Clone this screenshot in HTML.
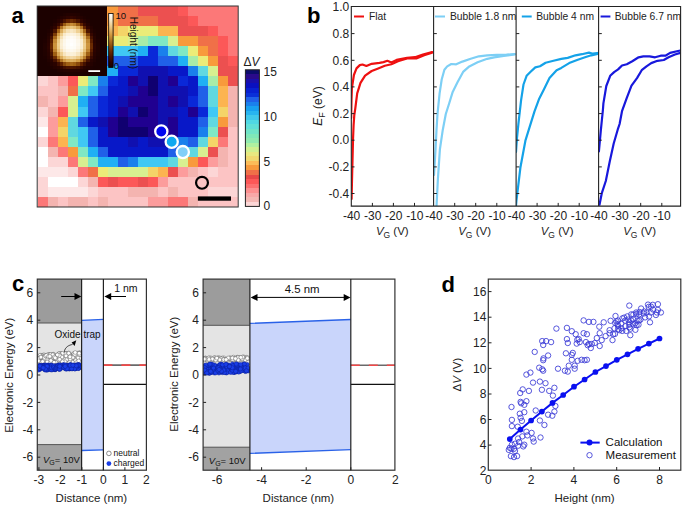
<!DOCTYPE html>
<html><head><meta charset="utf-8"><style>
html,body{margin:0;padding:0;background:#fff;overflow:hidden;}
svg{display:block;}
text{font-family:"Liberation Sans",sans-serif;}
</style></head><body>
<svg width="685" height="507" viewBox="0 0 685 507">
<defs><linearGradient id="dv" x1="0" y1="0" x2="0" y2="1"><stop offset="0.0" stop-color="#0c0c6c"/><stop offset="0.0333" stop-color="#0c0c6c"/><stop offset="0.0333" stop-color="#2a0a8a"/><stop offset="0.0667" stop-color="#2a0a8a"/><stop offset="0.0667" stop-color="#1a0eaa"/><stop offset="0.1" stop-color="#1a0eaa"/><stop offset="0.1" stop-color="#0a10c0"/><stop offset="0.1333" stop-color="#0a10c0"/><stop offset="0.1333" stop-color="#0820d0"/><stop offset="0.1667" stop-color="#0820d0"/><stop offset="0.1667" stop-color="#0a30d8"/><stop offset="0.2" stop-color="#0a30d8"/><stop offset="0.2" stop-color="#2060e8"/><stop offset="0.2333" stop-color="#2060e8"/><stop offset="0.2333" stop-color="#1a80ec"/><stop offset="0.2667" stop-color="#1a80ec"/><stop offset="0.2667" stop-color="#18a0f0"/><stop offset="0.3" stop-color="#18a0f0"/><stop offset="0.3" stop-color="#28b4f0"/><stop offset="0.3333" stop-color="#28b4f0"/><stop offset="0.3333" stop-color="#40c8ec"/><stop offset="0.3667" stop-color="#40c8ec"/><stop offset="0.3667" stop-color="#50d8e4"/><stop offset="0.4" stop-color="#50d8e4"/><stop offset="0.4" stop-color="#60e0d8"/><stop offset="0.4333" stop-color="#60e0d8"/><stop offset="0.4333" stop-color="#70e4c8"/><stop offset="0.4667" stop-color="#70e4c8"/><stop offset="0.4667" stop-color="#80e8b8"/><stop offset="0.5" stop-color="#80e8b8"/><stop offset="0.5" stop-color="#90eab0"/><stop offset="0.5333" stop-color="#90eab0"/><stop offset="0.5333" stop-color="#b0f0a0"/><stop offset="0.5667" stop-color="#b0f0a0"/><stop offset="0.5667" stop-color="#d0f090"/><stop offset="0.6" stop-color="#d0f090"/><stop offset="0.6" stop-color="#e8e880"/><stop offset="0.6333" stop-color="#e8e880"/><stop offset="0.6333" stop-color="#f0d870"/><stop offset="0.6667" stop-color="#f0d870"/><stop offset="0.6667" stop-color="#fcbc58"/><stop offset="0.7" stop-color="#fcbc58"/><stop offset="0.7" stop-color="#f89a3c"/><stop offset="0.7333" stop-color="#f89a3c"/><stop offset="0.7333" stop-color="#f07048"/><stop offset="0.7667" stop-color="#f07048"/><stop offset="0.7667" stop-color="#e84848"/><stop offset="0.8" stop-color="#e84848"/><stop offset="0.8" stop-color="#fc5858"/><stop offset="0.8333" stop-color="#fc5858"/><stop offset="0.8333" stop-color="#fc7070"/><stop offset="0.8667" stop-color="#fc7070"/><stop offset="0.8667" stop-color="#fc9090"/><stop offset="0.9" stop-color="#fc9090"/><stop offset="0.9" stop-color="#f8a8a8"/><stop offset="0.9333" stop-color="#f8a8a8"/><stop offset="0.9333" stop-color="#f4b8b4"/><stop offset="0.9667" stop-color="#f4b8b4"/><stop offset="0.9667" stop-color="#fcd6d6"/><stop offset="1.0" stop-color="#fcd6d6"/></linearGradient><linearGradient id="afm" x1="0" y1="0" x2="0" y2="1"><stop offset="0.00" stop-color="#ffffff"/>
<stop offset="0.10" stop-color="#fbefd6"/>
<stop offset="0.20" stop-color="#f1d69f"/>
<stop offset="0.30" stop-color="#e3b86c"/>
<stop offset="0.40" stop-color="#d09840"/>
<stop offset="0.50" stop-color="#b07323"/>
<stop offset="0.60" stop-color="#8e4e0e"/>
<stop offset="0.70" stop-color="#6b2b02"/>
<stop offset="0.80" stop-color="#4a1400"/>
<stop offset="0.90" stop-color="#2c0300"/>
<stop offset="1.00" stop-color="#160000"/></linearGradient></defs>
<rect width="685" height="507" fill="#fff"/>
<g id="pa">
<g shape-rendering="crispEdges">
<rect x="97.79" y="6.30" width="10.42" height="10.42" fill="#f89a3c"/>
<rect x="107.81" y="6.30" width="10.42" height="10.42" fill="#f89a3c"/>
<rect x="117.82" y="6.30" width="10.42" height="10.42" fill="#f07048"/>
<rect x="127.84" y="6.30" width="10.42" height="10.42" fill="#f07048"/>
<rect x="137.85" y="6.30" width="10.42" height="10.42" fill="#ec5050"/>
<rect x="147.87" y="6.30" width="10.42" height="10.42" fill="#ec5050"/>
<rect x="157.88" y="6.30" width="10.42" height="10.42" fill="#ec5050"/>
<rect x="167.89" y="6.30" width="10.42" height="10.42" fill="#ec5050"/>
<rect x="177.91" y="6.30" width="10.42" height="10.42" fill="#fc5858"/>
<rect x="187.93" y="6.30" width="10.42" height="10.42" fill="#fc7878"/>
<rect x="197.94" y="6.30" width="10.42" height="10.42" fill="#fc7878"/>
<rect x="207.95" y="6.30" width="10.42" height="10.42" fill="#fc7878"/>
<rect x="217.97" y="6.30" width="10.42" height="10.42" fill="#fc7878"/>
<rect x="227.99" y="6.30" width="10.42" height="10.42" fill="#fc7878"/>
<rect x="97.79" y="16.32" width="10.42" height="10.42" fill="#f89a3c"/>
<rect x="107.81" y="16.32" width="10.42" height="10.42" fill="#f89a3c"/>
<rect x="117.82" y="16.32" width="10.42" height="10.42" fill="#f07048"/>
<rect x="127.84" y="16.32" width="10.42" height="10.42" fill="#f07048"/>
<rect x="137.85" y="16.32" width="10.42" height="10.42" fill="#f07048"/>
<rect x="147.87" y="16.32" width="10.42" height="10.42" fill="#f07048"/>
<rect x="157.88" y="16.32" width="10.42" height="10.42" fill="#ec5050"/>
<rect x="167.89" y="16.32" width="10.42" height="10.42" fill="#ec5050"/>
<rect x="177.91" y="16.32" width="10.42" height="10.42" fill="#ec5050"/>
<rect x="187.93" y="16.32" width="10.42" height="10.42" fill="#fc5858"/>
<rect x="197.94" y="16.32" width="10.42" height="10.42" fill="#fc7878"/>
<rect x="207.95" y="16.32" width="10.42" height="10.42" fill="#fc7878"/>
<rect x="217.97" y="16.32" width="10.42" height="10.42" fill="#fc7878"/>
<rect x="227.99" y="16.32" width="10.42" height="10.42" fill="#fc7878"/>
<rect x="97.79" y="26.34" width="10.42" height="10.42" fill="#fcb450"/>
<rect x="107.81" y="26.34" width="10.42" height="10.42" fill="#fcb450"/>
<rect x="117.82" y="26.34" width="10.42" height="10.42" fill="#f4d468"/>
<rect x="127.84" y="26.34" width="10.42" height="10.42" fill="#ecec78"/>
<rect x="137.85" y="26.34" width="10.42" height="10.42" fill="#ecec78"/>
<rect x="147.87" y="26.34" width="10.42" height="10.42" fill="#ecec78"/>
<rect x="157.88" y="26.34" width="10.42" height="10.42" fill="#fcb450"/>
<rect x="167.89" y="26.34" width="10.42" height="10.42" fill="#fcb450"/>
<rect x="177.91" y="26.34" width="10.42" height="10.42" fill="#ec5050"/>
<rect x="187.93" y="26.34" width="10.42" height="10.42" fill="#ec5050"/>
<rect x="197.94" y="26.34" width="10.42" height="10.42" fill="#ec5050"/>
<rect x="207.95" y="26.34" width="10.42" height="10.42" fill="#fc5858"/>
<rect x="217.97" y="26.34" width="10.42" height="10.42" fill="#fc7878"/>
<rect x="227.99" y="26.34" width="10.42" height="10.42" fill="#fc7878"/>
<rect x="97.79" y="36.36" width="10.42" height="10.42" fill="#ecec78"/>
<rect x="107.81" y="36.36" width="10.42" height="10.42" fill="#ecec78"/>
<rect x="117.82" y="36.36" width="10.42" height="10.42" fill="#ecec78"/>
<rect x="127.84" y="36.36" width="10.42" height="10.42" fill="#d8f090"/>
<rect x="137.85" y="36.36" width="10.42" height="10.42" fill="#a8eca8"/>
<rect x="147.87" y="36.36" width="10.42" height="10.42" fill="#80e8c4"/>
<rect x="157.88" y="36.36" width="10.42" height="10.42" fill="#80e8c4"/>
<rect x="167.89" y="36.36" width="10.42" height="10.42" fill="#d8f090"/>
<rect x="177.91" y="36.36" width="10.42" height="10.42" fill="#f89a3c"/>
<rect x="187.93" y="36.36" width="10.42" height="10.42" fill="#f89a3c"/>
<rect x="197.94" y="36.36" width="10.42" height="10.42" fill="#f07048"/>
<rect x="207.95" y="36.36" width="10.42" height="10.42" fill="#f07048"/>
<rect x="217.97" y="36.36" width="10.42" height="10.42" fill="#fc5858"/>
<rect x="227.99" y="36.36" width="10.42" height="10.42" fill="#fc7878"/>
<rect x="97.79" y="46.38" width="10.42" height="10.42" fill="#40c8f4"/>
<rect x="107.81" y="46.38" width="10.42" height="10.42" fill="#40c8f4"/>
<rect x="117.82" y="46.38" width="10.42" height="10.42" fill="#40c8f4"/>
<rect x="127.84" y="46.38" width="10.42" height="10.42" fill="#40c8f4"/>
<rect x="137.85" y="46.38" width="10.42" height="10.42" fill="#20b0f4"/>
<rect x="147.87" y="46.38" width="10.42" height="10.42" fill="#0a28d8"/>
<rect x="157.88" y="46.38" width="10.42" height="10.42" fill="#1a80ec"/>
<rect x="167.89" y="46.38" width="10.42" height="10.42" fill="#60d8e0"/>
<rect x="177.91" y="46.38" width="10.42" height="10.42" fill="#80e8c4"/>
<rect x="187.93" y="46.38" width="10.42" height="10.42" fill="#ecec78"/>
<rect x="197.94" y="46.38" width="10.42" height="10.42" fill="#f89a3c"/>
<rect x="207.95" y="46.38" width="10.42" height="10.42" fill="#f07048"/>
<rect x="217.97" y="46.38" width="10.42" height="10.42" fill="#fc5858"/>
<rect x="227.99" y="46.38" width="10.42" height="10.42" fill="#fc7878"/>
<rect x="97.79" y="56.40" width="10.42" height="10.42" fill="#2060e8"/>
<rect x="107.81" y="56.40" width="10.42" height="10.42" fill="#2060e8"/>
<rect x="117.82" y="56.40" width="10.42" height="10.42" fill="#2060e8"/>
<rect x="127.84" y="56.40" width="10.42" height="10.42" fill="#2060e8"/>
<rect x="137.85" y="56.40" width="10.42" height="10.42" fill="#0a28d8"/>
<rect x="147.87" y="56.40" width="10.42" height="10.42" fill="#0a28d8"/>
<rect x="157.88" y="56.40" width="10.42" height="10.42" fill="#2060e8"/>
<rect x="167.89" y="56.40" width="10.42" height="10.42" fill="#2060e8"/>
<rect x="177.91" y="56.40" width="10.42" height="10.42" fill="#20b0f4"/>
<rect x="187.93" y="56.40" width="10.42" height="10.42" fill="#a8eca8"/>
<rect x="197.94" y="56.40" width="10.42" height="10.42" fill="#ecec78"/>
<rect x="207.95" y="56.40" width="10.42" height="10.42" fill="#f89a3c"/>
<rect x="217.97" y="56.40" width="10.42" height="10.42" fill="#ec5050"/>
<rect x="227.99" y="56.40" width="10.42" height="10.42" fill="#fc5858"/>
<rect x="37.70" y="66.42" width="10.42" height="10.42" fill="#fcd6d6"/>
<rect x="47.72" y="66.42" width="10.42" height="10.42" fill="#fcc4c4"/>
<rect x="57.73" y="66.42" width="10.42" height="10.42" fill="#fc9c9c"/>
<rect x="67.75" y="66.42" width="10.42" height="10.42" fill="#fc5858"/>
<rect x="77.76" y="66.42" width="10.42" height="10.42" fill="#ecec78"/>
<rect x="87.78" y="66.42" width="10.42" height="10.42" fill="#80e8c4"/>
<rect x="97.79" y="66.42" width="10.42" height="10.42" fill="#20b0f4"/>
<rect x="107.81" y="66.42" width="10.42" height="10.42" fill="#20b0f4"/>
<rect x="117.82" y="66.42" width="10.42" height="10.42" fill="#0a28d8"/>
<rect x="127.84" y="66.42" width="10.42" height="10.42" fill="#0a28d8"/>
<rect x="137.85" y="66.42" width="10.42" height="10.42" fill="#1010b0"/>
<rect x="147.87" y="66.42" width="10.42" height="10.42" fill="#1010b0"/>
<rect x="157.88" y="66.42" width="10.42" height="10.42" fill="#1010b0"/>
<rect x="167.89" y="66.42" width="10.42" height="10.42" fill="#0818c8"/>
<rect x="177.91" y="66.42" width="10.42" height="10.42" fill="#0818c8"/>
<rect x="187.93" y="66.42" width="10.42" height="10.42" fill="#1a80ec"/>
<rect x="197.94" y="66.42" width="10.42" height="10.42" fill="#60d8e0"/>
<rect x="207.95" y="66.42" width="10.42" height="10.42" fill="#d8f090"/>
<rect x="217.97" y="66.42" width="10.42" height="10.42" fill="#ec5050"/>
<rect x="227.99" y="66.42" width="10.42" height="10.42" fill="#ec5050"/>
<rect x="37.70" y="76.44" width="10.42" height="10.42" fill="#fcd6d6"/>
<rect x="47.72" y="76.44" width="10.42" height="10.42" fill="#fcc4c4"/>
<rect x="57.73" y="76.44" width="10.42" height="10.42" fill="#fc9c9c"/>
<rect x="67.75" y="76.44" width="10.42" height="10.42" fill="#fc5858"/>
<rect x="77.76" y="76.44" width="10.42" height="10.42" fill="#ecec78"/>
<rect x="87.78" y="76.44" width="10.42" height="10.42" fill="#80e8c4"/>
<rect x="97.79" y="76.44" width="10.42" height="10.42" fill="#1a80ec"/>
<rect x="107.81" y="76.44" width="10.42" height="10.42" fill="#0a28d8"/>
<rect x="117.82" y="76.44" width="10.42" height="10.42" fill="#0818c8"/>
<rect x="127.84" y="76.44" width="10.42" height="10.42" fill="#200090"/>
<rect x="137.85" y="76.44" width="10.42" height="10.42" fill="#1010b0"/>
<rect x="147.87" y="76.44" width="10.42" height="10.42" fill="#100070"/>
<rect x="157.88" y="76.44" width="10.42" height="10.42" fill="#1010b0"/>
<rect x="167.89" y="76.44" width="10.42" height="10.42" fill="#200090"/>
<rect x="177.91" y="76.44" width="10.42" height="10.42" fill="#0a28d8"/>
<rect x="187.93" y="76.44" width="10.42" height="10.42" fill="#0818c8"/>
<rect x="197.94" y="76.44" width="10.42" height="10.42" fill="#20b0f4"/>
<rect x="207.95" y="76.44" width="10.42" height="10.42" fill="#a8eca8"/>
<rect x="217.97" y="76.44" width="10.42" height="10.42" fill="#f89a3c"/>
<rect x="227.99" y="76.44" width="10.42" height="10.42" fill="#ec5050"/>
<rect x="37.70" y="86.46" width="10.42" height="10.42" fill="#fcc4c4"/>
<rect x="47.72" y="86.46" width="10.42" height="10.42" fill="#fcc4c4"/>
<rect x="57.73" y="86.46" width="10.42" height="10.42" fill="#f4b4b0"/>
<rect x="67.75" y="86.46" width="10.42" height="10.42" fill="#f07048"/>
<rect x="77.76" y="86.46" width="10.42" height="10.42" fill="#80e8c4"/>
<rect x="87.78" y="86.46" width="10.42" height="10.42" fill="#40c8f4"/>
<rect x="97.79" y="86.46" width="10.42" height="10.42" fill="#2060e8"/>
<rect x="107.81" y="86.46" width="10.42" height="10.42" fill="#0818c8"/>
<rect x="117.82" y="86.46" width="10.42" height="10.42" fill="#0818c8"/>
<rect x="127.84" y="86.46" width="10.42" height="10.42" fill="#1010b0"/>
<rect x="137.85" y="86.46" width="10.42" height="10.42" fill="#200090"/>
<rect x="147.87" y="86.46" width="10.42" height="10.42" fill="#100070"/>
<rect x="157.88" y="86.46" width="10.42" height="10.42" fill="#1010b0"/>
<rect x="167.89" y="86.46" width="10.42" height="10.42" fill="#1010b0"/>
<rect x="177.91" y="86.46" width="10.42" height="10.42" fill="#1010b0"/>
<rect x="187.93" y="86.46" width="10.42" height="10.42" fill="#0818c8"/>
<rect x="197.94" y="86.46" width="10.42" height="10.42" fill="#2060e8"/>
<rect x="207.95" y="86.46" width="10.42" height="10.42" fill="#60d8e0"/>
<rect x="217.97" y="86.46" width="10.42" height="10.42" fill="#fcb450"/>
<rect x="227.99" y="86.46" width="10.42" height="10.42" fill="#f4b4b0"/>
<rect x="37.70" y="96.48" width="10.42" height="10.42" fill="#f4b4b0"/>
<rect x="47.72" y="96.48" width="10.42" height="10.42" fill="#fcc4c4"/>
<rect x="57.73" y="96.48" width="10.42" height="10.42" fill="#fc9c9c"/>
<rect x="67.75" y="96.48" width="10.42" height="10.42" fill="#d8f090"/>
<rect x="77.76" y="96.48" width="10.42" height="10.42" fill="#20b0f4"/>
<rect x="87.78" y="96.48" width="10.42" height="10.42" fill="#2060e8"/>
<rect x="97.79" y="96.48" width="10.42" height="10.42" fill="#0a28d8"/>
<rect x="107.81" y="96.48" width="10.42" height="10.42" fill="#0818c8"/>
<rect x="117.82" y="96.48" width="10.42" height="10.42" fill="#1010b0"/>
<rect x="127.84" y="96.48" width="10.42" height="10.42" fill="#200090"/>
<rect x="137.85" y="96.48" width="10.42" height="10.42" fill="#200090"/>
<rect x="147.87" y="96.48" width="10.42" height="10.42" fill="#200090"/>
<rect x="157.88" y="96.48" width="10.42" height="10.42" fill="#1010b0"/>
<rect x="167.89" y="96.48" width="10.42" height="10.42" fill="#200090"/>
<rect x="177.91" y="96.48" width="10.42" height="10.42" fill="#1010b0"/>
<rect x="187.93" y="96.48" width="10.42" height="10.42" fill="#0a28d8"/>
<rect x="197.94" y="96.48" width="10.42" height="10.42" fill="#2060e8"/>
<rect x="207.95" y="96.48" width="10.42" height="10.42" fill="#60d8e0"/>
<rect x="217.97" y="96.48" width="10.42" height="10.42" fill="#fcb450"/>
<rect x="227.99" y="96.48" width="10.42" height="10.42" fill="#f4b4b0"/>
<rect x="37.70" y="106.50" width="10.42" height="10.42" fill="#fcd6d6"/>
<rect x="47.72" y="106.50" width="10.42" height="10.42" fill="#f4b4b0"/>
<rect x="57.73" y="106.50" width="10.42" height="10.42" fill="#fc5858"/>
<rect x="67.75" y="106.50" width="10.42" height="10.42" fill="#d8f090"/>
<rect x="77.76" y="106.50" width="10.42" height="10.42" fill="#40c8f4"/>
<rect x="87.78" y="106.50" width="10.42" height="10.42" fill="#2060e8"/>
<rect x="97.79" y="106.50" width="10.42" height="10.42" fill="#0a28d8"/>
<rect x="107.81" y="106.50" width="10.42" height="10.42" fill="#0818c8"/>
<rect x="117.82" y="106.50" width="10.42" height="10.42" fill="#200090"/>
<rect x="127.84" y="106.50" width="10.42" height="10.42" fill="#1010b0"/>
<rect x="137.85" y="106.50" width="10.42" height="10.42" fill="#100070"/>
<rect x="147.87" y="106.50" width="10.42" height="10.42" fill="#200090"/>
<rect x="157.88" y="106.50" width="10.42" height="10.42" fill="#1010b0"/>
<rect x="167.89" y="106.50" width="10.42" height="10.42" fill="#1010b0"/>
<rect x="177.91" y="106.50" width="10.42" height="10.42" fill="#0818c8"/>
<rect x="187.93" y="106.50" width="10.42" height="10.42" fill="#200090"/>
<rect x="197.94" y="106.50" width="10.42" height="10.42" fill="#0a28d8"/>
<rect x="207.95" y="106.50" width="10.42" height="10.42" fill="#40c8f4"/>
<rect x="217.97" y="106.50" width="10.42" height="10.42" fill="#f4d468"/>
<rect x="227.99" y="106.50" width="10.42" height="10.42" fill="#f4b4b0"/>
<rect x="37.70" y="116.52" width="10.42" height="10.42" fill="#fde8e8"/>
<rect x="47.72" y="116.52" width="10.42" height="10.42" fill="#fc9c9c"/>
<rect x="57.73" y="116.52" width="10.42" height="10.42" fill="#fcb450"/>
<rect x="67.75" y="116.52" width="10.42" height="10.42" fill="#60d8e0"/>
<rect x="77.76" y="116.52" width="10.42" height="10.42" fill="#2060e8"/>
<rect x="87.78" y="116.52" width="10.42" height="10.42" fill="#0818c8"/>
<rect x="97.79" y="116.52" width="10.42" height="10.42" fill="#1010b0"/>
<rect x="107.81" y="116.52" width="10.42" height="10.42" fill="#200090"/>
<rect x="117.82" y="116.52" width="10.42" height="10.42" fill="#100070"/>
<rect x="127.84" y="116.52" width="10.42" height="10.42" fill="#200090"/>
<rect x="137.85" y="116.52" width="10.42" height="10.42" fill="#200090"/>
<rect x="147.87" y="116.52" width="10.42" height="10.42" fill="#200090"/>
<rect x="157.88" y="116.52" width="10.42" height="10.42" fill="#1010b0"/>
<rect x="167.89" y="116.52" width="10.42" height="10.42" fill="#200090"/>
<rect x="177.91" y="116.52" width="10.42" height="10.42" fill="#0818c8"/>
<rect x="187.93" y="116.52" width="10.42" height="10.42" fill="#0818c8"/>
<rect x="197.94" y="116.52" width="10.42" height="10.42" fill="#2060e8"/>
<rect x="207.95" y="116.52" width="10.42" height="10.42" fill="#60d8e0"/>
<rect x="217.97" y="116.52" width="10.42" height="10.42" fill="#f89a3c"/>
<rect x="227.99" y="116.52" width="10.42" height="10.42" fill="#f4b4b0"/>
<rect x="37.70" y="126.54" width="10.42" height="10.42" fill="#ffffff"/>
<rect x="47.72" y="126.54" width="10.42" height="10.42" fill="#fc9c9c"/>
<rect x="57.73" y="126.54" width="10.42" height="10.42" fill="#f4d468"/>
<rect x="67.75" y="126.54" width="10.42" height="10.42" fill="#60d8e0"/>
<rect x="77.76" y="126.54" width="10.42" height="10.42" fill="#40c8f4"/>
<rect x="87.78" y="126.54" width="10.42" height="10.42" fill="#2060e8"/>
<rect x="97.79" y="126.54" width="10.42" height="10.42" fill="#0818c8"/>
<rect x="107.81" y="126.54" width="10.42" height="10.42" fill="#200090"/>
<rect x="117.82" y="126.54" width="10.42" height="10.42" fill="#100070"/>
<rect x="127.84" y="126.54" width="10.42" height="10.42" fill="#100070"/>
<rect x="137.85" y="126.54" width="10.42" height="10.42" fill="#100070"/>
<rect x="147.87" y="126.54" width="10.42" height="10.42" fill="#200090"/>
<rect x="157.88" y="126.54" width="10.42" height="10.42" fill="#1010b0"/>
<rect x="167.89" y="126.54" width="10.42" height="10.42" fill="#200090"/>
<rect x="177.91" y="126.54" width="10.42" height="10.42" fill="#0818c8"/>
<rect x="187.93" y="126.54" width="10.42" height="10.42" fill="#0818c8"/>
<rect x="197.94" y="126.54" width="10.42" height="10.42" fill="#1a80ec"/>
<rect x="207.95" y="126.54" width="10.42" height="10.42" fill="#80e8c4"/>
<rect x="217.97" y="126.54" width="10.42" height="10.42" fill="#ec5050"/>
<rect x="227.99" y="126.54" width="10.42" height="10.42" fill="#fcc4c4"/>
<rect x="37.70" y="136.56" width="10.42" height="10.42" fill="#fcd6d6"/>
<rect x="47.72" y="136.56" width="10.42" height="10.42" fill="#fc7878"/>
<rect x="57.73" y="136.56" width="10.42" height="10.42" fill="#fcb450"/>
<rect x="67.75" y="136.56" width="10.42" height="10.42" fill="#80e8c4"/>
<rect x="77.76" y="136.56" width="10.42" height="10.42" fill="#40c8f4"/>
<rect x="87.78" y="136.56" width="10.42" height="10.42" fill="#2060e8"/>
<rect x="97.79" y="136.56" width="10.42" height="10.42" fill="#0818c8"/>
<rect x="107.81" y="136.56" width="10.42" height="10.42" fill="#0818c8"/>
<rect x="117.82" y="136.56" width="10.42" height="10.42" fill="#0818c8"/>
<rect x="127.84" y="136.56" width="10.42" height="10.42" fill="#1010b0"/>
<rect x="137.85" y="136.56" width="10.42" height="10.42" fill="#0818c8"/>
<rect x="147.87" y="136.56" width="10.42" height="10.42" fill="#1010b0"/>
<rect x="157.88" y="136.56" width="10.42" height="10.42" fill="#1010b0"/>
<rect x="167.89" y="136.56" width="10.42" height="10.42" fill="#2060e8"/>
<rect x="177.91" y="136.56" width="10.42" height="10.42" fill="#1a80ec"/>
<rect x="187.93" y="136.56" width="10.42" height="10.42" fill="#2060e8"/>
<rect x="197.94" y="136.56" width="10.42" height="10.42" fill="#60d8e0"/>
<rect x="207.95" y="136.56" width="10.42" height="10.42" fill="#f4d468"/>
<rect x="217.97" y="136.56" width="10.42" height="10.42" fill="#fc7878"/>
<rect x="227.99" y="136.56" width="10.42" height="10.42" fill="#fcc4c4"/>
<rect x="37.70" y="146.58" width="10.42" height="10.42" fill="#ffffff"/>
<rect x="47.72" y="146.58" width="10.42" height="10.42" fill="#f4b4b0"/>
<rect x="57.73" y="146.58" width="10.42" height="10.42" fill="#fc7878"/>
<rect x="67.75" y="146.58" width="10.42" height="10.42" fill="#f89a3c"/>
<rect x="77.76" y="146.58" width="10.42" height="10.42" fill="#80e8c4"/>
<rect x="87.78" y="146.58" width="10.42" height="10.42" fill="#20b0f4"/>
<rect x="97.79" y="146.58" width="10.42" height="10.42" fill="#2060e8"/>
<rect x="107.81" y="146.58" width="10.42" height="10.42" fill="#0818c8"/>
<rect x="117.82" y="146.58" width="10.42" height="10.42" fill="#0818c8"/>
<rect x="127.84" y="146.58" width="10.42" height="10.42" fill="#0818c8"/>
<rect x="137.85" y="146.58" width="10.42" height="10.42" fill="#0818c8"/>
<rect x="147.87" y="146.58" width="10.42" height="10.42" fill="#0818c8"/>
<rect x="157.88" y="146.58" width="10.42" height="10.42" fill="#0818c8"/>
<rect x="167.89" y="146.58" width="10.42" height="10.42" fill="#2060e8"/>
<rect x="177.91" y="146.58" width="10.42" height="10.42" fill="#60d8e0"/>
<rect x="187.93" y="146.58" width="10.42" height="10.42" fill="#60d8e0"/>
<rect x="197.94" y="146.58" width="10.42" height="10.42" fill="#d8f090"/>
<rect x="207.95" y="146.58" width="10.42" height="10.42" fill="#ec5050"/>
<rect x="217.97" y="146.58" width="10.42" height="10.42" fill="#f4b4b0"/>
<rect x="227.99" y="146.58" width="10.42" height="10.42" fill="#fcc4c4"/>
<rect x="37.70" y="156.60" width="10.42" height="10.42" fill="#ffffff"/>
<rect x="47.72" y="156.60" width="10.42" height="10.42" fill="#fcd6d6"/>
<rect x="57.73" y="156.60" width="10.42" height="10.42" fill="#fcd6d6"/>
<rect x="67.75" y="156.60" width="10.42" height="10.42" fill="#fc7878"/>
<rect x="77.76" y="156.60" width="10.42" height="10.42" fill="#d8f090"/>
<rect x="87.78" y="156.60" width="10.42" height="10.42" fill="#80e8c4"/>
<rect x="97.79" y="156.60" width="10.42" height="10.42" fill="#20b0f4"/>
<rect x="107.81" y="156.60" width="10.42" height="10.42" fill="#20b0f4"/>
<rect x="117.82" y="156.60" width="10.42" height="10.42" fill="#2060e8"/>
<rect x="127.84" y="156.60" width="10.42" height="10.42" fill="#1a80ec"/>
<rect x="137.85" y="156.60" width="10.42" height="10.42" fill="#40c8f4"/>
<rect x="147.87" y="156.60" width="10.42" height="10.42" fill="#40c8f4"/>
<rect x="157.88" y="156.60" width="10.42" height="10.42" fill="#40c8f4"/>
<rect x="167.89" y="156.60" width="10.42" height="10.42" fill="#60d8e0"/>
<rect x="177.91" y="156.60" width="10.42" height="10.42" fill="#d8f090"/>
<rect x="187.93" y="156.60" width="10.42" height="10.42" fill="#f89a3c"/>
<rect x="197.94" y="156.60" width="10.42" height="10.42" fill="#fc5858"/>
<rect x="207.95" y="156.60" width="10.42" height="10.42" fill="#fc9c9c"/>
<rect x="217.97" y="156.60" width="10.42" height="10.42" fill="#f4b4b0"/>
<rect x="227.99" y="156.60" width="10.42" height="10.42" fill="#fcc4c4"/>
<rect x="37.70" y="166.62" width="10.42" height="10.42" fill="#fde8e8"/>
<rect x="47.72" y="166.62" width="10.42" height="10.42" fill="#fde8e8"/>
<rect x="57.73" y="166.62" width="10.42" height="10.42" fill="#fde8e8"/>
<rect x="67.75" y="166.62" width="10.42" height="10.42" fill="#fcd6d6"/>
<rect x="77.76" y="166.62" width="10.42" height="10.42" fill="#fc7878"/>
<rect x="87.78" y="166.62" width="10.42" height="10.42" fill="#f07048"/>
<rect x="97.79" y="166.62" width="10.42" height="10.42" fill="#ecec78"/>
<rect x="107.81" y="166.62" width="10.42" height="10.42" fill="#d8f090"/>
<rect x="117.82" y="166.62" width="10.42" height="10.42" fill="#d8f090"/>
<rect x="127.84" y="166.62" width="10.42" height="10.42" fill="#d8f090"/>
<rect x="137.85" y="166.62" width="10.42" height="10.42" fill="#d8f090"/>
<rect x="147.87" y="166.62" width="10.42" height="10.42" fill="#f4d468"/>
<rect x="157.88" y="166.62" width="10.42" height="10.42" fill="#fcb450"/>
<rect x="167.89" y="166.62" width="10.42" height="10.42" fill="#ec5050"/>
<rect x="177.91" y="166.62" width="10.42" height="10.42" fill="#fc9c9c"/>
<rect x="187.93" y="166.62" width="10.42" height="10.42" fill="#f4b4b0"/>
<rect x="197.94" y="166.62" width="10.42" height="10.42" fill="#fcc4c4"/>
<rect x="207.95" y="166.62" width="10.42" height="10.42" fill="#fcd6d6"/>
<rect x="217.97" y="166.62" width="10.42" height="10.42" fill="#fcc4c4"/>
<rect x="227.99" y="166.62" width="10.42" height="10.42" fill="#fcc4c4"/>
<rect x="37.70" y="176.64" width="10.42" height="10.42" fill="#fcd6d6"/>
<rect x="47.72" y="176.64" width="10.42" height="10.42" fill="#ffffff"/>
<rect x="57.73" y="176.64" width="10.42" height="10.42" fill="#ffffff"/>
<rect x="67.75" y="176.64" width="10.42" height="10.42" fill="#ffffff"/>
<rect x="77.76" y="176.64" width="10.42" height="10.42" fill="#fcd6d6"/>
<rect x="87.78" y="176.64" width="10.42" height="10.42" fill="#f4b4b0"/>
<rect x="97.79" y="176.64" width="10.42" height="10.42" fill="#fc5858"/>
<rect x="107.81" y="176.64" width="10.42" height="10.42" fill="#ec5050"/>
<rect x="117.82" y="176.64" width="10.42" height="10.42" fill="#fc5858"/>
<rect x="127.84" y="176.64" width="10.42" height="10.42" fill="#fc5858"/>
<rect x="137.85" y="176.64" width="10.42" height="10.42" fill="#ec5050"/>
<rect x="147.87" y="176.64" width="10.42" height="10.42" fill="#fc5858"/>
<rect x="157.88" y="176.64" width="10.42" height="10.42" fill="#fc9c9c"/>
<rect x="167.89" y="176.64" width="10.42" height="10.42" fill="#fcc4c4"/>
<rect x="177.91" y="176.64" width="10.42" height="10.42" fill="#fcc4c4"/>
<rect x="187.93" y="176.64" width="10.42" height="10.42" fill="#fcc4c4"/>
<rect x="197.94" y="176.64" width="10.42" height="10.42" fill="#fcc4c4"/>
<rect x="207.95" y="176.64" width="10.42" height="10.42" fill="#fcc4c4"/>
<rect x="217.97" y="176.64" width="10.42" height="10.42" fill="#fcc4c4"/>
<rect x="227.99" y="176.64" width="10.42" height="10.42" fill="#fcc4c4"/>
<rect x="37.70" y="186.66" width="10.42" height="10.42" fill="#fcd6d6"/>
<rect x="47.72" y="186.66" width="10.42" height="10.42" fill="#fde8e8"/>
<rect x="57.73" y="186.66" width="10.42" height="10.42" fill="#fde8e8"/>
<rect x="67.75" y="186.66" width="10.42" height="10.42" fill="#fde8e8"/>
<rect x="77.76" y="186.66" width="10.42" height="10.42" fill="#fde8e8"/>
<rect x="87.78" y="186.66" width="10.42" height="10.42" fill="#fcd6d6"/>
<rect x="97.79" y="186.66" width="10.42" height="10.42" fill="#fcc4c4"/>
<rect x="107.81" y="186.66" width="10.42" height="10.42" fill="#fcc4c4"/>
<rect x="117.82" y="186.66" width="10.42" height="10.42" fill="#fcc4c4"/>
<rect x="127.84" y="186.66" width="10.42" height="10.42" fill="#f4b4b0"/>
<rect x="137.85" y="186.66" width="10.42" height="10.42" fill="#f4b4b0"/>
<rect x="147.87" y="186.66" width="10.42" height="10.42" fill="#f4b4b0"/>
<rect x="157.88" y="186.66" width="10.42" height="10.42" fill="#fcc4c4"/>
<rect x="167.89" y="186.66" width="10.42" height="10.42" fill="#f4b4b0"/>
<rect x="177.91" y="186.66" width="10.42" height="10.42" fill="#fcc4c4"/>
<rect x="187.93" y="186.66" width="10.42" height="10.42" fill="#fcc4c4"/>
<rect x="197.94" y="186.66" width="10.42" height="10.42" fill="#fcc4c4"/>
<rect x="207.95" y="186.66" width="10.42" height="10.42" fill="#fcd6d6"/>
<rect x="217.97" y="186.66" width="10.42" height="10.42" fill="#fcd6d6"/>
<rect x="227.99" y="186.66" width="10.42" height="10.42" fill="#fcd6d6"/>
<rect x="37.70" y="196.68" width="10.42" height="10.42" fill="#fc7878"/>
<rect x="47.72" y="196.68" width="10.42" height="10.42" fill="#f4b4b0"/>
<rect x="57.73" y="196.68" width="10.42" height="10.42" fill="#fcc4c4"/>
<rect x="67.75" y="196.68" width="10.42" height="10.42" fill="#f4b4b0"/>
<rect x="77.76" y="196.68" width="10.42" height="10.42" fill="#f4b4b0"/>
<rect x="87.78" y="196.68" width="10.42" height="10.42" fill="#fcc4c4"/>
<rect x="97.79" y="196.68" width="10.42" height="10.42" fill="#f4b4b0"/>
<rect x="107.81" y="196.68" width="10.42" height="10.42" fill="#fcc4c4"/>
<rect x="117.82" y="196.68" width="10.42" height="10.42" fill="#fcc4c4"/>
<rect x="127.84" y="196.68" width="10.42" height="10.42" fill="#fcc4c4"/>
<rect x="137.85" y="196.68" width="10.42" height="10.42" fill="#fcc4c4"/>
<rect x="147.87" y="196.68" width="10.42" height="10.42" fill="#fc9c9c"/>
<rect x="157.88" y="196.68" width="10.42" height="10.42" fill="#fc9c9c"/>
<rect x="167.89" y="196.68" width="10.42" height="10.42" fill="#fc7878"/>
<rect x="177.91" y="196.68" width="10.42" height="10.42" fill="#fc7878"/>
<rect x="187.93" y="196.68" width="10.42" height="10.42" fill="#f4b4b0"/>
<rect x="197.94" y="196.68" width="10.42" height="10.42" fill="#fcc4c4"/>
<rect x="207.95" y="196.68" width="10.42" height="10.42" fill="#fcc4c4"/>
<rect x="217.97" y="196.68" width="10.42" height="10.42" fill="#fcc4c4"/>
<rect x="227.99" y="196.68" width="10.42" height="10.42" fill="#fcc4c4"/>
<rect x="36.7" y="6.3" width="69.5" height="69.1" fill="#220000"/>
<rect x="36.70" y="6.30" width="3.61" height="3.59" fill="#1b0100"/>
<rect x="40.01" y="6.30" width="3.61" height="3.59" fill="#1c0100"/>
<rect x="43.32" y="6.30" width="3.61" height="3.59" fill="#1c0100"/>
<rect x="46.63" y="6.30" width="3.61" height="3.59" fill="#1c0100"/>
<rect x="49.94" y="6.30" width="3.61" height="3.59" fill="#1c0100"/>
<rect x="53.25" y="6.30" width="3.61" height="3.59" fill="#1c0100"/>
<rect x="56.56" y="6.30" width="3.61" height="3.59" fill="#1c0100"/>
<rect x="59.87" y="6.30" width="3.61" height="3.59" fill="#1c0100"/>
<rect x="63.18" y="6.30" width="3.61" height="3.59" fill="#1c0100"/>
<rect x="66.49" y="6.30" width="3.61" height="3.59" fill="#1c0100"/>
<rect x="69.80" y="6.30" width="3.61" height="3.59" fill="#1c0100"/>
<rect x="73.10" y="6.30" width="3.61" height="3.59" fill="#1c0100"/>
<rect x="76.41" y="6.30" width="3.61" height="3.59" fill="#1c0100"/>
<rect x="79.72" y="6.30" width="3.61" height="3.59" fill="#1c0100"/>
<rect x="83.03" y="6.30" width="3.61" height="3.59" fill="#1c0100"/>
<rect x="86.34" y="6.30" width="3.61" height="3.59" fill="#1c0100"/>
<rect x="89.65" y="6.30" width="3.61" height="3.59" fill="#1c0100"/>
<rect x="92.96" y="6.30" width="3.61" height="3.59" fill="#1c0100"/>
<rect x="96.27" y="6.30" width="3.61" height="3.59" fill="#1c0100"/>
<rect x="99.58" y="6.30" width="3.61" height="3.59" fill="#1c0100"/>
<rect x="102.89" y="6.30" width="3.61" height="3.59" fill="#1b0100"/>
<rect x="36.70" y="9.59" width="3.61" height="3.59" fill="#1c0100"/>
<rect x="40.01" y="9.59" width="3.61" height="3.59" fill="#1c0100"/>
<rect x="43.32" y="9.59" width="3.61" height="3.59" fill="#1c0100"/>
<rect x="46.63" y="9.59" width="3.61" height="3.59" fill="#1c0100"/>
<rect x="49.94" y="9.59" width="3.61" height="3.59" fill="#1c0100"/>
<rect x="53.25" y="9.59" width="3.61" height="3.59" fill="#1c0100"/>
<rect x="56.56" y="9.59" width="3.61" height="3.59" fill="#1c0100"/>
<rect x="59.87" y="9.59" width="3.61" height="3.59" fill="#1c0100"/>
<rect x="63.18" y="9.59" width="3.61" height="3.59" fill="#1c0100"/>
<rect x="66.49" y="9.59" width="3.61" height="3.59" fill="#1c0100"/>
<rect x="69.80" y="9.59" width="3.61" height="3.59" fill="#1c0100"/>
<rect x="73.10" y="9.59" width="3.61" height="3.59" fill="#1c0100"/>
<rect x="76.41" y="9.59" width="3.61" height="3.59" fill="#1c0100"/>
<rect x="79.72" y="9.59" width="3.61" height="3.59" fill="#1c0100"/>
<rect x="83.03" y="9.59" width="3.61" height="3.59" fill="#1c0100"/>
<rect x="86.34" y="9.59" width="3.61" height="3.59" fill="#1c0100"/>
<rect x="89.65" y="9.59" width="3.61" height="3.59" fill="#1c0100"/>
<rect x="92.96" y="9.59" width="3.61" height="3.59" fill="#1c0100"/>
<rect x="96.27" y="9.59" width="3.61" height="3.59" fill="#1c0100"/>
<rect x="99.58" y="9.59" width="3.61" height="3.59" fill="#1c0100"/>
<rect x="102.89" y="9.59" width="3.61" height="3.59" fill="#1c0100"/>
<rect x="36.70" y="12.88" width="3.61" height="3.59" fill="#1c0100"/>
<rect x="40.01" y="12.88" width="3.61" height="3.59" fill="#1c0100"/>
<rect x="43.32" y="12.88" width="3.61" height="3.59" fill="#1c0100"/>
<rect x="46.63" y="12.88" width="3.61" height="3.59" fill="#1c0100"/>
<rect x="49.94" y="12.88" width="3.61" height="3.59" fill="#1c0100"/>
<rect x="53.25" y="12.88" width="3.61" height="3.59" fill="#1c0100"/>
<rect x="56.56" y="12.88" width="3.61" height="3.59" fill="#1c0100"/>
<rect x="59.87" y="12.88" width="3.61" height="3.59" fill="#1d0100"/>
<rect x="63.18" y="12.88" width="3.61" height="3.59" fill="#200200"/>
<rect x="66.49" y="12.88" width="3.61" height="3.59" fill="#230200"/>
<rect x="69.80" y="12.88" width="3.61" height="3.59" fill="#240200"/>
<rect x="73.10" y="12.88" width="3.61" height="3.59" fill="#230200"/>
<rect x="76.41" y="12.88" width="3.61" height="3.59" fill="#210200"/>
<rect x="79.72" y="12.88" width="3.61" height="3.59" fill="#1d0100"/>
<rect x="83.03" y="12.88" width="3.61" height="3.59" fill="#1c0100"/>
<rect x="86.34" y="12.88" width="3.61" height="3.59" fill="#1c0100"/>
<rect x="89.65" y="12.88" width="3.61" height="3.59" fill="#1c0100"/>
<rect x="92.96" y="12.88" width="3.61" height="3.59" fill="#1c0100"/>
<rect x="96.27" y="12.88" width="3.61" height="3.59" fill="#1c0100"/>
<rect x="99.58" y="12.88" width="3.61" height="3.59" fill="#1c0100"/>
<rect x="102.89" y="12.88" width="3.61" height="3.59" fill="#1c0100"/>
<rect x="36.70" y="16.17" width="3.61" height="3.59" fill="#1c0100"/>
<rect x="40.01" y="16.17" width="3.61" height="3.59" fill="#1c0100"/>
<rect x="43.32" y="16.17" width="3.61" height="3.59" fill="#1c0100"/>
<rect x="46.63" y="16.17" width="3.61" height="3.59" fill="#1c0100"/>
<rect x="49.94" y="16.17" width="3.61" height="3.59" fill="#1c0100"/>
<rect x="53.25" y="16.17" width="3.61" height="3.59" fill="#1c0100"/>
<rect x="56.56" y="16.17" width="3.61" height="3.59" fill="#1f0100"/>
<rect x="59.87" y="16.17" width="3.61" height="3.59" fill="#240200"/>
<rect x="63.18" y="16.17" width="3.61" height="3.59" fill="#280300"/>
<rect x="66.49" y="16.17" width="3.61" height="3.59" fill="#2e0400"/>
<rect x="69.80" y="16.17" width="3.61" height="3.59" fill="#330600"/>
<rect x="73.10" y="16.17" width="3.61" height="3.59" fill="#2f0400"/>
<rect x="76.41" y="16.17" width="3.61" height="3.59" fill="#280300"/>
<rect x="79.72" y="16.17" width="3.61" height="3.59" fill="#240200"/>
<rect x="83.03" y="16.17" width="3.61" height="3.59" fill="#1f0100"/>
<rect x="86.34" y="16.17" width="3.61" height="3.59" fill="#1c0100"/>
<rect x="89.65" y="16.17" width="3.61" height="3.59" fill="#1c0100"/>
<rect x="92.96" y="16.17" width="3.61" height="3.59" fill="#1c0100"/>
<rect x="96.27" y="16.17" width="3.61" height="3.59" fill="#1c0100"/>
<rect x="99.58" y="16.17" width="3.61" height="3.59" fill="#1c0100"/>
<rect x="102.89" y="16.17" width="3.61" height="3.59" fill="#1c0100"/>
<rect x="36.70" y="19.46" width="3.61" height="3.59" fill="#1c0100"/>
<rect x="40.01" y="19.46" width="3.61" height="3.59" fill="#1c0100"/>
<rect x="43.32" y="19.46" width="3.61" height="3.59" fill="#1c0100"/>
<rect x="46.63" y="19.46" width="3.61" height="3.59" fill="#1c0100"/>
<rect x="49.94" y="19.46" width="3.61" height="3.59" fill="#1c0100"/>
<rect x="53.25" y="19.46" width="3.61" height="3.59" fill="#1f0100"/>
<rect x="56.56" y="19.46" width="3.61" height="3.59" fill="#260200"/>
<rect x="59.87" y="19.46" width="3.61" height="3.59" fill="#310400"/>
<rect x="63.18" y="19.46" width="3.61" height="3.59" fill="#491300"/>
<rect x="66.49" y="19.46" width="3.61" height="3.59" fill="#622200"/>
<rect x="69.80" y="19.46" width="3.61" height="3.59" fill="#6e2e03"/>
<rect x="73.10" y="19.46" width="3.61" height="3.59" fill="#622300"/>
<rect x="76.41" y="19.46" width="3.61" height="3.59" fill="#4a1400"/>
<rect x="79.72" y="19.46" width="3.61" height="3.59" fill="#310500"/>
<rect x="83.03" y="19.46" width="3.61" height="3.59" fill="#260200"/>
<rect x="86.34" y="19.46" width="3.61" height="3.59" fill="#1f0100"/>
<rect x="89.65" y="19.46" width="3.61" height="3.59" fill="#1c0100"/>
<rect x="92.96" y="19.46" width="3.61" height="3.59" fill="#1c0100"/>
<rect x="96.27" y="19.46" width="3.61" height="3.59" fill="#1c0100"/>
<rect x="99.58" y="19.46" width="3.61" height="3.59" fill="#1c0100"/>
<rect x="102.89" y="19.46" width="3.61" height="3.59" fill="#1c0100"/>
<rect x="36.70" y="22.75" width="3.61" height="3.59" fill="#1c0100"/>
<rect x="40.01" y="22.75" width="3.61" height="3.59" fill="#1c0100"/>
<rect x="43.32" y="22.75" width="3.61" height="3.59" fill="#1c0100"/>
<rect x="46.63" y="22.75" width="3.61" height="3.59" fill="#1c0100"/>
<rect x="49.94" y="22.75" width="3.61" height="3.59" fill="#1d0100"/>
<rect x="53.25" y="22.75" width="3.61" height="3.59" fill="#250200"/>
<rect x="56.56" y="22.75" width="3.61" height="3.59" fill="#350700"/>
<rect x="59.87" y="22.75" width="3.61" height="3.59" fill="#5f2100"/>
<rect x="63.18" y="22.75" width="3.61" height="3.59" fill="#9a5a12"/>
<rect x="66.49" y="22.75" width="3.61" height="3.59" fill="#bc812e"/>
<rect x="69.80" y="22.75" width="3.61" height="3.59" fill="#c88e38"/>
<rect x="73.10" y="22.75" width="3.61" height="3.59" fill="#bd822e"/>
<rect x="76.41" y="22.75" width="3.61" height="3.59" fill="#9b5b12"/>
<rect x="79.72" y="22.75" width="3.61" height="3.59" fill="#612200"/>
<rect x="83.03" y="22.75" width="3.61" height="3.59" fill="#370800"/>
<rect x="86.34" y="22.75" width="3.61" height="3.59" fill="#250200"/>
<rect x="89.65" y="22.75" width="3.61" height="3.59" fill="#1d0100"/>
<rect x="92.96" y="22.75" width="3.61" height="3.59" fill="#1c0100"/>
<rect x="96.27" y="22.75" width="3.61" height="3.59" fill="#1c0100"/>
<rect x="99.58" y="22.75" width="3.61" height="3.59" fill="#1c0100"/>
<rect x="102.89" y="22.75" width="3.61" height="3.59" fill="#1c0100"/>
<rect x="36.70" y="26.04" width="3.61" height="3.59" fill="#1c0100"/>
<rect x="40.01" y="26.04" width="3.61" height="3.59" fill="#1c0100"/>
<rect x="43.32" y="26.04" width="3.61" height="3.59" fill="#1c0100"/>
<rect x="46.63" y="26.04" width="3.61" height="3.59" fill="#1c0100"/>
<rect x="49.94" y="26.04" width="3.61" height="3.59" fill="#230200"/>
<rect x="53.25" y="26.04" width="3.61" height="3.59" fill="#2f0400"/>
<rect x="56.56" y="26.04" width="3.61" height="3.59" fill="#602100"/>
<rect x="59.87" y="26.04" width="3.61" height="3.59" fill="#af7121"/>
<rect x="63.18" y="26.04" width="3.61" height="3.59" fill="#d7a552"/>
<rect x="66.49" y="26.04" width="3.61" height="3.59" fill="#e6be75"/>
<rect x="69.80" y="26.04" width="3.61" height="3.59" fill="#ebc780"/>
<rect x="73.10" y="26.04" width="3.61" height="3.59" fill="#e7bf75"/>
<rect x="76.41" y="26.04" width="3.61" height="3.59" fill="#d8a653"/>
<rect x="79.72" y="26.04" width="3.61" height="3.59" fill="#b17323"/>
<rect x="83.03" y="26.04" width="3.61" height="3.59" fill="#622300"/>
<rect x="86.34" y="26.04" width="3.61" height="3.59" fill="#300400"/>
<rect x="89.65" y="26.04" width="3.61" height="3.59" fill="#230200"/>
<rect x="92.96" y="26.04" width="3.61" height="3.59" fill="#1c0100"/>
<rect x="96.27" y="26.04" width="3.61" height="3.59" fill="#1c0100"/>
<rect x="99.58" y="26.04" width="3.61" height="3.59" fill="#1c0100"/>
<rect x="102.89" y="26.04" width="3.61" height="3.59" fill="#1c0100"/>
<rect x="36.70" y="29.33" width="3.61" height="3.59" fill="#1c0100"/>
<rect x="40.01" y="29.33" width="3.61" height="3.59" fill="#1c0100"/>
<rect x="43.32" y="29.33" width="3.61" height="3.59" fill="#1c0100"/>
<rect x="46.63" y="29.33" width="3.61" height="3.59" fill="#1f0100"/>
<rect x="49.94" y="29.33" width="3.61" height="3.59" fill="#280300"/>
<rect x="53.25" y="29.33" width="3.61" height="3.59" fill="#4b1500"/>
<rect x="56.56" y="29.33" width="3.61" height="3.59" fill="#a56518"/>
<rect x="59.87" y="29.33" width="3.61" height="3.59" fill="#dbab5b"/>
<rect x="63.18" y="29.33" width="3.61" height="3.59" fill="#efcf92"/>
<rect x="66.49" y="29.33" width="3.61" height="3.59" fill="#f6e1b6"/>
<rect x="69.80" y="29.33" width="3.61" height="3.59" fill="#f8e7c3"/>
<rect x="73.10" y="29.33" width="3.61" height="3.59" fill="#f6e1b7"/>
<rect x="76.41" y="29.33" width="3.61" height="3.59" fill="#efd093"/>
<rect x="79.72" y="29.33" width="3.61" height="3.59" fill="#dcad5d"/>
<rect x="83.03" y="29.33" width="3.61" height="3.59" fill="#a7681b"/>
<rect x="86.34" y="29.33" width="3.61" height="3.59" fill="#4d1600"/>
<rect x="89.65" y="29.33" width="3.61" height="3.59" fill="#280300"/>
<rect x="92.96" y="29.33" width="3.61" height="3.59" fill="#1f0100"/>
<rect x="96.27" y="29.33" width="3.61" height="3.59" fill="#1c0100"/>
<rect x="99.58" y="29.33" width="3.61" height="3.59" fill="#1c0100"/>
<rect x="102.89" y="29.33" width="3.61" height="3.59" fill="#1c0100"/>
<rect x="36.70" y="32.62" width="3.61" height="3.59" fill="#1c0100"/>
<rect x="40.01" y="32.62" width="3.61" height="3.59" fill="#1c0100"/>
<rect x="43.32" y="32.62" width="3.61" height="3.59" fill="#1c0100"/>
<rect x="46.63" y="32.62" width="3.61" height="3.59" fill="#230200"/>
<rect x="49.94" y="32.62" width="3.61" height="3.59" fill="#340700"/>
<rect x="53.25" y="32.62" width="3.61" height="3.59" fill="#7c3c08"/>
<rect x="56.56" y="32.62" width="3.61" height="3.59" fill="#d29b45"/>
<rect x="59.87" y="32.62" width="3.61" height="3.59" fill="#eece8e"/>
<rect x="63.18" y="32.62" width="3.61" height="3.59" fill="#f9eaca"/>
<rect x="66.49" y="32.62" width="3.61" height="3.59" fill="#fcf2dd"/>
<rect x="69.80" y="32.62" width="3.61" height="3.59" fill="#fcf4e2"/>
<rect x="73.10" y="32.62" width="3.61" height="3.59" fill="#fcf2dd"/>
<rect x="76.41" y="32.62" width="3.61" height="3.59" fill="#f9ebcb"/>
<rect x="79.72" y="32.62" width="3.61" height="3.59" fill="#efcf90"/>
<rect x="83.03" y="32.62" width="3.61" height="3.59" fill="#d39d47"/>
<rect x="86.34" y="32.62" width="3.61" height="3.59" fill="#7f3f09"/>
<rect x="89.65" y="32.62" width="3.61" height="3.59" fill="#360700"/>
<rect x="92.96" y="32.62" width="3.61" height="3.59" fill="#230200"/>
<rect x="96.27" y="32.62" width="3.61" height="3.59" fill="#1c0100"/>
<rect x="99.58" y="32.62" width="3.61" height="3.59" fill="#1c0100"/>
<rect x="102.89" y="32.62" width="3.61" height="3.59" fill="#1c0100"/>
<rect x="36.70" y="35.91" width="3.61" height="3.59" fill="#1c0100"/>
<rect x="40.01" y="35.91" width="3.61" height="3.59" fill="#1c0100"/>
<rect x="43.32" y="35.91" width="3.61" height="3.59" fill="#1d0100"/>
<rect x="46.63" y="35.91" width="3.61" height="3.59" fill="#260300"/>
<rect x="49.94" y="35.91" width="3.61" height="3.59" fill="#471200"/>
<rect x="53.25" y="35.91" width="3.61" height="3.59" fill="#a7681a"/>
<rect x="56.56" y="35.91" width="3.61" height="3.59" fill="#e3b86c"/>
<rect x="59.87" y="35.91" width="3.61" height="3.59" fill="#f6e1b6"/>
<rect x="63.18" y="35.91" width="3.61" height="3.59" fill="#fcf2de"/>
<rect x="66.49" y="35.91" width="3.61" height="3.59" fill="#fdf9f0"/>
<rect x="69.80" y="35.91" width="3.61" height="3.59" fill="#fefbf6"/>
<rect x="73.10" y="35.91" width="3.61" height="3.59" fill="#fef9f0"/>
<rect x="76.41" y="35.91" width="3.61" height="3.59" fill="#fcf3df"/>
<rect x="79.72" y="35.91" width="3.61" height="3.59" fill="#f6e2b8"/>
<rect x="83.03" y="35.91" width="3.61" height="3.59" fill="#e4ba6f"/>
<rect x="86.34" y="35.91" width="3.61" height="3.59" fill="#aa6b1d"/>
<rect x="89.65" y="35.91" width="3.61" height="3.59" fill="#481300"/>
<rect x="92.96" y="35.91" width="3.61" height="3.59" fill="#270300"/>
<rect x="96.27" y="35.91" width="3.61" height="3.59" fill="#1d0100"/>
<rect x="99.58" y="35.91" width="3.61" height="3.59" fill="#1c0100"/>
<rect x="102.89" y="35.91" width="3.61" height="3.59" fill="#1c0100"/>
<rect x="36.70" y="39.20" width="3.61" height="3.59" fill="#1c0100"/>
<rect x="40.01" y="39.20" width="3.61" height="3.59" fill="#1c0100"/>
<rect x="43.32" y="39.20" width="3.61" height="3.59" fill="#1f0100"/>
<rect x="46.63" y="39.20" width="3.61" height="3.59" fill="#290300"/>
<rect x="49.94" y="39.20" width="3.61" height="3.59" fill="#581d00"/>
<rect x="53.25" y="39.20" width="3.61" height="3.59" fill="#c28733"/>
<rect x="56.56" y="39.20" width="3.61" height="3.59" fill="#ecc984"/>
<rect x="59.87" y="39.20" width="3.61" height="3.59" fill="#faedd0"/>
<rect x="63.18" y="39.20" width="3.61" height="3.59" fill="#fdf7e9"/>
<rect x="66.49" y="39.20" width="3.61" height="3.59" fill="#fefcf7"/>
<rect x="69.80" y="39.20" width="3.61" height="3.59" fill="#fffdfb"/>
<rect x="73.10" y="39.20" width="3.61" height="3.59" fill="#fefcf8"/>
<rect x="76.41" y="39.20" width="3.61" height="3.59" fill="#fdf7ea"/>
<rect x="79.72" y="39.20" width="3.61" height="3.59" fill="#faeed2"/>
<rect x="83.03" y="39.20" width="3.61" height="3.59" fill="#edca87"/>
<rect x="86.34" y="39.20" width="3.61" height="3.59" fill="#c48b35"/>
<rect x="89.65" y="39.20" width="3.61" height="3.59" fill="#5b1f00"/>
<rect x="92.96" y="39.20" width="3.61" height="3.59" fill="#290300"/>
<rect x="96.27" y="39.20" width="3.61" height="3.59" fill="#200100"/>
<rect x="99.58" y="39.20" width="3.61" height="3.59" fill="#1c0100"/>
<rect x="102.89" y="39.20" width="3.61" height="3.59" fill="#1c0100"/>
<rect x="36.70" y="42.50" width="3.61" height="3.59" fill="#1c0100"/>
<rect x="40.01" y="42.50" width="3.61" height="3.59" fill="#1c0100"/>
<rect x="43.32" y="42.50" width="3.61" height="3.59" fill="#210200"/>
<rect x="46.63" y="42.50" width="3.61" height="3.59" fill="#2c0300"/>
<rect x="49.94" y="42.50" width="3.61" height="3.59" fill="#672701"/>
<rect x="53.25" y="42.50" width="3.61" height="3.59" fill="#cc933c"/>
<rect x="56.56" y="42.50" width="3.61" height="3.59" fill="#eece8e"/>
<rect x="59.87" y="42.50" width="3.61" height="3.59" fill="#fbefd4"/>
<rect x="63.18" y="42.50" width="3.61" height="3.59" fill="#fdf8ed"/>
<rect x="66.49" y="42.50" width="3.61" height="3.59" fill="#fefdf9"/>
<rect x="69.80" y="42.50" width="3.61" height="3.59" fill="#fffffe"/>
<rect x="73.10" y="42.50" width="3.61" height="3.59" fill="#fefdf9"/>
<rect x="76.41" y="42.50" width="3.61" height="3.59" fill="#fdf8ee"/>
<rect x="79.72" y="42.50" width="3.61" height="3.59" fill="#fbefd5"/>
<rect x="83.03" y="42.50" width="3.61" height="3.59" fill="#efcf91"/>
<rect x="86.34" y="42.50" width="3.61" height="3.59" fill="#ce953e"/>
<rect x="89.65" y="42.50" width="3.61" height="3.59" fill="#6b2b02"/>
<rect x="92.96" y="42.50" width="3.61" height="3.59" fill="#2d0400"/>
<rect x="96.27" y="42.50" width="3.61" height="3.59" fill="#210200"/>
<rect x="99.58" y="42.50" width="3.61" height="3.59" fill="#1c0100"/>
<rect x="102.89" y="42.50" width="3.61" height="3.59" fill="#1c0100"/>
<rect x="36.70" y="45.79" width="3.61" height="3.59" fill="#1c0100"/>
<rect x="40.01" y="45.79" width="3.61" height="3.59" fill="#1c0100"/>
<rect x="43.32" y="45.79" width="3.61" height="3.59" fill="#220200"/>
<rect x="46.63" y="45.79" width="3.61" height="3.59" fill="#2d0400"/>
<rect x="49.94" y="45.79" width="3.61" height="3.59" fill="#692902"/>
<rect x="53.25" y="45.79" width="3.61" height="3.59" fill="#cb923b"/>
<rect x="56.56" y="45.79" width="3.61" height="3.59" fill="#edcb89"/>
<rect x="59.87" y="45.79" width="3.61" height="3.59" fill="#faedd1"/>
<rect x="63.18" y="45.79" width="3.61" height="3.59" fill="#fdf6e8"/>
<rect x="66.49" y="45.79" width="3.61" height="3.59" fill="#fefcf6"/>
<rect x="69.80" y="45.79" width="3.61" height="3.59" fill="#fefdf9"/>
<rect x="73.10" y="45.79" width="3.61" height="3.59" fill="#fefcf6"/>
<rect x="76.41" y="45.79" width="3.61" height="3.59" fill="#fdf6e8"/>
<rect x="79.72" y="45.79" width="3.61" height="3.59" fill="#faeed2"/>
<rect x="83.03" y="45.79" width="3.61" height="3.59" fill="#eecd8c"/>
<rect x="86.34" y="45.79" width="3.61" height="3.59" fill="#cc943d"/>
<rect x="89.65" y="45.79" width="3.61" height="3.59" fill="#6c2c03"/>
<rect x="92.96" y="45.79" width="3.61" height="3.59" fill="#2e0400"/>
<rect x="96.27" y="45.79" width="3.61" height="3.59" fill="#220200"/>
<rect x="99.58" y="45.79" width="3.61" height="3.59" fill="#1c0100"/>
<rect x="102.89" y="45.79" width="3.61" height="3.59" fill="#1c0100"/>
<rect x="36.70" y="49.08" width="3.61" height="3.59" fill="#1c0100"/>
<rect x="40.01" y="49.08" width="3.61" height="3.59" fill="#1c0100"/>
<rect x="43.32" y="49.08" width="3.61" height="3.59" fill="#210200"/>
<rect x="46.63" y="49.08" width="3.61" height="3.59" fill="#2b0300"/>
<rect x="49.94" y="49.08" width="3.61" height="3.59" fill="#5c1f00"/>
<rect x="53.25" y="49.08" width="3.61" height="3.59" fill="#bc812e"/>
<rect x="56.56" y="49.08" width="3.61" height="3.59" fill="#e7c077"/>
<rect x="59.87" y="49.08" width="3.61" height="3.59" fill="#f6e1b7"/>
<rect x="63.18" y="49.08" width="3.61" height="3.59" fill="#fbf1db"/>
<rect x="66.49" y="49.08" width="3.61" height="3.59" fill="#fdf7ea"/>
<rect x="69.80" y="49.08" width="3.61" height="3.59" fill="#fdf9ef"/>
<rect x="73.10" y="49.08" width="3.61" height="3.59" fill="#fdf7ea"/>
<rect x="76.41" y="49.08" width="3.61" height="3.59" fill="#fbf1dc"/>
<rect x="79.72" y="49.08" width="3.61" height="3.59" fill="#f6e2b9"/>
<rect x="83.03" y="49.08" width="3.61" height="3.59" fill="#e8c279"/>
<rect x="86.34" y="49.08" width="3.61" height="3.59" fill="#be8430"/>
<rect x="89.65" y="49.08" width="3.61" height="3.59" fill="#5f2100"/>
<rect x="92.96" y="49.08" width="3.61" height="3.59" fill="#2c0300"/>
<rect x="96.27" y="49.08" width="3.61" height="3.59" fill="#220200"/>
<rect x="99.58" y="49.08" width="3.61" height="3.59" fill="#1c0100"/>
<rect x="102.89" y="49.08" width="3.61" height="3.59" fill="#1c0100"/>
<rect x="36.70" y="52.37" width="3.61" height="3.59" fill="#1c0100"/>
<rect x="40.01" y="52.37" width="3.61" height="3.59" fill="#1c0100"/>
<rect x="43.32" y="52.37" width="3.61" height="3.59" fill="#200200"/>
<rect x="46.63" y="52.37" width="3.61" height="3.59" fill="#280300"/>
<rect x="49.94" y="52.37" width="3.61" height="3.59" fill="#4a1400"/>
<rect x="53.25" y="52.37" width="3.61" height="3.59" fill="#9e5e13"/>
<rect x="56.56" y="52.37" width="3.61" height="3.59" fill="#d8a654"/>
<rect x="59.87" y="52.37" width="3.61" height="3.59" fill="#eece8f"/>
<rect x="63.18" y="52.37" width="3.61" height="3.59" fill="#f7e5bf"/>
<rect x="66.49" y="52.37" width="3.61" height="3.59" fill="#fbefd6"/>
<rect x="69.80" y="52.37" width="3.61" height="3.59" fill="#fbf1da"/>
<rect x="73.10" y="52.37" width="3.61" height="3.59" fill="#fbefd6"/>
<rect x="76.41" y="52.37" width="3.61" height="3.59" fill="#f7e5c0"/>
<rect x="79.72" y="52.37" width="3.61" height="3.59" fill="#efcf91"/>
<rect x="83.03" y="52.37" width="3.61" height="3.59" fill="#d9a856"/>
<rect x="86.34" y="52.37" width="3.61" height="3.59" fill="#a06014"/>
<rect x="89.65" y="52.37" width="3.61" height="3.59" fill="#4c1500"/>
<rect x="92.96" y="52.37" width="3.61" height="3.59" fill="#280300"/>
<rect x="96.27" y="52.37" width="3.61" height="3.59" fill="#200200"/>
<rect x="99.58" y="52.37" width="3.61" height="3.59" fill="#1c0100"/>
<rect x="102.89" y="52.37" width="3.61" height="3.59" fill="#1c0100"/>
<rect x="36.70" y="55.66" width="3.61" height="3.59" fill="#1c0100"/>
<rect x="40.01" y="55.66" width="3.61" height="3.59" fill="#1c0100"/>
<rect x="43.32" y="55.66" width="3.61" height="3.59" fill="#1e0100"/>
<rect x="46.63" y="55.66" width="3.61" height="3.59" fill="#260200"/>
<rect x="49.94" y="55.66" width="3.61" height="3.59" fill="#390900"/>
<rect x="53.25" y="55.66" width="3.61" height="3.59" fill="#6e2e03"/>
<rect x="56.56" y="55.66" width="3.61" height="3.59" fill="#b87c2a"/>
<rect x="59.87" y="55.66" width="3.61" height="3.59" fill="#dcad5c"/>
<rect x="63.18" y="55.66" width="3.61" height="3.59" fill="#edca86"/>
<rect x="66.49" y="55.66" width="3.61" height="3.59" fill="#f1d6a0"/>
<rect x="69.80" y="55.66" width="3.61" height="3.59" fill="#f3daa9"/>
<rect x="73.10" y="55.66" width="3.61" height="3.59" fill="#f2d6a0"/>
<rect x="76.41" y="55.66" width="3.61" height="3.59" fill="#edca87"/>
<rect x="79.72" y="55.66" width="3.61" height="3.59" fill="#ddae5e"/>
<rect x="83.03" y="55.66" width="3.61" height="3.59" fill="#ba7e2c"/>
<rect x="86.34" y="55.66" width="3.61" height="3.59" fill="#713104"/>
<rect x="89.65" y="55.66" width="3.61" height="3.59" fill="#3a0a00"/>
<rect x="92.96" y="55.66" width="3.61" height="3.59" fill="#260200"/>
<rect x="96.27" y="55.66" width="3.61" height="3.59" fill="#1e0100"/>
<rect x="99.58" y="55.66" width="3.61" height="3.59" fill="#1c0100"/>
<rect x="102.89" y="55.66" width="3.61" height="3.59" fill="#1c0100"/>
<rect x="36.70" y="58.95" width="3.61" height="3.59" fill="#1c0100"/>
<rect x="40.01" y="58.95" width="3.61" height="3.59" fill="#1c0100"/>
<rect x="43.32" y="58.95" width="3.61" height="3.59" fill="#1c0100"/>
<rect x="46.63" y="58.95" width="3.61" height="3.59" fill="#220200"/>
<rect x="49.94" y="58.95" width="3.61" height="3.59" fill="#290300"/>
<rect x="53.25" y="58.95" width="3.61" height="3.59" fill="#451100"/>
<rect x="56.56" y="58.95" width="3.61" height="3.59" fill="#793907"/>
<rect x="59.87" y="58.95" width="3.61" height="3.59" fill="#b17423"/>
<rect x="63.18" y="58.95" width="3.61" height="3.59" fill="#d19b44"/>
<rect x="66.49" y="58.95" width="3.61" height="3.59" fill="#dbac5b"/>
<rect x="69.80" y="58.95" width="3.61" height="3.59" fill="#dfb263"/>
<rect x="73.10" y="58.95" width="3.61" height="3.59" fill="#dcac5c"/>
<rect x="76.41" y="58.95" width="3.61" height="3.59" fill="#d29b44"/>
<rect x="79.72" y="58.95" width="3.61" height="3.59" fill="#b27525"/>
<rect x="83.03" y="58.95" width="3.61" height="3.59" fill="#7b3b08"/>
<rect x="86.34" y="58.95" width="3.61" height="3.59" fill="#461100"/>
<rect x="89.65" y="58.95" width="3.61" height="3.59" fill="#290300"/>
<rect x="92.96" y="58.95" width="3.61" height="3.59" fill="#220200"/>
<rect x="96.27" y="58.95" width="3.61" height="3.59" fill="#1c0100"/>
<rect x="99.58" y="58.95" width="3.61" height="3.59" fill="#1c0100"/>
<rect x="102.89" y="58.95" width="3.61" height="3.59" fill="#1c0100"/>
<rect x="36.70" y="62.24" width="3.61" height="3.59" fill="#1c0100"/>
<rect x="40.01" y="62.24" width="3.61" height="3.59" fill="#1c0100"/>
<rect x="43.32" y="62.24" width="3.61" height="3.59" fill="#1c0100"/>
<rect x="46.63" y="62.24" width="3.61" height="3.59" fill="#1e0100"/>
<rect x="49.94" y="62.24" width="3.61" height="3.59" fill="#240200"/>
<rect x="53.25" y="62.24" width="3.61" height="3.59" fill="#2a0300"/>
<rect x="56.56" y="62.24" width="3.61" height="3.59" fill="#420f00"/>
<rect x="59.87" y="62.24" width="3.61" height="3.59" fill="#612200"/>
<rect x="63.18" y="62.24" width="3.61" height="3.59" fill="#88480c"/>
<rect x="66.49" y="62.24" width="3.61" height="3.59" fill="#a06014"/>
<rect x="69.80" y="62.24" width="3.61" height="3.59" fill="#a7691b"/>
<rect x="73.10" y="62.24" width="3.61" height="3.59" fill="#a06114"/>
<rect x="76.41" y="62.24" width="3.61" height="3.59" fill="#89490c"/>
<rect x="79.72" y="62.24" width="3.61" height="3.59" fill="#632300"/>
<rect x="83.03" y="62.24" width="3.61" height="3.59" fill="#431000"/>
<rect x="86.34" y="62.24" width="3.61" height="3.59" fill="#2b0300"/>
<rect x="89.65" y="62.24" width="3.61" height="3.59" fill="#240200"/>
<rect x="92.96" y="62.24" width="3.61" height="3.59" fill="#1e0100"/>
<rect x="96.27" y="62.24" width="3.61" height="3.59" fill="#1c0100"/>
<rect x="99.58" y="62.24" width="3.61" height="3.59" fill="#1c0100"/>
<rect x="102.89" y="62.24" width="3.61" height="3.59" fill="#1c0100"/>
<rect x="36.70" y="65.53" width="3.61" height="3.59" fill="#1c0100"/>
<rect x="40.01" y="65.53" width="3.61" height="3.59" fill="#1c0100"/>
<rect x="43.32" y="65.53" width="3.61" height="3.59" fill="#1c0100"/>
<rect x="46.63" y="65.53" width="3.61" height="3.59" fill="#1c0100"/>
<rect x="49.94" y="65.53" width="3.61" height="3.59" fill="#1f0100"/>
<rect x="53.25" y="65.53" width="3.61" height="3.59" fill="#240200"/>
<rect x="56.56" y="65.53" width="3.61" height="3.59" fill="#280300"/>
<rect x="59.87" y="65.53" width="3.61" height="3.59" fill="#320500"/>
<rect x="63.18" y="65.53" width="3.61" height="3.59" fill="#410e00"/>
<rect x="66.49" y="65.53" width="3.61" height="3.59" fill="#4a1400"/>
<rect x="69.80" y="65.53" width="3.61" height="3.59" fill="#4d1600"/>
<rect x="73.10" y="65.53" width="3.61" height="3.59" fill="#4a1400"/>
<rect x="76.41" y="65.53" width="3.61" height="3.59" fill="#410f00"/>
<rect x="79.72" y="65.53" width="3.61" height="3.59" fill="#330600"/>
<rect x="83.03" y="65.53" width="3.61" height="3.59" fill="#280300"/>
<rect x="86.34" y="65.53" width="3.61" height="3.59" fill="#240200"/>
<rect x="89.65" y="65.53" width="3.61" height="3.59" fill="#1f0100"/>
<rect x="92.96" y="65.53" width="3.61" height="3.59" fill="#1c0100"/>
<rect x="96.27" y="65.53" width="3.61" height="3.59" fill="#1c0100"/>
<rect x="99.58" y="65.53" width="3.61" height="3.59" fill="#1c0100"/>
<rect x="102.89" y="65.53" width="3.61" height="3.59" fill="#1c0100"/>
<rect x="36.70" y="68.82" width="3.61" height="3.59" fill="#1c0100"/>
<rect x="40.01" y="68.82" width="3.61" height="3.59" fill="#1c0100"/>
<rect x="43.32" y="68.82" width="3.61" height="3.59" fill="#1c0100"/>
<rect x="46.63" y="68.82" width="3.61" height="3.59" fill="#1c0100"/>
<rect x="49.94" y="68.82" width="3.61" height="3.59" fill="#1c0100"/>
<rect x="53.25" y="68.82" width="3.61" height="3.59" fill="#1d0100"/>
<rect x="56.56" y="68.82" width="3.61" height="3.59" fill="#210200"/>
<rect x="59.87" y="68.82" width="3.61" height="3.59" fill="#240200"/>
<rect x="63.18" y="68.82" width="3.61" height="3.59" fill="#270300"/>
<rect x="66.49" y="68.82" width="3.61" height="3.59" fill="#280300"/>
<rect x="69.80" y="68.82" width="3.61" height="3.59" fill="#290300"/>
<rect x="73.10" y="68.82" width="3.61" height="3.59" fill="#280300"/>
<rect x="76.41" y="68.82" width="3.61" height="3.59" fill="#270300"/>
<rect x="79.72" y="68.82" width="3.61" height="3.59" fill="#240200"/>
<rect x="83.03" y="68.82" width="3.61" height="3.59" fill="#210200"/>
<rect x="86.34" y="68.82" width="3.61" height="3.59" fill="#1d0100"/>
<rect x="89.65" y="68.82" width="3.61" height="3.59" fill="#1c0100"/>
<rect x="92.96" y="68.82" width="3.61" height="3.59" fill="#1c0100"/>
<rect x="96.27" y="68.82" width="3.61" height="3.59" fill="#1c0100"/>
<rect x="99.58" y="68.82" width="3.61" height="3.59" fill="#1c0100"/>
<rect x="102.89" y="68.82" width="3.61" height="3.59" fill="#1c0100"/>
<rect x="36.70" y="72.11" width="3.61" height="3.59" fill="#1c0100"/>
<rect x="40.01" y="72.11" width="3.61" height="3.59" fill="#1c0100"/>
<rect x="43.32" y="72.11" width="3.61" height="3.59" fill="#1c0100"/>
<rect x="46.63" y="72.11" width="3.61" height="3.59" fill="#1c0100"/>
<rect x="49.94" y="72.11" width="3.61" height="3.59" fill="#1c0100"/>
<rect x="53.25" y="72.11" width="3.61" height="3.59" fill="#1c0100"/>
<rect x="56.56" y="72.11" width="3.61" height="3.59" fill="#1c0100"/>
<rect x="59.87" y="72.11" width="3.61" height="3.59" fill="#1d0100"/>
<rect x="63.18" y="72.11" width="3.61" height="3.59" fill="#1f0100"/>
<rect x="66.49" y="72.11" width="3.61" height="3.59" fill="#200200"/>
<rect x="69.80" y="72.11" width="3.61" height="3.59" fill="#210200"/>
<rect x="73.10" y="72.11" width="3.61" height="3.59" fill="#200200"/>
<rect x="76.41" y="72.11" width="3.61" height="3.59" fill="#1f0100"/>
<rect x="79.72" y="72.11" width="3.61" height="3.59" fill="#1d0100"/>
<rect x="83.03" y="72.11" width="3.61" height="3.59" fill="#1c0100"/>
<rect x="86.34" y="72.11" width="3.61" height="3.59" fill="#1c0100"/>
<rect x="89.65" y="72.11" width="3.61" height="3.59" fill="#1c0100"/>
<rect x="92.96" y="72.11" width="3.61" height="3.59" fill="#1c0100"/>
<rect x="96.27" y="72.11" width="3.61" height="3.59" fill="#1c0100"/>
<rect x="99.58" y="72.11" width="3.61" height="3.59" fill="#1c0100"/>
<rect x="102.89" y="72.11" width="3.61" height="3.59" fill="#1c0100"/>
</g>
<rect x="37.2" y="6.0" width="201.0" height="201.0" fill="none" stroke="#333" stroke-width="1"/>
<rect x="108.7" y="13.4" width="4.4" height="54" fill="url(#afm)" stroke="#000" stroke-width="0.8"/>
<text x="115.5" y="19.2" font-size="9.5" font-family="Liberation Sans, sans-serif" fill="#111">10</text>
<text x="113.8" y="68.8" font-size="9.5" font-family="Liberation Sans, sans-serif" fill="#111">0</text>
<text transform="translate(129.6,16.8) rotate(90)" font-size="10" font-family="Liberation Sans, sans-serif" fill="#111">Height (nm)</text>
<rect x="88.3" y="70.2" width="11.8" height="1.8" fill="#fff"/>
<circle cx="161.3" cy="131.5" r="6.1" fill="#0008f0" stroke="#fff" stroke-width="2.3"/>
<circle cx="171.7" cy="141.8" r="6.1" fill="#10a8f0" stroke="#fff" stroke-width="2.3"/>
<circle cx="182.8" cy="152.1" r="6.1" fill="#80cff8" stroke="#fff" stroke-width="2.3"/>
<circle cx="202.0" cy="182.8" r="5.95" fill="none" stroke="#000" stroke-width="2.2"/>
<rect x="197.9" y="196.4" width="33.1" height="4.3" fill="#000"/>
<rect x="245.4" y="69.8" width="14" height="136.6" fill="url(#dv)" stroke="#222" stroke-width="1"/>
<text x="243.6" y="66.2" font-size="12" font-family="Liberation Sans, sans-serif" fill="#222">&#916;<tspan font-style="italic">V</tspan></text>
<text x="263.6" y="75.8" font-size="12" font-family="Liberation Sans, sans-serif" fill="#222">15</text>
<text x="263.6" y="120.7" font-size="12" font-family="Liberation Sans, sans-serif" fill="#222">10</text>
<text x="263.6" y="165.5" font-size="12" font-family="Liberation Sans, sans-serif" fill="#222">5</text>
<text x="263.6" y="210.1" font-size="12" font-family="Liberation Sans, sans-serif" fill="#222">0</text>
<text x="11.5" y="23" font-size="22" font-weight="bold" font-family="Liberation Sans, sans-serif" fill="#000">a</text>
</g>
<g id="pb">
<clipPath id="cb0"><rect x="351.3" y="6.5" width="82.30000000000001" height="199.6"/></clipPath>
<g clip-path="url(#cb0)">
<polyline points="351.2,118.0 351.5,100.0 351.9,88.1 353.9,75.0 356.5,68.4 359.8,65.1 362.5,64.5 366.4,66.0 371.7,63.8 379.5,62.9 383.5,62.1 387.4,60.8 391.4,62.5 396.6,59.9 407.1,57.9 415.0,57.2 422.9,54.6 432.1,52.0" fill="none" stroke="#ee1010" stroke-width="2.2" stroke-linejoin="round" stroke-linecap="round"/>
<polyline points="351.6,199.0 352.0,180.0 352.5,160.0 353.0,140.0 353.6,125.0 354.3,115.0 355.2,109.1 357.2,93.4 360.5,82.9 365.1,75.6 371.7,71.0 378.2,68.4 384.8,65.8 391.4,64.2 398.0,61.2 407.1,58.5 416.3,58.5 424.2,55.3 432.1,52.6" fill="none" stroke="#ee1010" stroke-width="2.2" stroke-linejoin="round" stroke-linecap="round"/>
</g>
<clipPath id="cb1"><rect x="433.6" y="6.5" width="82.5" height="199.6"/></clipPath>
<g clip-path="url(#cb1)">
<polyline points="434.0,175.0 435.5,150.0 436.5,130.0 437.5,114.0 439.6,93.3 441.7,79.5 444.4,69.8 447.2,66.4 451.3,64.0 456.2,64.3 462.4,61.6 470.7,58.8 478.9,56.3 487.2,55.4 496.9,54.9 506.5,54.7 514.8,54.0" fill="none" stroke="#7dcff5" stroke-width="2.2" stroke-linejoin="round" stroke-linecap="round"/>
<polyline points="436.5,206.6 437.9,179.0 439.9,149.4 442.8,129.7 445.8,114.0 449.3,103.0 452.7,91.9 457.5,82.3 463.1,71.9 469.3,66.4 477.6,62.3 487.2,58.8 494.1,57.4 503.8,56.0 514.8,54.4" fill="none" stroke="#7dcff5" stroke-width="2.2" stroke-linejoin="round" stroke-linecap="round"/>
</g>
<clipPath id="cb2"><rect x="516.1" y="6.5" width="82.5" height="199.6"/></clipPath>
<g clip-path="url(#cb2)">
<polyline points="516.0,152.0 517.0,138.0 518.4,123.9 521.1,100.2 523.5,84.5 526.6,75.8 530.6,71.8 535.3,67.4 540.0,66.3 545.6,62.7 553.5,60.8 561.3,58.9 567.7,57.9 575.5,55.3 581.9,54.2 589.0,52.6 592.9,53.7 599.2,52.9" fill="none" stroke="#14a2e8" stroke-width="2.2" stroke-linejoin="round" stroke-linecap="round"/>
<polyline points="516.0,206.0 516.5,200.0 520.4,167.5 525.4,140.7 530.6,123.9 534.5,111.3 539.2,98.7 544.0,89.2 549.5,78.1 556.6,70.2 561.3,67.9 569.2,63.1 577.1,60.0 585.0,57.3 591.3,55.3 599.2,53.7" fill="none" stroke="#14a2e8" stroke-width="2.2" stroke-linejoin="round" stroke-linecap="round"/>
</g>
<clipPath id="cb3"><rect x="598.6" y="6.5" width="82.0" height="199.6"/></clipPath>
<g clip-path="url(#cb3)">
<polyline points="598.9,151.4 600.9,129.7 602.9,110.0 603.4,103.4 606.3,86.0 610.2,75.8 614.1,72.1 618.1,69.4 622.0,65.5 626.8,64.2 632.3,61.2 638.6,57.3 643.3,56.4 649.6,56.4 655.1,57.3 660.7,55.7 665.4,55.7 670.1,52.9 678.0,51.0 680.4,50.5" fill="none" stroke="#1818dc" stroke-width="2.2" stroke-linejoin="round" stroke-linecap="round"/>
<polyline points="599.5,204.7 601.9,192.8 605.8,181.0 609.8,161.3 613.7,143.5 617.7,129.7 619.6,124.0 622.0,111.2 626.8,97.8 631.5,85.7 637.0,78.1 641.7,70.2 646.5,66.3 651.2,63.1 657.5,60.8 663.8,60.0 668.6,57.3 674.9,54.5 680.4,52.9" fill="none" stroke="#1818dc" stroke-width="2.2" stroke-linejoin="round" stroke-linecap="round"/>
</g>
<path d="M351.3,6.5H680.6V206.1H351.3Z" fill="none" stroke="#222" stroke-width="1.1"/>
<path d="M433.6,6.5V206.1" stroke="#222" stroke-width="1.1"/>
<path d="M516.1,6.5V206.1" stroke="#222" stroke-width="1.1"/>
<path d="M598.6,6.5V206.1" stroke="#222" stroke-width="1.1"/>
<path d="M351.3,33.6h3.2" stroke="#222" stroke-width="1"/>
<path d="M351.3,60.3h3.2" stroke="#222" stroke-width="1"/>
<path d="M351.3,86.9h3.2" stroke="#222" stroke-width="1"/>
<path d="M351.3,113.6h3.2" stroke="#222" stroke-width="1"/>
<path d="M351.3,140.2h3.2" stroke="#222" stroke-width="1"/>
<path d="M351.3,166.9h3.2" stroke="#222" stroke-width="1"/>
<path d="M351.3,193.5h3.2" stroke="#222" stroke-width="1"/>
<path d="M433.6,33.6h3.2" stroke="#222" stroke-width="1"/>
<path d="M433.6,60.3h3.2" stroke="#222" stroke-width="1"/>
<path d="M433.6,86.9h3.2" stroke="#222" stroke-width="1"/>
<path d="M433.6,113.6h3.2" stroke="#222" stroke-width="1"/>
<path d="M433.6,140.2h3.2" stroke="#222" stroke-width="1"/>
<path d="M433.6,166.9h3.2" stroke="#222" stroke-width="1"/>
<path d="M433.6,193.5h3.2" stroke="#222" stroke-width="1"/>
<path d="M516.1,33.6h3.2" stroke="#222" stroke-width="1"/>
<path d="M516.1,60.3h3.2" stroke="#222" stroke-width="1"/>
<path d="M516.1,86.9h3.2" stroke="#222" stroke-width="1"/>
<path d="M516.1,113.6h3.2" stroke="#222" stroke-width="1"/>
<path d="M516.1,140.2h3.2" stroke="#222" stroke-width="1"/>
<path d="M516.1,166.9h3.2" stroke="#222" stroke-width="1"/>
<path d="M516.1,193.5h3.2" stroke="#222" stroke-width="1"/>
<path d="M598.6,33.6h3.2" stroke="#222" stroke-width="1"/>
<path d="M598.6,60.3h3.2" stroke="#222" stroke-width="1"/>
<path d="M598.6,86.9h3.2" stroke="#222" stroke-width="1"/>
<path d="M598.6,113.6h3.2" stroke="#222" stroke-width="1"/>
<path d="M598.6,140.2h3.2" stroke="#222" stroke-width="1"/>
<path d="M598.6,166.9h3.2" stroke="#222" stroke-width="1"/>
<path d="M598.6,193.5h3.2" stroke="#222" stroke-width="1"/>
<text x="349.2" y="11.2" font-size="12" text-anchor="end" font-family="Liberation Sans, sans-serif" fill="#222">1.0</text>
<text x="349.2" y="37.9" font-size="12" text-anchor="end" font-family="Liberation Sans, sans-serif" fill="#222">0.8</text>
<text x="349.2" y="64.5" font-size="12" text-anchor="end" font-family="Liberation Sans, sans-serif" fill="#222">0.6</text>
<text x="349.2" y="91.1" font-size="12" text-anchor="end" font-family="Liberation Sans, sans-serif" fill="#222">0.4</text>
<text x="349.2" y="117.8" font-size="12" text-anchor="end" font-family="Liberation Sans, sans-serif" fill="#222">0.2</text>
<text x="349.2" y="144.4" font-size="12" text-anchor="end" font-family="Liberation Sans, sans-serif" fill="#222">0.0</text>
<text x="349.2" y="171.1" font-size="12" text-anchor="end" font-family="Liberation Sans, sans-serif" fill="#222">-0.2</text>
<text x="349.2" y="197.7" font-size="12" text-anchor="end" font-family="Liberation Sans, sans-serif" fill="#222">-0.4</text>
<path d="M372.4,206.1v-3.2" stroke="#222" stroke-width="1"/>
<path d="M393.4,206.1v-3.2" stroke="#222" stroke-width="1"/>
<path d="M414.5,206.1v-3.2" stroke="#222" stroke-width="1"/>
<text x="351.6" y="219.8" font-size="12" text-anchor="middle" font-family="Liberation Sans, sans-serif" fill="#222">-40</text>
<text x="372.7" y="219.8" font-size="12" text-anchor="middle" font-family="Liberation Sans, sans-serif" fill="#222">-30</text>
<text x="393.7" y="219.8" font-size="12" text-anchor="middle" font-family="Liberation Sans, sans-serif" fill="#222">-20</text>
<text x="414.8" y="219.8" font-size="12" text-anchor="middle" font-family="Liberation Sans, sans-serif" fill="#222">-10</text>
<text x="392.3" y="235.4" font-size="11.5" text-anchor="middle" font-family="Liberation Sans, sans-serif" fill="#222"><tspan font-style="italic">V</tspan><tspan font-size="8.5" dy="2.5">G</tspan><tspan dy="-2.5"> (V)</tspan></text>
<path d="M454.7,206.1v-3.2" stroke="#222" stroke-width="1"/>
<path d="M475.7,206.1v-3.2" stroke="#222" stroke-width="1"/>
<path d="M496.8,206.1v-3.2" stroke="#222" stroke-width="1"/>
<text x="433.9" y="219.8" font-size="12" text-anchor="middle" font-family="Liberation Sans, sans-serif" fill="#222">-40</text>
<text x="455.0" y="219.8" font-size="12" text-anchor="middle" font-family="Liberation Sans, sans-serif" fill="#222">-30</text>
<text x="476.0" y="219.8" font-size="12" text-anchor="middle" font-family="Liberation Sans, sans-serif" fill="#222">-20</text>
<text x="497.1" y="219.8" font-size="12" text-anchor="middle" font-family="Liberation Sans, sans-serif" fill="#222">-10</text>
<text x="474.6" y="235.4" font-size="11.5" text-anchor="middle" font-family="Liberation Sans, sans-serif" fill="#222"><tspan font-style="italic">V</tspan><tspan font-size="8.5" dy="2.5">G</tspan><tspan dy="-2.5"> (V)</tspan></text>
<path d="M537.1,206.1v-3.2" stroke="#222" stroke-width="1"/>
<path d="M558.2,206.1v-3.2" stroke="#222" stroke-width="1"/>
<path d="M579.2,206.1v-3.2" stroke="#222" stroke-width="1"/>
<text x="516.4" y="219.8" font-size="12" text-anchor="middle" font-family="Liberation Sans, sans-serif" fill="#222">-40</text>
<text x="537.4" y="219.8" font-size="12" text-anchor="middle" font-family="Liberation Sans, sans-serif" fill="#222">-30</text>
<text x="558.5" y="219.8" font-size="12" text-anchor="middle" font-family="Liberation Sans, sans-serif" fill="#222">-20</text>
<text x="579.5" y="219.8" font-size="12" text-anchor="middle" font-family="Liberation Sans, sans-serif" fill="#222">-10</text>
<text x="557.1" y="235.4" font-size="11.5" text-anchor="middle" font-family="Liberation Sans, sans-serif" fill="#222"><tspan font-style="italic">V</tspan><tspan font-size="8.5" dy="2.5">G</tspan><tspan dy="-2.5"> (V)</tspan></text>
<path d="M619.6,206.1v-3.2" stroke="#222" stroke-width="1"/>
<path d="M640.7,206.1v-3.2" stroke="#222" stroke-width="1"/>
<path d="M661.8,206.1v-3.2" stroke="#222" stroke-width="1"/>
<text x="598.9" y="219.8" font-size="12" text-anchor="middle" font-family="Liberation Sans, sans-serif" fill="#222">-40</text>
<text x="619.9" y="219.8" font-size="12" text-anchor="middle" font-family="Liberation Sans, sans-serif" fill="#222">-30</text>
<text x="641.0" y="219.8" font-size="12" text-anchor="middle" font-family="Liberation Sans, sans-serif" fill="#222">-20</text>
<text x="662.0" y="219.8" font-size="12" text-anchor="middle" font-family="Liberation Sans, sans-serif" fill="#222">-10</text>
<text x="639.6" y="235.4" font-size="11.5" text-anchor="middle" font-family="Liberation Sans, sans-serif" fill="#222"><tspan font-style="italic">V</tspan><tspan font-size="8.5" dy="2.5">G</tspan><tspan dy="-2.5"> (V)</tspan></text>
<path d="M354,16.5H364" stroke="#ee1010" stroke-width="2"/>
<text x="369" y="20.2" font-size="10.3" font-family="Liberation Sans, sans-serif" fill="#222">Flat</text>
<path d="M435,16.5H445" stroke="#7dcff5" stroke-width="2"/>
<text x="449.9" y="20.2" font-size="10.3" font-family="Liberation Sans, sans-serif" fill="#222">Bubble 1.8 nm</text>
<path d="M521.8,16.5H531.7" stroke="#14a2e8" stroke-width="2"/>
<text x="536.2" y="20.2" font-size="10.3" font-family="Liberation Sans, sans-serif" fill="#222">Bubble 4 nm</text>
<path d="M600.6,16.5H610.4" stroke="#1818dc" stroke-width="2"/>
<text x="614.7" y="20.2" font-size="10.3" font-family="Liberation Sans, sans-serif" fill="#222">Bubble 6.7 nm</text>
<text transform="translate(322.1,106) rotate(-90)" font-size="12" text-anchor="middle" font-family="Liberation Sans, sans-serif" fill="#222"><tspan font-style="italic">E</tspan><tspan font-size="9" dy="2.5">F</tspan><tspan dy="-2.5"> (eV)</tspan></text>
<text x="307" y="22.8" font-size="22" font-weight="bold" font-family="Liberation Sans, sans-serif" fill="#000">b</text>
</g>
<g id="pc">
<rect x="37.3" y="279.1" width="44.3" height="191.09999999999997" fill="#e4e4e4"/>
<rect x="37.3" y="279.1" width="44.3" height="43.89999999999998" fill="#9c9c9c"/>
<rect x="37.3" y="444.6" width="44.3" height="25.599999999999966" fill="#a2a2a2"/>
<path d="M37.3,323H81.6M37.3,444.6H81.6" stroke="#555" stroke-width="1"/>
<path d="M81.6,320.4L103.4,319.3L103.4,449.8L81.6,450.5Z" fill="#c9d5fb"/>
<path d="M81.6,320.4L103.4,319.3M103.4,449.8L81.6,450.5" stroke="#2a62e8" stroke-width="1.3" fill="none"/>
<clipPath id="cc1"><rect x="37.3" y="300" width="44.3" height="100"/></clipPath><g clip-path="url(#cc1)">
<circle cx="52.0" cy="355.4" r="1.9" fill="#ffffff" stroke="#5a5a5a" stroke-width="0.45"/><circle cx="65.8" cy="353.7" r="1.9" fill="#ffffff" stroke="#5a5a5a" stroke-width="0.45"/><circle cx="61.0" cy="356.8" r="1.9" fill="#ffffff" stroke="#5a5a5a" stroke-width="0.45"/><circle cx="40.8" cy="359.0" r="1.9" fill="#ffffff" stroke="#5a5a5a" stroke-width="0.45"/><circle cx="39.9" cy="358.4" r="1.9" fill="#ffffff" stroke="#5a5a5a" stroke-width="0.45"/><circle cx="41.3" cy="355.6" r="1.9" fill="#ffffff" stroke="#5a5a5a" stroke-width="0.45"/><circle cx="56.3" cy="361.1" r="1.9" fill="#ffffff" stroke="#5a5a5a" stroke-width="0.45"/><circle cx="43.5" cy="356.5" r="1.9" fill="#ffffff" stroke="#5a5a5a" stroke-width="0.45"/><circle cx="64.8" cy="362.1" r="1.9" fill="#ffffff" stroke="#5a5a5a" stroke-width="0.45"/><circle cx="62.7" cy="357.0" r="1.9" fill="#ffffff" stroke="#5a5a5a" stroke-width="0.45"/><circle cx="79.6" cy="352.5" r="1.9" fill="#ffffff" stroke="#5a5a5a" stroke-width="0.45"/><circle cx="74.6" cy="355.3" r="1.9" fill="#ffffff" stroke="#5a5a5a" stroke-width="0.45"/><circle cx="44.4" cy="355.6" r="1.9" fill="#ffffff" stroke="#5a5a5a" stroke-width="0.45"/><circle cx="51.3" cy="361.1" r="1.9" fill="#ffffff" stroke="#5a5a5a" stroke-width="0.45"/><circle cx="45.9" cy="359.3" r="1.9" fill="#ffffff" stroke="#5a5a5a" stroke-width="0.45"/><circle cx="65.3" cy="356.6" r="1.9" fill="#ffffff" stroke="#5a5a5a" stroke-width="0.45"/><circle cx="61.5" cy="353.9" r="1.9" fill="#ffffff" stroke="#5a5a5a" stroke-width="0.45"/><circle cx="40.8" cy="356.6" r="1.9" fill="#ffffff" stroke="#5a5a5a" stroke-width="0.45"/><circle cx="67.1" cy="357.0" r="1.9" fill="#ffffff" stroke="#5a5a5a" stroke-width="0.45"/><circle cx="51.6" cy="359.2" r="1.9" fill="#ffffff" stroke="#5a5a5a" stroke-width="0.45"/><circle cx="57.5" cy="356.4" r="1.9" fill="#ffffff" stroke="#5a5a5a" stroke-width="0.45"/><circle cx="71.9" cy="359.5" r="1.9" fill="#ffffff" stroke="#5a5a5a" stroke-width="0.45"/><circle cx="48.6" cy="359.2" r="1.9" fill="#ffffff" stroke="#5a5a5a" stroke-width="0.45"/><circle cx="60.5" cy="361.5" r="1.9" fill="#ffffff" stroke="#5a5a5a" stroke-width="0.45"/><circle cx="69.2" cy="355.6" r="1.9" fill="#ffffff" stroke="#5a5a5a" stroke-width="0.45"/><circle cx="79.8" cy="353.2" r="1.9" fill="#ffffff" stroke="#5a5a5a" stroke-width="0.45"/><circle cx="56.0" cy="360.5" r="1.9" fill="#ffffff" stroke="#5a5a5a" stroke-width="0.45"/><circle cx="44.7" cy="358.6" r="1.9" fill="#ffffff" stroke="#5a5a5a" stroke-width="0.45"/><circle cx="40.0" cy="360.3" r="1.9" fill="#ffffff" stroke="#5a5a5a" stroke-width="0.45"/><circle cx="70.6" cy="358.3" r="1.9" fill="#ffffff" stroke="#5a5a5a" stroke-width="0.45"/><circle cx="75.3" cy="355.5" r="1.9" fill="#ffffff" stroke="#5a5a5a" stroke-width="0.45"/><circle cx="67.7" cy="358.6" r="1.9" fill="#ffffff" stroke="#5a5a5a" stroke-width="0.45"/><circle cx="62.8" cy="357.5" r="1.9" fill="#ffffff" stroke="#5a5a5a" stroke-width="0.45"/><circle cx="73.8" cy="361.9" r="1.9" fill="#ffffff" stroke="#5a5a5a" stroke-width="0.45"/><circle cx="58.4" cy="359.6" r="1.9" fill="#ffffff" stroke="#5a5a5a" stroke-width="0.45"/><circle cx="40.9" cy="360.5" r="1.9" fill="#ffffff" stroke="#5a5a5a" stroke-width="0.45"/><circle cx="65.7" cy="362.5" r="1.9" fill="#ffffff" stroke="#5a5a5a" stroke-width="0.45"/><circle cx="73.1" cy="355.3" r="1.9" fill="#ffffff" stroke="#5a5a5a" stroke-width="0.45"/><circle cx="54.6" cy="359.8" r="1.9" fill="#ffffff" stroke="#5a5a5a" stroke-width="0.45"/><circle cx="39.3" cy="358.7" r="1.9" fill="#ffffff" stroke="#5a5a5a" stroke-width="0.45"/><circle cx="45.4" cy="355.5" r="1.9" fill="#ffffff" stroke="#5a5a5a" stroke-width="0.45"/><circle cx="40.8" cy="361.0" r="1.9" fill="#ffffff" stroke="#5a5a5a" stroke-width="0.45"/><circle cx="43.8" cy="356.7" r="1.9" fill="#ffffff" stroke="#5a5a5a" stroke-width="0.45"/><circle cx="54.8" cy="361.6" r="1.9" fill="#ffffff" stroke="#5a5a5a" stroke-width="0.45"/><circle cx="41.7" cy="358.4" r="1.9" fill="#ffffff" stroke="#5a5a5a" stroke-width="0.45"/><circle cx="61.5" cy="361.5" r="1.9" fill="#ffffff" stroke="#5a5a5a" stroke-width="0.45"/><circle cx="73.0" cy="361.1" r="1.9" fill="#ffffff" stroke="#5a5a5a" stroke-width="0.45"/><circle cx="50.1" cy="357.8" r="1.9" fill="#ffffff" stroke="#5a5a5a" stroke-width="0.45"/><circle cx="53.5" cy="361.7" r="1.9" fill="#ffffff" stroke="#5a5a5a" stroke-width="0.45"/><circle cx="78.8" cy="353.6" r="1.9" fill="#ffffff" stroke="#5a5a5a" stroke-width="0.45"/><circle cx="45.8" cy="356.5" r="1.9" fill="#ffffff" stroke="#5a5a5a" stroke-width="0.45"/><circle cx="48.2" cy="358.4" r="1.9" fill="#ffffff" stroke="#5a5a5a" stroke-width="0.45"/><circle cx="63.2" cy="355.7" r="1.9" fill="#ffffff" stroke="#5a5a5a" stroke-width="0.45"/><circle cx="38.5" cy="358.4" r="1.9" fill="#ffffff" stroke="#5a5a5a" stroke-width="0.45"/><circle cx="53.9" cy="358.9" r="1.9" fill="#ffffff" stroke="#5a5a5a" stroke-width="0.45"/><circle cx="78.6" cy="359.2" r="1.9" fill="#ffffff" stroke="#5a5a5a" stroke-width="0.45"/><circle cx="60.1" cy="359.1" r="1.9" fill="#ffffff" stroke="#5a5a5a" stroke-width="0.45"/><circle cx="66.9" cy="353.5" r="1.9" fill="#ffffff" stroke="#5a5a5a" stroke-width="0.45"/><circle cx="76.4" cy="360.2" r="1.9" fill="#ffffff" stroke="#5a5a5a" stroke-width="0.45"/><circle cx="75.3" cy="360.4" r="1.9" fill="#ffffff" stroke="#5a5a5a" stroke-width="0.45"/><circle cx="54.9" cy="357.4" r="1.9" fill="#ffffff" stroke="#5a5a5a" stroke-width="0.45"/><circle cx="42.7" cy="359.9" r="1.9" fill="#ffffff" stroke="#5a5a5a" stroke-width="0.45"/><circle cx="40.9" cy="355.5" r="1.9" fill="#ffffff" stroke="#5a5a5a" stroke-width="0.45"/><circle cx="47.1" cy="355.8" r="1.9" fill="#ffffff" stroke="#5a5a5a" stroke-width="0.45"/><circle cx="52.7" cy="354.5" r="1.9" fill="#ffffff" stroke="#5a5a5a" stroke-width="0.45"/><circle cx="38.3" cy="356.3" r="1.9" fill="#ffffff" stroke="#5a5a5a" stroke-width="0.45"/><circle cx="42.6" cy="357.7" r="1.9" fill="#ffffff" stroke="#5a5a5a" stroke-width="0.45"/><circle cx="39.4" cy="361.9" r="1.9" fill="#ffffff" stroke="#5a5a5a" stroke-width="0.45"/><circle cx="64.3" cy="354.6" r="1.9" fill="#ffffff" stroke="#5a5a5a" stroke-width="0.45"/><circle cx="49.0" cy="357.2" r="1.9" fill="#ffffff" stroke="#5a5a5a" stroke-width="0.45"/><circle cx="53.7" cy="355.0" r="1.9" fill="#ffffff" stroke="#5a5a5a" stroke-width="0.45"/><circle cx="74.2" cy="362.4" r="1.9" fill="#ffffff" stroke="#5a5a5a" stroke-width="0.45"/><circle cx="58.0" cy="358.0" r="1.9" fill="#ffffff" stroke="#5a5a5a" stroke-width="0.45"/><circle cx="41.9" cy="355.7" r="1.9" fill="#ffffff" stroke="#5a5a5a" stroke-width="0.45"/><circle cx="52.8" cy="356.3" r="1.9" fill="#ffffff" stroke="#5a5a5a" stroke-width="0.45"/><circle cx="73.4" cy="354.1" r="1.9" fill="#ffffff" stroke="#5a5a5a" stroke-width="0.45"/><circle cx="39.3" cy="362.5" r="1.9" fill="#ffffff" stroke="#5a5a5a" stroke-width="0.45"/><circle cx="60.6" cy="354.8" r="1.9" fill="#ffffff" stroke="#5a5a5a" stroke-width="0.45"/><circle cx="61.3" cy="353.6" r="1.9" fill="#ffffff" stroke="#5a5a5a" stroke-width="0.45"/><circle cx="60.6" cy="362.4" r="1.9" fill="#ffffff" stroke="#5a5a5a" stroke-width="0.45"/><circle cx="74.8" cy="359.4" r="1.9" fill="#ffffff" stroke="#5a5a5a" stroke-width="0.45"/><circle cx="49.3" cy="357.4" r="1.9" fill="#ffffff" stroke="#5a5a5a" stroke-width="0.45"/><circle cx="45.4" cy="360.9" r="1.9" fill="#ffffff" stroke="#5a5a5a" stroke-width="0.45"/><circle cx="60.8" cy="360.6" r="1.9" fill="#ffffff" stroke="#5a5a5a" stroke-width="0.45"/><circle cx="52.2" cy="356.0" r="1.9" fill="#ffffff" stroke="#5a5a5a" stroke-width="0.45"/><circle cx="72.6" cy="362.3" r="1.9" fill="#ffffff" stroke="#5a5a5a" stroke-width="0.45"/><circle cx="74.4" cy="360.5" r="1.9" fill="#ffffff" stroke="#5a5a5a" stroke-width="0.45"/><circle cx="72.9" cy="359.9" r="1.9" fill="#ffffff" stroke="#5a5a5a" stroke-width="0.45"/><circle cx="47.9" cy="358.7" r="1.9" fill="#ffffff" stroke="#5a5a5a" stroke-width="0.45"/><circle cx="53.3" cy="354.2" r="1.9" fill="#ffffff" stroke="#5a5a5a" stroke-width="0.45"/><circle cx="39.5" cy="357.2" r="1.9" fill="#ffffff" stroke="#5a5a5a" stroke-width="0.45"/><circle cx="49.3" cy="360.2" r="1.9" fill="#ffffff" stroke="#5a5a5a" stroke-width="0.45"/><circle cx="78.8" cy="356.7" r="1.9" fill="#ffffff" stroke="#5a5a5a" stroke-width="0.45"/><circle cx="77.9" cy="362.3" r="1.9" fill="#ffffff" stroke="#5a5a5a" stroke-width="0.45"/><circle cx="78.7" cy="355.8" r="1.9" fill="#ffffff" stroke="#5a5a5a" stroke-width="0.45"/><circle cx="47.6" cy="356.3" r="1.9" fill="#ffffff" stroke="#5a5a5a" stroke-width="0.45"/><circle cx="46.6" cy="356.2" r="1.9" fill="#ffffff" stroke="#5a5a5a" stroke-width="0.45"/><circle cx="64.7" cy="361.6" r="1.9" fill="#ffffff" stroke="#5a5a5a" stroke-width="0.45"/><circle cx="73.9" cy="357.2" r="1.9" fill="#ffffff" stroke="#5a5a5a" stroke-width="0.45"/><circle cx="65.9" cy="360.6" r="1.9" fill="#ffffff" stroke="#5a5a5a" stroke-width="0.45"/><circle cx="41.9" cy="360.1" r="1.9" fill="#ffffff" stroke="#5a5a5a" stroke-width="0.45"/><circle cx="76.8" cy="360.2" r="1.9" fill="#ffffff" stroke="#5a5a5a" stroke-width="0.45"/><circle cx="70.0" cy="357.4" r="1.9" fill="#ffffff" stroke="#5a5a5a" stroke-width="0.45"/><circle cx="45.9" cy="361.1" r="1.9" fill="#ffffff" stroke="#5a5a5a" stroke-width="0.45"/><circle cx="52.4" cy="361.0" r="1.9" fill="#ffffff" stroke="#5a5a5a" stroke-width="0.45"/><circle cx="79.4" cy="356.1" r="1.9" fill="#ffffff" stroke="#5a5a5a" stroke-width="0.45"/><circle cx="55.3" cy="362.2" r="1.9" fill="#ffffff" stroke="#5a5a5a" stroke-width="0.45"/><circle cx="69.0" cy="354.4" r="1.9" fill="#ffffff" stroke="#5a5a5a" stroke-width="0.45"/><circle cx="43.7" cy="355.9" r="1.9" fill="#ffffff" stroke="#5a5a5a" stroke-width="0.45"/><circle cx="76.6" cy="360.5" r="1.9" fill="#ffffff" stroke="#5a5a5a" stroke-width="0.45"/><circle cx="44.5" cy="361.4" r="1.9" fill="#ffffff" stroke="#5a5a5a" stroke-width="0.45"/><circle cx="79.8" cy="358.8" r="1.9" fill="#ffffff" stroke="#5a5a5a" stroke-width="0.45"/><circle cx="53.1" cy="358.8" r="1.9" fill="#ffffff" stroke="#5a5a5a" stroke-width="0.45"/><circle cx="43.8" cy="354.8" r="1.9" fill="#ffffff" stroke="#5a5a5a" stroke-width="0.45"/><circle cx="79.4" cy="358.8" r="1.9" fill="#ffffff" stroke="#5a5a5a" stroke-width="0.45"/><circle cx="60.6" cy="362.0" r="1.9" fill="#ffffff" stroke="#5a5a5a" stroke-width="0.45"/><circle cx="56.7" cy="361.5" r="1.9" fill="#ffffff" stroke="#5a5a5a" stroke-width="0.45"/><circle cx="73.2" cy="354.6" r="1.9" fill="#ffffff" stroke="#5a5a5a" stroke-width="0.45"/><circle cx="49.0" cy="356.8" r="1.9" fill="#ffffff" stroke="#5a5a5a" stroke-width="0.45"/><circle cx="48.5" cy="359.3" r="1.9" fill="#ffffff" stroke="#5a5a5a" stroke-width="0.45"/><circle cx="49.3" cy="357.8" r="1.9" fill="#ffffff" stroke="#5a5a5a" stroke-width="0.45"/><circle cx="43.8" cy="362.1" r="1.9" fill="#ffffff" stroke="#5a5a5a" stroke-width="0.45"/><circle cx="53.3" cy="358.0" r="1.9" fill="#ffffff" stroke="#5a5a5a" stroke-width="0.45"/><circle cx="63.0" cy="361.7" r="1.9" fill="#ffffff" stroke="#5a5a5a" stroke-width="0.45"/><circle cx="56.1" cy="361.9" r="1.9" fill="#ffffff" stroke="#5a5a5a" stroke-width="0.45"/><circle cx="59.5" cy="358.4" r="1.9" fill="#ffffff" stroke="#5a5a5a" stroke-width="0.45"/><circle cx="60.4" cy="353.6" r="1.9" fill="#ffffff" stroke="#5a5a5a" stroke-width="0.45"/><circle cx="56.9" cy="355.3" r="1.9" fill="#ffffff" stroke="#5a5a5a" stroke-width="0.45"/><circle cx="38.5" cy="361.3" r="1.9" fill="#ffffff" stroke="#5a5a5a" stroke-width="0.45"/><circle cx="45.6" cy="358.5" r="1.9" fill="#ffffff" stroke="#5a5a5a" stroke-width="0.45"/><circle cx="69.0" cy="358.2" r="1.9" fill="#ffffff" stroke="#5a5a5a" stroke-width="0.45"/><circle cx="52.1" cy="358.6" r="1.9" fill="#ffffff" stroke="#5a5a5a" stroke-width="0.45"/><circle cx="61.8" cy="360.6" r="1.9" fill="#ffffff" stroke="#5a5a5a" stroke-width="0.45"/><circle cx="42.8" cy="359.3" r="1.9" fill="#ffffff" stroke="#5a5a5a" stroke-width="0.45"/><circle cx="48.8" cy="356.7" r="1.9" fill="#ffffff" stroke="#5a5a5a" stroke-width="0.45"/><circle cx="71.0" cy="357.6" r="1.9" fill="#ffffff" stroke="#5a5a5a" stroke-width="0.45"/><circle cx="62.1" cy="360.4" r="1.9" fill="#ffffff" stroke="#5a5a5a" stroke-width="0.45"/><circle cx="76.9" cy="356.7" r="1.9" fill="#ffffff" stroke="#5a5a5a" stroke-width="0.45"/><circle cx="64.2" cy="357.9" r="1.9" fill="#ffffff" stroke="#5a5a5a" stroke-width="0.45"/><circle cx="60.0" cy="359.8" r="1.9" fill="#ffffff" stroke="#5a5a5a" stroke-width="0.45"/><circle cx="57.4" cy="358.5" r="1.9" fill="#ffffff" stroke="#5a5a5a" stroke-width="0.45"/><circle cx="58.5" cy="362.1" r="1.9" fill="#ffffff" stroke="#5a5a5a" stroke-width="0.45"/><circle cx="67.9" cy="361.3" r="1.9" fill="#ffffff" stroke="#5a5a5a" stroke-width="0.45"/><circle cx="78.2" cy="354.8" r="1.9" fill="#ffffff" stroke="#5a5a5a" stroke-width="0.45"/><circle cx="62.0" cy="362.1" r="1.9" fill="#ffffff" stroke="#5a5a5a" stroke-width="0.45"/><circle cx="73.8" cy="353.8" r="1.9" fill="#ffffff" stroke="#5a5a5a" stroke-width="0.45"/><circle cx="43.4" cy="358.3" r="1.9" fill="#ffffff" stroke="#5a5a5a" stroke-width="0.45"/><circle cx="41.4" cy="356.8" r="1.9" fill="#ffffff" stroke="#5a5a5a" stroke-width="0.45"/><circle cx="41.4" cy="360.2" r="1.9" fill="#ffffff" stroke="#5a5a5a" stroke-width="0.45"/><circle cx="71.5" cy="361.5" r="1.9" fill="#ffffff" stroke="#5a5a5a" stroke-width="0.45"/><circle cx="44.8" cy="360.5" r="1.9" fill="#ffffff" stroke="#5a5a5a" stroke-width="0.45"/><circle cx="66.2" cy="354.4" r="1.9" fill="#ffffff" stroke="#5a5a5a" stroke-width="0.45"/><circle cx="75.6" cy="362.1" r="1.9" fill="#ffffff" stroke="#5a5a5a" stroke-width="0.45"/><circle cx="47.6" cy="362.4" r="1.9" fill="#ffffff" stroke="#5a5a5a" stroke-width="0.45"/><circle cx="55.1" cy="358.2" r="1.9" fill="#ffffff" stroke="#5a5a5a" stroke-width="0.45"/><circle cx="80.2" cy="360.6" r="1.9" fill="#ffffff" stroke="#5a5a5a" stroke-width="0.45"/><circle cx="45.1" cy="358.1" r="1.9" fill="#ffffff" stroke="#5a5a5a" stroke-width="0.45"/><circle cx="60.1" cy="356.6" r="1.9" fill="#ffffff" stroke="#5a5a5a" stroke-width="0.45"/><circle cx="46.6" cy="357.1" r="1.9" fill="#ffffff" stroke="#5a5a5a" stroke-width="0.45"/><circle cx="68.8" cy="353.0" r="1.9" fill="#ffffff" stroke="#5a5a5a" stroke-width="0.45"/><circle cx="61.7" cy="357.4" r="1.9" fill="#ffffff" stroke="#5a5a5a" stroke-width="0.45"/><circle cx="39.1" cy="357.6" r="1.9" fill="#ffffff" stroke="#5a5a5a" stroke-width="0.45"/><circle cx="64.7" cy="358.0" r="1.9" fill="#ffffff" stroke="#5a5a5a" stroke-width="0.45"/><circle cx="41.0" cy="362.7" r="1.9" fill="#ffffff" stroke="#5a5a5a" stroke-width="0.45"/><circle cx="71.6" cy="362.2" r="1.9" fill="#ffffff" stroke="#5a5a5a" stroke-width="0.45"/><circle cx="42.7" cy="356.9" r="1.9" fill="#ffffff" stroke="#5a5a5a" stroke-width="0.45"/><circle cx="40.0" cy="361.1" r="1.9" fill="#ffffff" stroke="#5a5a5a" stroke-width="0.45"/><circle cx="49.7" cy="355.4" r="1.9" fill="#ffffff" stroke="#5a5a5a" stroke-width="0.45"/><circle cx="56.2" cy="361.9" r="1.9" fill="#ffffff" stroke="#5a5a5a" stroke-width="0.45"/><circle cx="72.9" cy="355.1" r="1.9" fill="#ffffff" stroke="#5a5a5a" stroke-width="0.45"/><circle cx="44.6" cy="362.1" r="1.9" fill="#ffffff" stroke="#5a5a5a" stroke-width="0.45"/><circle cx="62.4" cy="359.8" r="1.9" fill="#ffffff" stroke="#5a5a5a" stroke-width="0.45"/><circle cx="42.1" cy="355.3" r="1.9" fill="#ffffff" stroke="#5a5a5a" stroke-width="0.45"/><circle cx="67.4" cy="357.0" r="1.9" fill="#ffffff" stroke="#5a5a5a" stroke-width="0.45"/><circle cx="41.4" cy="362.4" r="1.9" fill="#ffffff" stroke="#5a5a5a" stroke-width="0.45"/><circle cx="65.1" cy="360.7" r="1.9" fill="#ffffff" stroke="#5a5a5a" stroke-width="0.45"/><circle cx="41.8" cy="361.7" r="1.9" fill="#ffffff" stroke="#5a5a5a" stroke-width="0.45"/><circle cx="41.1" cy="361.8" r="1.9" fill="#ffffff" stroke="#5a5a5a" stroke-width="0.45"/><circle cx="57.5" cy="356.7" r="1.9" fill="#ffffff" stroke="#5a5a5a" stroke-width="0.45"/><circle cx="61.7" cy="361.9" r="1.9" fill="#ffffff" stroke="#5a5a5a" stroke-width="0.45"/><circle cx="49.6" cy="355.4" r="1.9" fill="#ffffff" stroke="#5a5a5a" stroke-width="0.45"/><circle cx="60.6" cy="355.6" r="1.9" fill="#ffffff" stroke="#5a5a5a" stroke-width="0.45"/><circle cx="42.9" cy="356.1" r="1.9" fill="#ffffff" stroke="#5a5a5a" stroke-width="0.45"/><circle cx="40.4" cy="356.5" r="1.9" fill="#ffffff" stroke="#5a5a5a" stroke-width="0.45"/><circle cx="51.5" cy="356.7" r="1.9" fill="#ffffff" stroke="#5a5a5a" stroke-width="0.45"/><circle cx="70.4" cy="355.5" r="1.9" fill="#ffffff" stroke="#5a5a5a" stroke-width="0.45"/><circle cx="59.5" cy="355.1" r="1.9" fill="#ffffff" stroke="#5a5a5a" stroke-width="0.45"/><circle cx="53.0" cy="354.2" r="1.9" fill="#ffffff" stroke="#5a5a5a" stroke-width="0.45"/><circle cx="48.9" cy="354.4" r="1.9" fill="#ffffff" stroke="#5a5a5a" stroke-width="0.45"/><circle cx="69.3" cy="358.1" r="1.9" fill="#ffffff" stroke="#5a5a5a" stroke-width="0.45"/><circle cx="46.3" cy="358.4" r="1.9" fill="#ffffff" stroke="#5a5a5a" stroke-width="0.45"/><circle cx="77.8" cy="353.2" r="1.9" fill="#ffffff" stroke="#5a5a5a" stroke-width="0.45"/><circle cx="72.9" cy="356.8" r="1.9" fill="#ffffff" stroke="#5a5a5a" stroke-width="0.45"/><circle cx="59.2" cy="361.1" r="1.9" fill="#ffffff" stroke="#5a5a5a" stroke-width="0.45"/><circle cx="54.9" cy="358.3" r="1.9" fill="#ffffff" stroke="#5a5a5a" stroke-width="0.45"/><circle cx="67.4" cy="362.4" r="1.9" fill="#ffffff" stroke="#5a5a5a" stroke-width="0.45"/><circle cx="52.8" cy="361.3" r="1.9" fill="#ffffff" stroke="#5a5a5a" stroke-width="0.45"/><circle cx="68.2" cy="359.0" r="1.9" fill="#ffffff" stroke="#5a5a5a" stroke-width="0.45"/><circle cx="55.4" cy="356.9" r="1.9" fill="#ffffff" stroke="#5a5a5a" stroke-width="0.45"/><circle cx="40.6" cy="356.0" r="1.9" fill="#ffffff" stroke="#5a5a5a" stroke-width="0.45"/><circle cx="41.3" cy="360.8" r="1.9" fill="#ffffff" stroke="#5a5a5a" stroke-width="0.45"/><circle cx="49.1" cy="355.7" r="1.9" fill="#ffffff" stroke="#5a5a5a" stroke-width="0.45"/><circle cx="41.9" cy="361.6" r="1.9" fill="#ffffff" stroke="#5a5a5a" stroke-width="0.45"/><circle cx="75.1" cy="359.1" r="1.9" fill="#ffffff" stroke="#5a5a5a" stroke-width="0.45"/><circle cx="50.2" cy="356.3" r="1.9" fill="#ffffff" stroke="#5a5a5a" stroke-width="0.45"/><circle cx="50.7" cy="358.1" r="1.9" fill="#ffffff" stroke="#5a5a5a" stroke-width="0.45"/><circle cx="45.0" cy="358.3" r="1.9" fill="#ffffff" stroke="#5a5a5a" stroke-width="0.45"/><circle cx="49.4" cy="362.4" r="1.9" fill="#ffffff" stroke="#5a5a5a" stroke-width="0.45"/><circle cx="79.4" cy="357.7" r="1.9" fill="#ffffff" stroke="#5a5a5a" stroke-width="0.45"/><circle cx="48.6" cy="362.5" r="1.9" fill="#ffffff" stroke="#5a5a5a" stroke-width="0.45"/><circle cx="51.4" cy="357.2" r="1.9" fill="#ffffff" stroke="#5a5a5a" stroke-width="0.45"/><circle cx="38.3" cy="358.1" r="1.9" fill="#ffffff" stroke="#5a5a5a" stroke-width="0.45"/><circle cx="58.4" cy="358.1" r="1.9" fill="#ffffff" stroke="#5a5a5a" stroke-width="0.45"/><circle cx="46.8" cy="358.7" r="1.9" fill="#ffffff" stroke="#5a5a5a" stroke-width="0.45"/><circle cx="38.5" cy="357.2" r="1.9" fill="#ffffff" stroke="#5a5a5a" stroke-width="0.45"/><circle cx="42.1" cy="358.0" r="1.9" fill="#ffffff" stroke="#5a5a5a" stroke-width="0.45"/><circle cx="40.1" cy="355.2" r="1.9" fill="#ffffff" stroke="#5a5a5a" stroke-width="0.45"/><circle cx="51.2" cy="356.1" r="1.9" fill="#ffffff" stroke="#5a5a5a" stroke-width="0.45"/><circle cx="63.1" cy="358.2" r="1.9" fill="#ffffff" stroke="#5a5a5a" stroke-width="0.45"/><circle cx="70.0" cy="359.2" r="1.9" fill="#ffffff" stroke="#5a5a5a" stroke-width="0.45"/><circle cx="68.6" cy="361.4" r="1.9" fill="#ffffff" stroke="#5a5a5a" stroke-width="0.45"/><circle cx="54.8" cy="356.7" r="1.9" fill="#ffffff" stroke="#5a5a5a" stroke-width="0.45"/><circle cx="80.0" cy="353.5" r="1.9" fill="#ffffff" stroke="#5a5a5a" stroke-width="0.45"/><circle cx="68.9" cy="359.1" r="1.9" fill="#ffffff" stroke="#5a5a5a" stroke-width="0.45"/><circle cx="40.2" cy="361.6" r="1.9" fill="#ffffff" stroke="#5a5a5a" stroke-width="0.45"/><circle cx="76.0" cy="358.6" r="1.9" fill="#ffffff" stroke="#5a5a5a" stroke-width="0.45"/><circle cx="69.3" cy="360.7" r="1.9" fill="#ffffff" stroke="#5a5a5a" stroke-width="0.45"/><circle cx="44.2" cy="358.9" r="1.9" fill="#ffffff" stroke="#5a5a5a" stroke-width="0.45"/><circle cx="59.6" cy="361.1" r="1.9" fill="#ffffff" stroke="#5a5a5a" stroke-width="0.45"/><circle cx="72.3" cy="360.8" r="1.9" fill="#ffffff" stroke="#5a5a5a" stroke-width="0.45"/><circle cx="63.0" cy="361.6" r="1.9" fill="#ffffff" stroke="#5a5a5a" stroke-width="0.45"/><circle cx="67.2" cy="359.6" r="1.9" fill="#ffffff" stroke="#5a5a5a" stroke-width="0.45"/><circle cx="48.0" cy="354.6" r="1.9" fill="#ffffff" stroke="#5a5a5a" stroke-width="0.45"/><circle cx="43.9" cy="357.6" r="1.9" fill="#ffffff" stroke="#5a5a5a" stroke-width="0.45"/><circle cx="42.7" cy="361.5" r="1.9" fill="#ffffff" stroke="#5a5a5a" stroke-width="0.45"/><circle cx="61.9" cy="359.2" r="1.9" fill="#ffffff" stroke="#5a5a5a" stroke-width="0.45"/><circle cx="64.8" cy="359.6" r="1.9" fill="#ffffff" stroke="#5a5a5a" stroke-width="0.45"/><circle cx="59.0" cy="353.6" r="1.9" fill="#ffffff" stroke="#5a5a5a" stroke-width="0.45"/><circle cx="72.0" cy="360.0" r="1.9" fill="#ffffff" stroke="#5a5a5a" stroke-width="0.45"/><circle cx="59.6" cy="358.4" r="1.9" fill="#ffffff" stroke="#5a5a5a" stroke-width="0.45"/><circle cx="66.2" cy="353.6" r="1.9" fill="#ffffff" stroke="#5a5a5a" stroke-width="0.45"/><circle cx="69.5" cy="355.2" r="1.9" fill="#ffffff" stroke="#5a5a5a" stroke-width="0.45"/><circle cx="41.4" cy="357.0" r="1.9" fill="#ffffff" stroke="#5a5a5a" stroke-width="0.45"/><circle cx="69.2" cy="354.8" r="1.9" fill="#ffffff" stroke="#5a5a5a" stroke-width="0.45"/><circle cx="69.6" cy="362.3" r="1.9" fill="#ffffff" stroke="#5a5a5a" stroke-width="0.45"/><circle cx="59.2" cy="357.0" r="1.9" fill="#ffffff" stroke="#5a5a5a" stroke-width="0.45"/><circle cx="58.6" cy="359.8" r="1.9" fill="#ffffff" stroke="#5a5a5a" stroke-width="0.45"/><circle cx="70.7" cy="358.7" r="1.9" fill="#ffffff" stroke="#5a5a5a" stroke-width="0.45"/><circle cx="65.5" cy="353.8" r="1.9" fill="#ffffff" stroke="#5a5a5a" stroke-width="0.45"/><circle cx="44.5" cy="356.7" r="1.9" fill="#ffffff" stroke="#5a5a5a" stroke-width="0.45"/><circle cx="69.7" cy="355.7" r="1.9" fill="#ffffff" stroke="#5a5a5a" stroke-width="0.45"/><circle cx="62.3" cy="353.4" r="1.9" fill="#ffffff" stroke="#5a5a5a" stroke-width="0.45"/><circle cx="40.9" cy="357.1" r="1.9" fill="#ffffff" stroke="#5a5a5a" stroke-width="0.45"/><circle cx="66.7" cy="359.6" r="1.9" fill="#ffffff" stroke="#5a5a5a" stroke-width="0.45"/><circle cx="66.9" cy="355.7" r="1.9" fill="#ffffff" stroke="#5a5a5a" stroke-width="0.45"/><circle cx="60.1" cy="357.7" r="1.9" fill="#ffffff" stroke="#5a5a5a" stroke-width="0.45"/><circle cx="58.0" cy="354.7" r="1.9" fill="#ffffff" stroke="#5a5a5a" stroke-width="0.45"/><circle cx="76.1" cy="354.3" r="1.9" fill="#ffffff" stroke="#5a5a5a" stroke-width="0.45"/><circle cx="79.7" cy="361.7" r="1.9" fill="#ffffff" stroke="#5a5a5a" stroke-width="0.45"/><circle cx="39.0" cy="358.6" r="1.9" fill="#ffffff" stroke="#5a5a5a" stroke-width="0.45"/><circle cx="73.0" cy="362.2" r="1.9" fill="#ffffff" stroke="#5a5a5a" stroke-width="0.45"/><circle cx="57.3" cy="356.1" r="1.9" fill="#ffffff" stroke="#5a5a5a" stroke-width="0.45"/><circle cx="47.2" cy="362.3" r="1.9" fill="#ffffff" stroke="#5a5a5a" stroke-width="0.45"/><circle cx="47.2" cy="359.3" r="1.9" fill="#ffffff" stroke="#5a5a5a" stroke-width="0.45"/><circle cx="44.3" cy="358.9" r="1.9" fill="#ffffff" stroke="#5a5a5a" stroke-width="0.45"/><circle cx="78.6" cy="353.4" r="1.9" fill="#ffffff" stroke="#5a5a5a" stroke-width="0.45"/><circle cx="73.0" cy="357.6" r="1.9" fill="#ffffff" stroke="#5a5a5a" stroke-width="0.45"/><circle cx="75.8" cy="359.4" r="1.9" fill="#ffffff" stroke="#5a5a5a" stroke-width="0.45"/><circle cx="48.1" cy="361.9" r="1.9" fill="#ffffff" stroke="#5a5a5a" stroke-width="0.45"/><circle cx="58.9" cy="353.8" r="1.9" fill="#ffffff" stroke="#5a5a5a" stroke-width="0.45"/><circle cx="38.5" cy="358.9" r="1.9" fill="#ffffff" stroke="#5a5a5a" stroke-width="0.45"/><circle cx="57.4" cy="356.4" r="1.9" fill="#ffffff" stroke="#5a5a5a" stroke-width="0.45"/><circle cx="44.3" cy="357.5" r="1.9" fill="#ffffff" stroke="#5a5a5a" stroke-width="0.45"/><circle cx="51.7" cy="361.3" r="1.9" fill="#ffffff" stroke="#5a5a5a" stroke-width="0.45"/><circle cx="38.4" cy="360.9" r="1.9" fill="#ffffff" stroke="#5a5a5a" stroke-width="0.45"/><circle cx="73.8" cy="353.6" r="1.9" fill="#ffffff" stroke="#5a5a5a" stroke-width="0.45"/><circle cx="77.5" cy="359.5" r="1.9" fill="#ffffff" stroke="#5a5a5a" stroke-width="0.45"/><circle cx="76.4" cy="355.2" r="1.9" fill="#ffffff" stroke="#5a5a5a" stroke-width="0.45"/><circle cx="54.0" cy="357.4" r="1.9" fill="#ffffff" stroke="#5a5a5a" stroke-width="0.45"/><circle cx="80.5" cy="358.1" r="1.9" fill="#ffffff" stroke="#5a5a5a" stroke-width="0.45"/><circle cx="53.6" cy="357.7" r="1.9" fill="#ffffff" stroke="#5a5a5a" stroke-width="0.45"/><circle cx="49.9" cy="354.6" r="1.9" fill="#ffffff" stroke="#5a5a5a" stroke-width="0.45"/><circle cx="42.6" cy="361.5" r="1.9" fill="#ffffff" stroke="#5a5a5a" stroke-width="0.45"/><circle cx="50.4" cy="362.2" r="1.9" fill="#ffffff" stroke="#5a5a5a" stroke-width="0.45"/><circle cx="48.8" cy="356.6" r="1.9" fill="#ffffff" stroke="#5a5a5a" stroke-width="0.45"/><circle cx="59.9" cy="355.2" r="1.9" fill="#ffffff" stroke="#5a5a5a" stroke-width="0.45"/><circle cx="54.1" cy="362.3" r="1.9" fill="#ffffff" stroke="#5a5a5a" stroke-width="0.45"/><circle cx="75.7" cy="360.5" r="1.9" fill="#ffffff" stroke="#5a5a5a" stroke-width="0.45"/><circle cx="65.0" cy="361.7" r="1.9" fill="#ffffff" stroke="#5a5a5a" stroke-width="0.45"/><circle cx="78.1" cy="357.8" r="1.9" fill="#ffffff" stroke="#5a5a5a" stroke-width="0.45"/><circle cx="68.7" cy="353.3" r="1.9" fill="#ffffff" stroke="#5a5a5a" stroke-width="0.45"/><circle cx="69.3" cy="357.2" r="1.9" fill="#ffffff" stroke="#5a5a5a" stroke-width="0.45"/><circle cx="70.1" cy="359.0" r="1.9" fill="#ffffff" stroke="#5a5a5a" stroke-width="0.45"/><circle cx="50.4" cy="354.6" r="1.9" fill="#ffffff" stroke="#5a5a5a" stroke-width="0.45"/><circle cx="77.5" cy="353.5" r="1.9" fill="#ffffff" stroke="#5a5a5a" stroke-width="0.45"/><circle cx="58.3" cy="356.7" r="1.9" fill="#ffffff" stroke="#5a5a5a" stroke-width="0.45"/><circle cx="50.9" cy="360.5" r="1.9" fill="#ffffff" stroke="#5a5a5a" stroke-width="0.45"/><circle cx="79.6" cy="354.7" r="1.9" fill="#ffffff" stroke="#5a5a5a" stroke-width="0.45"/><circle cx="66.0" cy="355.9" r="1.9" fill="#ffffff" stroke="#5a5a5a" stroke-width="0.45"/><circle cx="61.9" cy="357.0" r="1.9" fill="#ffffff" stroke="#5a5a5a" stroke-width="0.45"/><circle cx="45.4" cy="355.9" r="1.9" fill="#ffffff" stroke="#5a5a5a" stroke-width="0.45"/><circle cx="47.1" cy="362.0" r="1.9" fill="#ffffff" stroke="#5a5a5a" stroke-width="0.45"/><circle cx="59.3" cy="355.5" r="1.9" fill="#ffffff" stroke="#5a5a5a" stroke-width="0.45"/><circle cx="76.6" cy="362.4" r="1.9" fill="#ffffff" stroke="#5a5a5a" stroke-width="0.45"/><circle cx="57.3" cy="354.9" r="1.9" fill="#ffffff" stroke="#5a5a5a" stroke-width="0.45"/><circle cx="46.4" cy="355.3" r="1.9" fill="#ffffff" stroke="#5a5a5a" stroke-width="0.45"/><circle cx="52.8" cy="354.8" r="1.9" fill="#ffffff" stroke="#5a5a5a" stroke-width="0.45"/><circle cx="48.4" cy="356.5" r="1.9" fill="#ffffff" stroke="#5a5a5a" stroke-width="0.45"/><circle cx="62.4" cy="361.6" r="1.9" fill="#ffffff" stroke="#5a5a5a" stroke-width="0.45"/><circle cx="70.0" cy="356.8" r="1.9" fill="#ffffff" stroke="#5a5a5a" stroke-width="0.45"/><circle cx="55.8" cy="358.4" r="1.9" fill="#ffffff" stroke="#5a5a5a" stroke-width="0.45"/><circle cx="54.2" cy="356.9" r="1.9" fill="#ffffff" stroke="#5a5a5a" stroke-width="0.45"/><circle cx="40.9" cy="357.1" r="1.9" fill="#ffffff" stroke="#5a5a5a" stroke-width="0.45"/><circle cx="79.2" cy="353.3" r="1.9" fill="#ffffff" stroke="#5a5a5a" stroke-width="0.45"/><circle cx="59.6" cy="359.3" r="1.9" fill="#ffffff" stroke="#5a5a5a" stroke-width="0.45"/><circle cx="74.8" cy="354.5" r="1.9" fill="#ffffff" stroke="#5a5a5a" stroke-width="0.45"/><circle cx="49.8" cy="356.4" r="1.9" fill="#ffffff" stroke="#5a5a5a" stroke-width="0.45"/><circle cx="55.2" cy="357.8" r="1.9" fill="#ffffff" stroke="#5a5a5a" stroke-width="0.45"/><circle cx="78.7" cy="360.8" r="1.9" fill="#ffffff" stroke="#5a5a5a" stroke-width="0.45"/><circle cx="75.2" cy="352.5" r="1.9" fill="#ffffff" stroke="#5a5a5a" stroke-width="0.45"/>
<circle cx="39.7" cy="368.9" r="2.1" fill="#1a3ee6" stroke="#0a1e9a" stroke-width="0.5"/><circle cx="76.2" cy="366.6" r="2.1" fill="#1a3ee6" stroke="#0a1e9a" stroke-width="0.5"/><circle cx="63.1" cy="364.8" r="2.1" fill="#1a3ee6" stroke="#0a1e9a" stroke-width="0.5"/><circle cx="54.9" cy="369.4" r="2.1" fill="#1a3ee6" stroke="#0a1e9a" stroke-width="0.5"/><circle cx="73.2" cy="368.3" r="2.1" fill="#1a3ee6" stroke="#0a1e9a" stroke-width="0.5"/><circle cx="79.4" cy="365.6" r="2.1" fill="#1a3ee6" stroke="#0a1e9a" stroke-width="0.5"/><circle cx="42.9" cy="365.8" r="2.1" fill="#1a3ee6" stroke="#0a1e9a" stroke-width="0.5"/><circle cx="60.4" cy="368.0" r="2.1" fill="#1a3ee6" stroke="#0a1e9a" stroke-width="0.5"/><circle cx="78.1" cy="367.5" r="2.1" fill="#1a3ee6" stroke="#0a1e9a" stroke-width="0.5"/><circle cx="65.7" cy="368.2" r="2.1" fill="#1a3ee6" stroke="#0a1e9a" stroke-width="0.5"/><circle cx="57.6" cy="367.5" r="2.1" fill="#1a3ee6" stroke="#0a1e9a" stroke-width="0.5"/><circle cx="40.0" cy="369.3" r="2.1" fill="#1a3ee6" stroke="#0a1e9a" stroke-width="0.5"/><circle cx="48.1" cy="369.6" r="2.1" fill="#1a3ee6" stroke="#0a1e9a" stroke-width="0.5"/><circle cx="65.6" cy="366.1" r="2.1" fill="#1a3ee6" stroke="#0a1e9a" stroke-width="0.5"/><circle cx="43.7" cy="366.3" r="2.1" fill="#1a3ee6" stroke="#0a1e9a" stroke-width="0.5"/><circle cx="65.2" cy="367.9" r="2.1" fill="#1a3ee6" stroke="#0a1e9a" stroke-width="0.5"/><circle cx="43.0" cy="365.4" r="2.1" fill="#1a3ee6" stroke="#0a1e9a" stroke-width="0.5"/><circle cx="60.5" cy="367.5" r="2.1" fill="#1a3ee6" stroke="#0a1e9a" stroke-width="0.5"/><circle cx="54.7" cy="366.0" r="2.1" fill="#1a3ee6" stroke="#0a1e9a" stroke-width="0.5"/><circle cx="63.7" cy="364.8" r="2.1" fill="#1a3ee6" stroke="#0a1e9a" stroke-width="0.5"/><circle cx="51.1" cy="367.2" r="2.1" fill="#1a3ee6" stroke="#0a1e9a" stroke-width="0.5"/><circle cx="78.9" cy="367.2" r="2.1" fill="#1a3ee6" stroke="#0a1e9a" stroke-width="0.5"/><circle cx="75.7" cy="366.6" r="2.1" fill="#1a3ee6" stroke="#0a1e9a" stroke-width="0.5"/><circle cx="48.2" cy="366.2" r="2.1" fill="#1a3ee6" stroke="#0a1e9a" stroke-width="0.5"/><circle cx="78.9" cy="367.4" r="2.1" fill="#1a3ee6" stroke="#0a1e9a" stroke-width="0.5"/><circle cx="51.3" cy="365.0" r="2.1" fill="#1a3ee6" stroke="#0a1e9a" stroke-width="0.5"/><circle cx="59.4" cy="368.0" r="2.1" fill="#1a3ee6" stroke="#0a1e9a" stroke-width="0.5"/><circle cx="56.1" cy="366.1" r="2.1" fill="#1a3ee6" stroke="#0a1e9a" stroke-width="0.5"/><circle cx="66.5" cy="368.8" r="2.1" fill="#1a3ee6" stroke="#0a1e9a" stroke-width="0.5"/><circle cx="47.9" cy="365.1" r="2.1" fill="#1a3ee6" stroke="#0a1e9a" stroke-width="0.5"/><circle cx="52.6" cy="367.0" r="2.1" fill="#1a3ee6" stroke="#0a1e9a" stroke-width="0.5"/><circle cx="67.2" cy="365.6" r="2.1" fill="#1a3ee6" stroke="#0a1e9a" stroke-width="0.5"/><circle cx="72.0" cy="367.8" r="2.1" fill="#1a3ee6" stroke="#0a1e9a" stroke-width="0.5"/><circle cx="59.7" cy="365.8" r="2.1" fill="#1a3ee6" stroke="#0a1e9a" stroke-width="0.5"/><circle cx="79.3" cy="365.8" r="2.1" fill="#1a3ee6" stroke="#0a1e9a" stroke-width="0.5"/><circle cx="73.0" cy="365.6" r="2.1" fill="#1a3ee6" stroke="#0a1e9a" stroke-width="0.5"/><circle cx="47.7" cy="368.9" r="2.1" fill="#1a3ee6" stroke="#0a1e9a" stroke-width="0.5"/><circle cx="50.8" cy="369.7" r="2.1" fill="#1a3ee6" stroke="#0a1e9a" stroke-width="0.5"/><circle cx="59.3" cy="365.7" r="2.1" fill="#1a3ee6" stroke="#0a1e9a" stroke-width="0.5"/><circle cx="47.7" cy="367.1" r="2.1" fill="#1a3ee6" stroke="#0a1e9a" stroke-width="0.5"/><circle cx="66.4" cy="369.0" r="2.1" fill="#1a3ee6" stroke="#0a1e9a" stroke-width="0.5"/><circle cx="44.5" cy="367.1" r="2.1" fill="#1a3ee6" stroke="#0a1e9a" stroke-width="0.5"/><circle cx="47.3" cy="370.0" r="2.1" fill="#1a3ee6" stroke="#0a1e9a" stroke-width="0.5"/><circle cx="44.3" cy="365.3" r="2.1" fill="#1a3ee6" stroke="#0a1e9a" stroke-width="0.5"/><circle cx="40.8" cy="367.2" r="2.1" fill="#1a3ee6" stroke="#0a1e9a" stroke-width="0.5"/><circle cx="76.3" cy="368.2" r="2.1" fill="#1a3ee6" stroke="#0a1e9a" stroke-width="0.5"/><circle cx="69.3" cy="369.0" r="2.1" fill="#1a3ee6" stroke="#0a1e9a" stroke-width="0.5"/><circle cx="77.7" cy="365.9" r="2.1" fill="#1a3ee6" stroke="#0a1e9a" stroke-width="0.5"/><circle cx="46.1" cy="369.8" r="2.1" fill="#1a3ee6" stroke="#0a1e9a" stroke-width="0.5"/><circle cx="69.9" cy="364.8" r="2.1" fill="#1a3ee6" stroke="#0a1e9a" stroke-width="0.5"/><circle cx="66.4" cy="366.4" r="2.1" fill="#1a3ee6" stroke="#0a1e9a" stroke-width="0.5"/><circle cx="54.1" cy="366.5" r="2.1" fill="#1a3ee6" stroke="#0a1e9a" stroke-width="0.5"/><circle cx="45.5" cy="365.0" r="2.1" fill="#1a3ee6" stroke="#0a1e9a" stroke-width="0.5"/><circle cx="50.1" cy="366.7" r="2.1" fill="#1a3ee6" stroke="#0a1e9a" stroke-width="0.5"/><circle cx="78.7" cy="365.1" r="2.1" fill="#1a3ee6" stroke="#0a1e9a" stroke-width="0.5"/><circle cx="79.1" cy="365.4" r="2.1" fill="#1a3ee6" stroke="#0a1e9a" stroke-width="0.5"/><circle cx="53.4" cy="368.9" r="2.1" fill="#1a3ee6" stroke="#0a1e9a" stroke-width="0.5"/><circle cx="73.1" cy="366.5" r="2.1" fill="#1a3ee6" stroke="#0a1e9a" stroke-width="0.5"/><circle cx="40.4" cy="367.6" r="2.1" fill="#1a3ee6" stroke="#0a1e9a" stroke-width="0.5"/><circle cx="54.1" cy="369.4" r="2.1" fill="#1a3ee6" stroke="#0a1e9a" stroke-width="0.5"/><circle cx="46.5" cy="366.9" r="2.1" fill="#1a3ee6" stroke="#0a1e9a" stroke-width="0.5"/><circle cx="76.2" cy="364.8" r="2.1" fill="#1a3ee6" stroke="#0a1e9a" stroke-width="0.5"/><circle cx="55.7" cy="368.8" r="2.1" fill="#1a3ee6" stroke="#0a1e9a" stroke-width="0.5"/><circle cx="70.7" cy="364.9" r="2.1" fill="#1a3ee6" stroke="#0a1e9a" stroke-width="0.5"/><circle cx="39.8" cy="365.4" r="2.1" fill="#1a3ee6" stroke="#0a1e9a" stroke-width="0.5"/><circle cx="77.2" cy="365.7" r="2.1" fill="#1a3ee6" stroke="#0a1e9a" stroke-width="0.5"/><circle cx="69.9" cy="368.6" r="2.1" fill="#1a3ee6" stroke="#0a1e9a" stroke-width="0.5"/><circle cx="52.6" cy="366.3" r="2.1" fill="#1a3ee6" stroke="#0a1e9a" stroke-width="0.5"/><circle cx="78.8" cy="367.1" r="2.1" fill="#1a3ee6" stroke="#0a1e9a" stroke-width="0.5"/><circle cx="49.4" cy="368.6" r="2.1" fill="#1a3ee6" stroke="#0a1e9a" stroke-width="0.5"/><circle cx="51.7" cy="366.3" r="2.1" fill="#1a3ee6" stroke="#0a1e9a" stroke-width="0.5"/><circle cx="38.5" cy="369.2" r="2.1" fill="#1a3ee6" stroke="#0a1e9a" stroke-width="0.5"/><circle cx="77.1" cy="367.2" r="2.1" fill="#1a3ee6" stroke="#0a1e9a" stroke-width="0.5"/><circle cx="78.2" cy="364.7" r="2.1" fill="#1a3ee6" stroke="#0a1e9a" stroke-width="0.5"/><circle cx="48.2" cy="367.4" r="2.1" fill="#1a3ee6" stroke="#0a1e9a" stroke-width="0.5"/><circle cx="78.8" cy="368.4" r="2.1" fill="#1a3ee6" stroke="#0a1e9a" stroke-width="0.5"/><circle cx="54.6" cy="366.1" r="2.1" fill="#1a3ee6" stroke="#0a1e9a" stroke-width="0.5"/><circle cx="56.5" cy="367.2" r="2.1" fill="#1a3ee6" stroke="#0a1e9a" stroke-width="0.5"/><circle cx="77.6" cy="365.4" r="2.1" fill="#1a3ee6" stroke="#0a1e9a" stroke-width="0.5"/><circle cx="72.2" cy="367.8" r="2.1" fill="#1a3ee6" stroke="#0a1e9a" stroke-width="0.5"/><circle cx="73.1" cy="367.9" r="2.1" fill="#1a3ee6" stroke="#0a1e9a" stroke-width="0.5"/><circle cx="64.0" cy="366.3" r="2.1" fill="#1a3ee6" stroke="#0a1e9a" stroke-width="0.5"/><circle cx="51.8" cy="366.7" r="2.1" fill="#1a3ee6" stroke="#0a1e9a" stroke-width="0.5"/><circle cx="71.4" cy="365.0" r="2.1" fill="#1a3ee6" stroke="#0a1e9a" stroke-width="0.5"/><circle cx="46.6" cy="368.9" r="2.1" fill="#1a3ee6" stroke="#0a1e9a" stroke-width="0.5"/><circle cx="48.8" cy="365.3" r="2.1" fill="#1a3ee6" stroke="#0a1e9a" stroke-width="0.5"/><circle cx="39.7" cy="368.0" r="2.1" fill="#1a3ee6" stroke="#0a1e9a" stroke-width="0.5"/><circle cx="52.1" cy="369.8" r="2.1" fill="#1a3ee6" stroke="#0a1e9a" stroke-width="0.5"/><circle cx="75.7" cy="368.7" r="2.1" fill="#1a3ee6" stroke="#0a1e9a" stroke-width="0.5"/><circle cx="49.5" cy="365.4" r="2.1" fill="#1a3ee6" stroke="#0a1e9a" stroke-width="0.5"/><circle cx="42.4" cy="367.7" r="2.1" fill="#1a3ee6" stroke="#0a1e9a" stroke-width="0.5"/><circle cx="68.3" cy="366.7" r="2.1" fill="#1a3ee6" stroke="#0a1e9a" stroke-width="0.5"/><circle cx="48.2" cy="367.1" r="2.1" fill="#1a3ee6" stroke="#0a1e9a" stroke-width="0.5"/><circle cx="64.5" cy="367.8" r="2.1" fill="#1a3ee6" stroke="#0a1e9a" stroke-width="0.5"/><circle cx="69.9" cy="368.4" r="2.1" fill="#1a3ee6" stroke="#0a1e9a" stroke-width="0.5"/><circle cx="66.4" cy="365.3" r="2.1" fill="#1a3ee6" stroke="#0a1e9a" stroke-width="0.5"/><circle cx="73.9" cy="365.9" r="2.1" fill="#1a3ee6" stroke="#0a1e9a" stroke-width="0.5"/><circle cx="62.3" cy="366.5" r="2.1" fill="#1a3ee6" stroke="#0a1e9a" stroke-width="0.5"/><circle cx="69.5" cy="365.6" r="2.1" fill="#1a3ee6" stroke="#0a1e9a" stroke-width="0.5"/><circle cx="48.8" cy="366.2" r="2.1" fill="#1a3ee6" stroke="#0a1e9a" stroke-width="0.5"/><circle cx="44.8" cy="369.6" r="2.1" fill="#1a3ee6" stroke="#0a1e9a" stroke-width="0.5"/><circle cx="62.8" cy="366.3" r="2.1" fill="#1a3ee6" stroke="#0a1e9a" stroke-width="0.5"/><circle cx="55.1" cy="369.7" r="2.1" fill="#1a3ee6" stroke="#0a1e9a" stroke-width="0.5"/><circle cx="59.8" cy="365.9" r="2.1" fill="#1a3ee6" stroke="#0a1e9a" stroke-width="0.5"/><circle cx="72.5" cy="367.4" r="2.1" fill="#1a3ee6" stroke="#0a1e9a" stroke-width="0.5"/><circle cx="80.2" cy="365.0" r="2.1" fill="#1a3ee6" stroke="#0a1e9a" stroke-width="0.5"/><circle cx="58.4" cy="368.7" r="2.1" fill="#1a3ee6" stroke="#0a1e9a" stroke-width="0.5"/><circle cx="73.9" cy="368.5" r="2.1" fill="#1a3ee6" stroke="#0a1e9a" stroke-width="0.5"/><circle cx="40.0" cy="366.6" r="2.1" fill="#1a3ee6" stroke="#0a1e9a" stroke-width="0.5"/><circle cx="43.3" cy="366.0" r="2.1" fill="#1a3ee6" stroke="#0a1e9a" stroke-width="0.5"/><circle cx="79.5" cy="366.9" r="2.1" fill="#1a3ee6" stroke="#0a1e9a" stroke-width="0.5"/><circle cx="77.6" cy="366.1" r="2.1" fill="#1a3ee6" stroke="#0a1e9a" stroke-width="0.5"/><circle cx="74.9" cy="366.5" r="2.1" fill="#1a3ee6" stroke="#0a1e9a" stroke-width="0.5"/><circle cx="49.3" cy="368.9" r="2.1" fill="#1a3ee6" stroke="#0a1e9a" stroke-width="0.5"/><circle cx="78.3" cy="365.0" r="2.1" fill="#1a3ee6" stroke="#0a1e9a" stroke-width="0.5"/><circle cx="63.5" cy="367.6" r="2.1" fill="#1a3ee6" stroke="#0a1e9a" stroke-width="0.5"/><circle cx="47.5" cy="366.9" r="2.1" fill="#1a3ee6" stroke="#0a1e9a" stroke-width="0.5"/><circle cx="44.3" cy="366.1" r="2.1" fill="#1a3ee6" stroke="#0a1e9a" stroke-width="0.5"/><circle cx="49.1" cy="368.0" r="2.1" fill="#1a3ee6" stroke="#0a1e9a" stroke-width="0.5"/><circle cx="65.9" cy="365.7" r="2.1" fill="#1a3ee6" stroke="#0a1e9a" stroke-width="0.5"/><circle cx="38.8" cy="366.9" r="2.1" fill="#1a3ee6" stroke="#0a1e9a" stroke-width="0.5"/><circle cx="67.0" cy="365.6" r="2.1" fill="#1a3ee6" stroke="#0a1e9a" stroke-width="0.5"/><circle cx="51.5" cy="365.9" r="2.1" fill="#1a3ee6" stroke="#0a1e9a" stroke-width="0.5"/><circle cx="71.9" cy="367.0" r="2.1" fill="#1a3ee6" stroke="#0a1e9a" stroke-width="0.5"/><circle cx="41.0" cy="365.6" r="2.1" fill="#1a3ee6" stroke="#0a1e9a" stroke-width="0.5"/><circle cx="55.0" cy="367.5" r="2.1" fill="#1a3ee6" stroke="#0a1e9a" stroke-width="0.5"/><circle cx="65.3" cy="365.2" r="2.1" fill="#1a3ee6" stroke="#0a1e9a" stroke-width="0.5"/><circle cx="45.2" cy="368.6" r="2.1" fill="#1a3ee6" stroke="#0a1e9a" stroke-width="0.5"/><circle cx="55.6" cy="366.2" r="2.1" fill="#1a3ee6" stroke="#0a1e9a" stroke-width="0.5"/><circle cx="51.3" cy="369.7" r="2.1" fill="#1a3ee6" stroke="#0a1e9a" stroke-width="0.5"/><circle cx="51.5" cy="367.7" r="2.1" fill="#1a3ee6" stroke="#0a1e9a" stroke-width="0.5"/><circle cx="53.4" cy="366.9" r="2.1" fill="#1a3ee6" stroke="#0a1e9a" stroke-width="0.5"/><circle cx="74.9" cy="368.8" r="2.1" fill="#1a3ee6" stroke="#0a1e9a" stroke-width="0.5"/><circle cx="53.7" cy="365.9" r="2.1" fill="#1a3ee6" stroke="#0a1e9a" stroke-width="0.5"/><circle cx="69.1" cy="365.6" r="2.1" fill="#1a3ee6" stroke="#0a1e9a" stroke-width="0.5"/><circle cx="38.5" cy="370.0" r="2.1" fill="#1a3ee6" stroke="#0a1e9a" stroke-width="0.5"/><circle cx="56.2" cy="368.8" r="2.1" fill="#1a3ee6" stroke="#0a1e9a" stroke-width="0.5"/><circle cx="55.5" cy="369.1" r="2.1" fill="#1a3ee6" stroke="#0a1e9a" stroke-width="0.5"/><circle cx="57.8" cy="365.6" r="2.1" fill="#1a3ee6" stroke="#0a1e9a" stroke-width="0.5"/><circle cx="38.9" cy="368.1" r="2.1" fill="#1a3ee6" stroke="#0a1e9a" stroke-width="0.5"/><circle cx="65.4" cy="368.8" r="2.1" fill="#1a3ee6" stroke="#0a1e9a" stroke-width="0.5"/><circle cx="42.1" cy="368.3" r="2.1" fill="#1a3ee6" stroke="#0a1e9a" stroke-width="0.5"/><circle cx="54.0" cy="367.4" r="2.1" fill="#1a3ee6" stroke="#0a1e9a" stroke-width="0.5"/><circle cx="44.5" cy="366.5" r="2.1" fill="#1a3ee6" stroke="#0a1e9a" stroke-width="0.5"/><circle cx="60.3" cy="369.1" r="2.1" fill="#1a3ee6" stroke="#0a1e9a" stroke-width="0.5"/><circle cx="42.9" cy="367.6" r="2.1" fill="#1a3ee6" stroke="#0a1e9a" stroke-width="0.5"/><circle cx="72.3" cy="368.8" r="2.1" fill="#1a3ee6" stroke="#0a1e9a" stroke-width="0.5"/><circle cx="46.6" cy="365.6" r="2.1" fill="#1a3ee6" stroke="#0a1e9a" stroke-width="0.5"/><circle cx="78.2" cy="368.5" r="2.1" fill="#1a3ee6" stroke="#0a1e9a" stroke-width="0.5"/><circle cx="58.7" cy="365.1" r="2.1" fill="#1a3ee6" stroke="#0a1e9a" stroke-width="0.5"/><circle cx="77.5" cy="366.2" r="2.1" fill="#1a3ee6" stroke="#0a1e9a" stroke-width="0.5"/><circle cx="76.5" cy="367.2" r="2.1" fill="#1a3ee6" stroke="#0a1e9a" stroke-width="0.5"/><circle cx="73.2" cy="365.3" r="2.1" fill="#1a3ee6" stroke="#0a1e9a" stroke-width="0.5"/><circle cx="71.5" cy="365.6" r="2.1" fill="#1a3ee6" stroke="#0a1e9a" stroke-width="0.5"/><circle cx="55.4" cy="369.0" r="2.1" fill="#1a3ee6" stroke="#0a1e9a" stroke-width="0.5"/><circle cx="73.4" cy="365.4" r="2.1" fill="#1a3ee6" stroke="#0a1e9a" stroke-width="0.5"/><circle cx="47.5" cy="367.0" r="2.1" fill="#1a3ee6" stroke="#0a1e9a" stroke-width="0.5"/><circle cx="60.2" cy="366.6" r="2.1" fill="#1a3ee6" stroke="#0a1e9a" stroke-width="0.5"/><circle cx="43.5" cy="366.3" r="2.1" fill="#1a3ee6" stroke="#0a1e9a" stroke-width="0.5"/><circle cx="69.0" cy="368.6" r="2.1" fill="#1a3ee6" stroke="#0a1e9a" stroke-width="0.5"/><circle cx="40.0" cy="368.1" r="2.1" fill="#1a3ee6" stroke="#0a1e9a" stroke-width="0.5"/><circle cx="70.3" cy="364.9" r="2.1" fill="#1a3ee6" stroke="#0a1e9a" stroke-width="0.5"/><circle cx="73.8" cy="365.2" r="2.1" fill="#1a3ee6" stroke="#0a1e9a" stroke-width="0.5"/><circle cx="63.7" cy="367.3" r="2.1" fill="#1a3ee6" stroke="#0a1e9a" stroke-width="0.5"/><circle cx="64.8" cy="366.1" r="2.1" fill="#1a3ee6" stroke="#0a1e9a" stroke-width="0.5"/><circle cx="56.1" cy="367.7" r="2.1" fill="#1a3ee6" stroke="#0a1e9a" stroke-width="0.5"/><circle cx="56.3" cy="368.0" r="2.1" fill="#1a3ee6" stroke="#0a1e9a" stroke-width="0.5"/><circle cx="57.2" cy="366.9" r="2.1" fill="#1a3ee6" stroke="#0a1e9a" stroke-width="0.5"/><circle cx="39.3" cy="368.4" r="2.1" fill="#1a3ee6" stroke="#0a1e9a" stroke-width="0.5"/><circle cx="59.0" cy="365.9" r="2.1" fill="#1a3ee6" stroke="#0a1e9a" stroke-width="0.5"/><circle cx="70.6" cy="368.0" r="2.1" fill="#1a3ee6" stroke="#0a1e9a" stroke-width="0.5"/><circle cx="57.7" cy="365.7" r="2.1" fill="#1a3ee6" stroke="#0a1e9a" stroke-width="0.5"/><circle cx="58.3" cy="365.4" r="2.1" fill="#1a3ee6" stroke="#0a1e9a" stroke-width="0.5"/><circle cx="43.7" cy="367.3" r="2.1" fill="#1a3ee6" stroke="#0a1e9a" stroke-width="0.5"/><circle cx="42.2" cy="367.4" r="2.1" fill="#1a3ee6" stroke="#0a1e9a" stroke-width="0.5"/><circle cx="59.9" cy="365.0" r="2.1" fill="#1a3ee6" stroke="#0a1e9a" stroke-width="0.5"/><circle cx="65.2" cy="365.1" r="2.1" fill="#1a3ee6" stroke="#0a1e9a" stroke-width="0.5"/><circle cx="69.3" cy="368.1" r="2.1" fill="#1a3ee6" stroke="#0a1e9a" stroke-width="0.5"/><circle cx="59.9" cy="365.1" r="2.1" fill="#1a3ee6" stroke="#0a1e9a" stroke-width="0.5"/><circle cx="59.6" cy="366.6" r="2.1" fill="#1a3ee6" stroke="#0a1e9a" stroke-width="0.5"/><circle cx="78.5" cy="365.2" r="2.1" fill="#1a3ee6" stroke="#0a1e9a" stroke-width="0.5"/><circle cx="74.6" cy="368.8" r="2.1" fill="#1a3ee6" stroke="#0a1e9a" stroke-width="0.5"/><circle cx="69.3" cy="368.2" r="2.1" fill="#1a3ee6" stroke="#0a1e9a" stroke-width="0.5"/><circle cx="46.5" cy="370.0" r="2.1" fill="#1a3ee6" stroke="#0a1e9a" stroke-width="0.5"/><circle cx="59.1" cy="369.3" r="2.1" fill="#1a3ee6" stroke="#0a1e9a" stroke-width="0.5"/><circle cx="77.0" cy="365.3" r="2.1" fill="#1a3ee6" stroke="#0a1e9a" stroke-width="0.5"/><circle cx="71.6" cy="368.6" r="2.1" fill="#1a3ee6" stroke="#0a1e9a" stroke-width="0.5"/><circle cx="41.1" cy="366.9" r="2.1" fill="#1a3ee6" stroke="#0a1e9a" stroke-width="0.5"/><circle cx="70.3" cy="365.4" r="2.1" fill="#1a3ee6" stroke="#0a1e9a" stroke-width="0.5"/><circle cx="76.2" cy="365.8" r="2.1" fill="#1a3ee6" stroke="#0a1e9a" stroke-width="0.5"/><circle cx="72.8" cy="365.3" r="2.1" fill="#1a3ee6" stroke="#0a1e9a" stroke-width="0.5"/><circle cx="59.5" cy="369.1" r="2.1" fill="#1a3ee6" stroke="#0a1e9a" stroke-width="0.5"/><circle cx="47.1" cy="366.3" r="2.1" fill="#1a3ee6" stroke="#0a1e9a" stroke-width="0.5"/><circle cx="59.7" cy="366.3" r="2.1" fill="#1a3ee6" stroke="#0a1e9a" stroke-width="0.5"/><circle cx="39.9" cy="366.0" r="2.1" fill="#1a3ee6" stroke="#0a1e9a" stroke-width="0.5"/><circle cx="45.1" cy="369.9" r="2.1" fill="#1a3ee6" stroke="#0a1e9a" stroke-width="0.5"/><circle cx="67.1" cy="368.7" r="2.1" fill="#1a3ee6" stroke="#0a1e9a" stroke-width="0.5"/><circle cx="45.4" cy="369.1" r="2.1" fill="#1a3ee6" stroke="#0a1e9a" stroke-width="0.5"/><circle cx="43.2" cy="367.8" r="2.1" fill="#1a3ee6" stroke="#0a1e9a" stroke-width="0.5"/><circle cx="65.2" cy="366.4" r="2.1" fill="#1a3ee6" stroke="#0a1e9a" stroke-width="0.5"/>
</g>
<path d="M103.4,384.4H146.4" stroke="#111" stroke-width="1.2"/>
<path d="M103.4,365.1H146.4" stroke="#6a6a6a" stroke-width="1.6"/>
<path d="M103.4,365.1H146.4" stroke="#f04848" stroke-width="1.6" stroke-dasharray="9 9"/>
<rect x="37.3" y="279.1" width="109.10000000000001" height="191.09999999999997" fill="none" stroke="#333" stroke-width="1.2"/>
<path d="M81.6,279.1V470.2M103.4,279.1V470.2" stroke="#222" stroke-width="1.2"/>
<path d="M61.2,296.5H76" stroke="#000" stroke-width="1"/><path d="M81.3,296.5L74.5,293.0L74.5,300.0Z" fill="#000"/>
<path d="M111,296.5H126" stroke="#000" stroke-width="1"/><path d="M104.4,296.5L111.2,293.0L111.2,300.0Z" fill="#000"/>
<text x="114.2" y="292" font-size="10.5" font-family="Liberation Sans, sans-serif" fill="#111">1 nm</text>
<text x="54.5" y="337.8" font-size="10" font-family="Liberation Sans, sans-serif" fill="#111">Oxide trap</text>
<path d="M64.2,352 C65,347 69,345 72.5,344.5" fill="none" stroke="#000" stroke-width="0.7"/>
<path d="M76.3,340.2 L71.6,342.6 L74.6,346 Z" fill="#000"/>
<path d="M37.3,292.8h3" stroke="#222" stroke-width="1"/>
<text x="33.2" y="296.9" font-size="12" text-anchor="end" font-family="Liberation Sans, sans-serif" fill="#222">6</text>
<path d="M37.3,320.2h3" stroke="#222" stroke-width="1"/>
<text x="33.2" y="324.3" font-size="12" text-anchor="end" font-family="Liberation Sans, sans-serif" fill="#222">4</text>
<path d="M37.3,347.6h3" stroke="#222" stroke-width="1"/>
<text x="33.2" y="351.7" font-size="12" text-anchor="end" font-family="Liberation Sans, sans-serif" fill="#222">2</text>
<path d="M37.3,375.0h3" stroke="#222" stroke-width="1"/>
<text x="33.2" y="379.1" font-size="12" text-anchor="end" font-family="Liberation Sans, sans-serif" fill="#222">0</text>
<path d="M37.3,402.4h3" stroke="#222" stroke-width="1"/>
<text x="33.2" y="406.5" font-size="12" text-anchor="end" font-family="Liberation Sans, sans-serif" fill="#222">-2</text>
<path d="M37.3,429.8h3" stroke="#222" stroke-width="1"/>
<text x="33.2" y="433.9" font-size="12" text-anchor="end" font-family="Liberation Sans, sans-serif" fill="#222">-4</text>
<path d="M37.3,457.2h3" stroke="#222" stroke-width="1"/>
<text x="33.2" y="461.3" font-size="12" text-anchor="end" font-family="Liberation Sans, sans-serif" fill="#222">-6</text>
<path d="M38.9,470.2v-3" stroke="#222" stroke-width="1"/>
<text x="38.9" y="484" font-size="12" text-anchor="middle" font-family="Liberation Sans, sans-serif" fill="#222">-3</text>
<path d="M60.4,470.2v-3" stroke="#222" stroke-width="1"/>
<text x="60.4" y="484" font-size="12" text-anchor="middle" font-family="Liberation Sans, sans-serif" fill="#222">-2</text>
<path d="M81.9,470.2v-3" stroke="#222" stroke-width="1"/>
<text x="81.9" y="484" font-size="12" text-anchor="middle" font-family="Liberation Sans, sans-serif" fill="#222">-1</text>
<path d="M103.4,470.2v-3" stroke="#222" stroke-width="1"/>
<text x="103.4" y="484" font-size="12" text-anchor="middle" font-family="Liberation Sans, sans-serif" fill="#222">0</text>
<path d="M124.9,470.2v-3" stroke="#222" stroke-width="1"/>
<text x="124.9" y="484" font-size="12" text-anchor="middle" font-family="Liberation Sans, sans-serif" fill="#222">1</text>
<text x="146.4" y="484" font-size="12" text-anchor="middle" font-family="Liberation Sans, sans-serif" fill="#222">2</text>
<text x="91.4" y="502" font-size="11.5" text-anchor="middle" font-family="Liberation Sans, sans-serif" fill="#222">Distance (nm)</text>
<text transform="translate(12.6,375.2) rotate(-90)" font-size="11.5" text-anchor="middle" font-family="Liberation Sans, sans-serif" fill="#222">Electronic Energy (eV)</text>
<text x="43" y="462.6" font-size="9.5" font-family="Liberation Sans, sans-serif" fill="#111"><tspan font-style="italic">V</tspan><tspan font-size="7" dy="2">G</tspan><tspan dy="-2">= 10V</tspan></text>
<circle cx="108.9" cy="453.4" r="2.3" fill="#fff" stroke="#444" stroke-width="0.6"/>
<circle cx="108.9" cy="463.6" r="2.4" fill="#1a3ee6"/>
<text x="113.5" y="456.0" font-size="8.5" font-family="Liberation Sans, sans-serif" fill="#111">neutral</text>
<text x="113.5" y="465.9" font-size="8.5" font-family="Liberation Sans, sans-serif" fill="#111">charged</text>
<text x="12" y="290.7" font-size="22" font-weight="bold" font-family="Liberation Sans, sans-serif" fill="#000">c</text>
<rect x="203.1" y="279.1" width="46.80000000000001" height="191.09999999999997" fill="#e4e4e4"/>
<rect x="203.1" y="279.1" width="46.80000000000001" height="46.19999999999999" fill="#9c9c9c"/>
<rect x="203.1" y="447.2" width="46.80000000000001" height="23.0" fill="#a2a2a2"/>
<path d="M203.1,325.3H249.9M203.1,447.2H249.9" stroke="#555" stroke-width="1"/>
<path d="M249.9,323.4L350.8,319.5L350.8,449.6L249.9,453.4Z" fill="#c9d5fb"/>
<path d="M249.9,323.4L350.8,319.5M350.8,449.6L249.9,453.4" stroke="#2a62e8" stroke-width="1.3" fill="none"/>
<clipPath id="cc2"><rect x="203.1" y="300" width="46.80000000000001" height="100"/></clipPath><g clip-path="url(#cc2)">
<circle cx="243.2" cy="358.6" r="1.9" fill="#ffffff" stroke="#5a5a5a" stroke-width="0.45"/><circle cx="230.1" cy="359.8" r="1.9" fill="#ffffff" stroke="#5a5a5a" stroke-width="0.45"/><circle cx="208.8" cy="360.3" r="1.9" fill="#ffffff" stroke="#5a5a5a" stroke-width="0.45"/><circle cx="232.3" cy="358.3" r="1.9" fill="#ffffff" stroke="#5a5a5a" stroke-width="0.45"/><circle cx="239.8" cy="357.7" r="1.9" fill="#ffffff" stroke="#5a5a5a" stroke-width="0.45"/><circle cx="248.5" cy="358.6" r="1.9" fill="#ffffff" stroke="#5a5a5a" stroke-width="0.45"/><circle cx="220.2" cy="359.6" r="1.9" fill="#ffffff" stroke="#5a5a5a" stroke-width="0.45"/><circle cx="223.9" cy="357.8" r="1.9" fill="#ffffff" stroke="#5a5a5a" stroke-width="0.45"/><circle cx="237.4" cy="357.1" r="1.9" fill="#ffffff" stroke="#5a5a5a" stroke-width="0.45"/><circle cx="240.8" cy="357.7" r="1.9" fill="#ffffff" stroke="#5a5a5a" stroke-width="0.45"/><circle cx="232.7" cy="360.1" r="1.9" fill="#ffffff" stroke="#5a5a5a" stroke-width="0.45"/><circle cx="230.3" cy="359.1" r="1.9" fill="#ffffff" stroke="#5a5a5a" stroke-width="0.45"/><circle cx="218.1" cy="357.5" r="1.9" fill="#ffffff" stroke="#5a5a5a" stroke-width="0.45"/><circle cx="205.6" cy="358.2" r="1.9" fill="#ffffff" stroke="#5a5a5a" stroke-width="0.45"/><circle cx="231.7" cy="358.4" r="1.9" fill="#ffffff" stroke="#5a5a5a" stroke-width="0.45"/><circle cx="227.1" cy="359.9" r="1.9" fill="#ffffff" stroke="#5a5a5a" stroke-width="0.45"/><circle cx="210.0" cy="358.3" r="1.9" fill="#ffffff" stroke="#5a5a5a" stroke-width="0.45"/><circle cx="233.4" cy="357.1" r="1.9" fill="#ffffff" stroke="#5a5a5a" stroke-width="0.45"/><circle cx="204.2" cy="358.8" r="1.9" fill="#ffffff" stroke="#5a5a5a" stroke-width="0.45"/><circle cx="208.9" cy="358.7" r="1.9" fill="#ffffff" stroke="#5a5a5a" stroke-width="0.45"/><circle cx="214.1" cy="359.2" r="1.9" fill="#ffffff" stroke="#5a5a5a" stroke-width="0.45"/><circle cx="230.5" cy="357.8" r="1.9" fill="#ffffff" stroke="#5a5a5a" stroke-width="0.45"/><circle cx="232.1" cy="358.5" r="1.9" fill="#ffffff" stroke="#5a5a5a" stroke-width="0.45"/><circle cx="210.1" cy="360.2" r="1.9" fill="#ffffff" stroke="#5a5a5a" stroke-width="0.45"/><circle cx="215.0" cy="358.0" r="1.9" fill="#ffffff" stroke="#5a5a5a" stroke-width="0.45"/><circle cx="208.4" cy="359.4" r="1.9" fill="#ffffff" stroke="#5a5a5a" stroke-width="0.45"/><circle cx="243.1" cy="359.3" r="1.9" fill="#ffffff" stroke="#5a5a5a" stroke-width="0.45"/><circle cx="222.1" cy="358.1" r="1.9" fill="#ffffff" stroke="#5a5a5a" stroke-width="0.45"/><circle cx="204.6" cy="359.5" r="1.9" fill="#ffffff" stroke="#5a5a5a" stroke-width="0.45"/><circle cx="229.3" cy="358.2" r="1.9" fill="#ffffff" stroke="#5a5a5a" stroke-width="0.45"/><circle cx="233.0" cy="358.4" r="1.9" fill="#ffffff" stroke="#5a5a5a" stroke-width="0.45"/><circle cx="246.1" cy="359.1" r="1.9" fill="#ffffff" stroke="#5a5a5a" stroke-width="0.45"/><circle cx="215.2" cy="360.0" r="1.9" fill="#ffffff" stroke="#5a5a5a" stroke-width="0.45"/><circle cx="206.1" cy="359.2" r="1.9" fill="#ffffff" stroke="#5a5a5a" stroke-width="0.45"/><circle cx="222.3" cy="358.1" r="1.9" fill="#ffffff" stroke="#5a5a5a" stroke-width="0.45"/><circle cx="206.7" cy="359.8" r="1.9" fill="#ffffff" stroke="#5a5a5a" stroke-width="0.45"/><circle cx="204.7" cy="359.3" r="1.9" fill="#ffffff" stroke="#5a5a5a" stroke-width="0.45"/><circle cx="246.3" cy="357.2" r="1.9" fill="#ffffff" stroke="#5a5a5a" stroke-width="0.45"/><circle cx="213.0" cy="359.3" r="1.9" fill="#ffffff" stroke="#5a5a5a" stroke-width="0.45"/><circle cx="226.8" cy="359.1" r="1.9" fill="#ffffff" stroke="#5a5a5a" stroke-width="0.45"/><circle cx="240.5" cy="357.4" r="1.9" fill="#ffffff" stroke="#5a5a5a" stroke-width="0.45"/><circle cx="218.0" cy="358.3" r="1.9" fill="#ffffff" stroke="#5a5a5a" stroke-width="0.45"/><circle cx="206.3" cy="360.1" r="1.9" fill="#ffffff" stroke="#5a5a5a" stroke-width="0.45"/><circle cx="239.2" cy="359.2" r="1.9" fill="#ffffff" stroke="#5a5a5a" stroke-width="0.45"/><circle cx="204.4" cy="360.0" r="1.9" fill="#ffffff" stroke="#5a5a5a" stroke-width="0.45"/><circle cx="237.5" cy="358.4" r="1.9" fill="#ffffff" stroke="#5a5a5a" stroke-width="0.45"/><circle cx="237.3" cy="358.4" r="1.9" fill="#ffffff" stroke="#5a5a5a" stroke-width="0.45"/><circle cx="214.2" cy="357.9" r="1.9" fill="#ffffff" stroke="#5a5a5a" stroke-width="0.45"/><circle cx="214.5" cy="357.7" r="1.9" fill="#ffffff" stroke="#5a5a5a" stroke-width="0.45"/><circle cx="219.1" cy="359.6" r="1.9" fill="#ffffff" stroke="#5a5a5a" stroke-width="0.45"/><circle cx="235.2" cy="359.6" r="1.9" fill="#ffffff" stroke="#5a5a5a" stroke-width="0.45"/><circle cx="236.0" cy="357.8" r="1.9" fill="#ffffff" stroke="#5a5a5a" stroke-width="0.45"/><circle cx="228.9" cy="358.5" r="1.9" fill="#ffffff" stroke="#5a5a5a" stroke-width="0.45"/><circle cx="239.4" cy="358.6" r="1.9" fill="#ffffff" stroke="#5a5a5a" stroke-width="0.45"/><circle cx="216.0" cy="359.3" r="1.9" fill="#ffffff" stroke="#5a5a5a" stroke-width="0.45"/><circle cx="247.3" cy="357.4" r="1.9" fill="#ffffff" stroke="#5a5a5a" stroke-width="0.45"/><circle cx="243.5" cy="356.8" r="1.9" fill="#ffffff" stroke="#5a5a5a" stroke-width="0.45"/><circle cx="215.8" cy="358.2" r="1.9" fill="#ffffff" stroke="#5a5a5a" stroke-width="0.45"/><circle cx="237.4" cy="359.9" r="1.9" fill="#ffffff" stroke="#5a5a5a" stroke-width="0.45"/><circle cx="237.5" cy="358.0" r="1.9" fill="#ffffff" stroke="#5a5a5a" stroke-width="0.45"/><circle cx="243.5" cy="357.8" r="1.9" fill="#ffffff" stroke="#5a5a5a" stroke-width="0.45"/><circle cx="214.8" cy="360.0" r="1.9" fill="#ffffff" stroke="#5a5a5a" stroke-width="0.45"/><circle cx="232.4" cy="359.2" r="1.9" fill="#ffffff" stroke="#5a5a5a" stroke-width="0.45"/><circle cx="233.9" cy="360.1" r="1.9" fill="#ffffff" stroke="#5a5a5a" stroke-width="0.45"/><circle cx="225.1" cy="359.7" r="1.9" fill="#ffffff" stroke="#5a5a5a" stroke-width="0.45"/><circle cx="235.4" cy="359.7" r="1.9" fill="#ffffff" stroke="#5a5a5a" stroke-width="0.45"/><circle cx="223.7" cy="359.4" r="1.9" fill="#ffffff" stroke="#5a5a5a" stroke-width="0.45"/><circle cx="229.7" cy="358.1" r="1.9" fill="#ffffff" stroke="#5a5a5a" stroke-width="0.45"/><circle cx="213.6" cy="359.3" r="1.9" fill="#ffffff" stroke="#5a5a5a" stroke-width="0.45"/><circle cx="207.6" cy="360.1" r="1.9" fill="#ffffff" stroke="#5a5a5a" stroke-width="0.45"/><circle cx="210.6" cy="357.8" r="1.9" fill="#ffffff" stroke="#5a5a5a" stroke-width="0.45"/><circle cx="208.9" cy="360.2" r="1.9" fill="#ffffff" stroke="#5a5a5a" stroke-width="0.45"/><circle cx="219.5" cy="357.9" r="1.9" fill="#ffffff" stroke="#5a5a5a" stroke-width="0.45"/><circle cx="205.4" cy="358.0" r="1.9" fill="#ffffff" stroke="#5a5a5a" stroke-width="0.45"/><circle cx="235.1" cy="359.0" r="1.9" fill="#ffffff" stroke="#5a5a5a" stroke-width="0.45"/><circle cx="235.3" cy="359.3" r="1.9" fill="#ffffff" stroke="#5a5a5a" stroke-width="0.45"/><circle cx="207.0" cy="359.3" r="1.9" fill="#ffffff" stroke="#5a5a5a" stroke-width="0.45"/><circle cx="220.4" cy="359.7" r="1.9" fill="#ffffff" stroke="#5a5a5a" stroke-width="0.45"/><circle cx="240.8" cy="359.7" r="1.9" fill="#ffffff" stroke="#5a5a5a" stroke-width="0.45"/><circle cx="207.1" cy="360.0" r="1.9" fill="#ffffff" stroke="#5a5a5a" stroke-width="0.45"/><circle cx="245.1" cy="359.8" r="1.9" fill="#ffffff" stroke="#5a5a5a" stroke-width="0.45"/><circle cx="208.9" cy="358.3" r="1.9" fill="#ffffff" stroke="#5a5a5a" stroke-width="0.45"/><circle cx="209.1" cy="357.9" r="1.9" fill="#ffffff" stroke="#5a5a5a" stroke-width="0.45"/><circle cx="242.1" cy="359.4" r="1.9" fill="#ffffff" stroke="#5a5a5a" stroke-width="0.45"/><circle cx="232.5" cy="359.6" r="1.9" fill="#ffffff" stroke="#5a5a5a" stroke-width="0.45"/><circle cx="232.4" cy="358.0" r="1.9" fill="#ffffff" stroke="#5a5a5a" stroke-width="0.45"/><circle cx="208.6" cy="358.0" r="1.9" fill="#ffffff" stroke="#5a5a5a" stroke-width="0.45"/><circle cx="238.0" cy="357.6" r="1.9" fill="#ffffff" stroke="#5a5a5a" stroke-width="0.45"/><circle cx="218.4" cy="358.7" r="1.9" fill="#ffffff" stroke="#5a5a5a" stroke-width="0.45"/><circle cx="205.0" cy="358.5" r="1.9" fill="#ffffff" stroke="#5a5a5a" stroke-width="0.45"/><circle cx="216.8" cy="359.5" r="1.9" fill="#ffffff" stroke="#5a5a5a" stroke-width="0.45"/><circle cx="220.6" cy="358.3" r="1.9" fill="#ffffff" stroke="#5a5a5a" stroke-width="0.45"/><circle cx="247.3" cy="358.3" r="1.9" fill="#ffffff" stroke="#5a5a5a" stroke-width="0.45"/><circle cx="242.2" cy="358.8" r="1.9" fill="#ffffff" stroke="#5a5a5a" stroke-width="0.45"/><circle cx="205.5" cy="358.9" r="1.9" fill="#ffffff" stroke="#5a5a5a" stroke-width="0.45"/><circle cx="223.7" cy="359.6" r="1.9" fill="#ffffff" stroke="#5a5a5a" stroke-width="0.45"/><circle cx="219.6" cy="359.4" r="1.9" fill="#ffffff" stroke="#5a5a5a" stroke-width="0.45"/><circle cx="228.2" cy="357.9" r="1.9" fill="#ffffff" stroke="#5a5a5a" stroke-width="0.45"/><circle cx="242.7" cy="357.1" r="1.9" fill="#ffffff" stroke="#5a5a5a" stroke-width="0.45"/><circle cx="240.8" cy="357.4" r="1.9" fill="#ffffff" stroke="#5a5a5a" stroke-width="0.45"/><circle cx="204.2" cy="358.4" r="1.9" fill="#ffffff" stroke="#5a5a5a" stroke-width="0.45"/><circle cx="238.2" cy="360.0" r="1.9" fill="#ffffff" stroke="#5a5a5a" stroke-width="0.45"/><circle cx="204.3" cy="359.1" r="1.9" fill="#ffffff" stroke="#5a5a5a" stroke-width="0.45"/><circle cx="226.1" cy="359.6" r="1.9" fill="#ffffff" stroke="#5a5a5a" stroke-width="0.45"/><circle cx="212.4" cy="359.0" r="1.9" fill="#ffffff" stroke="#5a5a5a" stroke-width="0.45"/><circle cx="219.7" cy="359.8" r="1.9" fill="#ffffff" stroke="#5a5a5a" stroke-width="0.45"/><circle cx="215.8" cy="360.1" r="1.9" fill="#ffffff" stroke="#5a5a5a" stroke-width="0.45"/><circle cx="216.8" cy="358.1" r="1.9" fill="#ffffff" stroke="#5a5a5a" stroke-width="0.45"/><circle cx="235.4" cy="358.6" r="1.9" fill="#ffffff" stroke="#5a5a5a" stroke-width="0.45"/><circle cx="209.0" cy="359.4" r="1.9" fill="#ffffff" stroke="#5a5a5a" stroke-width="0.45"/>
<circle cx="207.7" cy="371.4" r="2.1" fill="#1a3ee6" stroke="#0a1e9a" stroke-width="0.5"/><circle cx="235.3" cy="371.0" r="2.1" fill="#1a3ee6" stroke="#0a1e9a" stroke-width="0.5"/><circle cx="232.2" cy="367.1" r="2.1" fill="#1a3ee6" stroke="#0a1e9a" stroke-width="0.5"/><circle cx="222.1" cy="367.5" r="2.1" fill="#1a3ee6" stroke="#0a1e9a" stroke-width="0.5"/><circle cx="244.0" cy="364.6" r="2.1" fill="#1a3ee6" stroke="#0a1e9a" stroke-width="0.5"/><circle cx="243.9" cy="364.0" r="2.1" fill="#1a3ee6" stroke="#0a1e9a" stroke-width="0.5"/><circle cx="213.3" cy="366.4" r="2.1" fill="#1a3ee6" stroke="#0a1e9a" stroke-width="0.5"/><circle cx="244.5" cy="368.3" r="2.1" fill="#1a3ee6" stroke="#0a1e9a" stroke-width="0.5"/><circle cx="221.1" cy="372.1" r="2.1" fill="#1a3ee6" stroke="#0a1e9a" stroke-width="0.5"/><circle cx="214.6" cy="368.2" r="2.1" fill="#1a3ee6" stroke="#0a1e9a" stroke-width="0.5"/><circle cx="227.9" cy="370.8" r="2.1" fill="#1a3ee6" stroke="#0a1e9a" stroke-width="0.5"/><circle cx="237.8" cy="369.7" r="2.1" fill="#1a3ee6" stroke="#0a1e9a" stroke-width="0.5"/><circle cx="219.7" cy="366.9" r="2.1" fill="#1a3ee6" stroke="#0a1e9a" stroke-width="0.5"/><circle cx="211.1" cy="371.8" r="2.1" fill="#1a3ee6" stroke="#0a1e9a" stroke-width="0.5"/><circle cx="233.8" cy="370.6" r="2.1" fill="#1a3ee6" stroke="#0a1e9a" stroke-width="0.5"/><circle cx="211.7" cy="368.1" r="2.1" fill="#1a3ee6" stroke="#0a1e9a" stroke-width="0.5"/><circle cx="238.7" cy="369.1" r="2.1" fill="#1a3ee6" stroke="#0a1e9a" stroke-width="0.5"/><circle cx="209.7" cy="368.3" r="2.1" fill="#1a3ee6" stroke="#0a1e9a" stroke-width="0.5"/><circle cx="243.8" cy="365.9" r="2.1" fill="#1a3ee6" stroke="#0a1e9a" stroke-width="0.5"/><circle cx="212.7" cy="366.8" r="2.1" fill="#1a3ee6" stroke="#0a1e9a" stroke-width="0.5"/><circle cx="235.6" cy="371.5" r="2.1" fill="#1a3ee6" stroke="#0a1e9a" stroke-width="0.5"/><circle cx="211.0" cy="365.4" r="2.1" fill="#1a3ee6" stroke="#0a1e9a" stroke-width="0.5"/><circle cx="215.2" cy="367.0" r="2.1" fill="#1a3ee6" stroke="#0a1e9a" stroke-width="0.5"/><circle cx="227.5" cy="365.4" r="2.1" fill="#1a3ee6" stroke="#0a1e9a" stroke-width="0.5"/><circle cx="218.8" cy="365.7" r="2.1" fill="#1a3ee6" stroke="#0a1e9a" stroke-width="0.5"/><circle cx="247.8" cy="370.3" r="2.1" fill="#1a3ee6" stroke="#0a1e9a" stroke-width="0.5"/><circle cx="208.7" cy="373.0" r="2.1" fill="#1a3ee6" stroke="#0a1e9a" stroke-width="0.5"/><circle cx="208.7" cy="367.6" r="2.1" fill="#1a3ee6" stroke="#0a1e9a" stroke-width="0.5"/><circle cx="248.2" cy="370.9" r="2.1" fill="#1a3ee6" stroke="#0a1e9a" stroke-width="0.5"/><circle cx="237.0" cy="367.8" r="2.1" fill="#1a3ee6" stroke="#0a1e9a" stroke-width="0.5"/><circle cx="212.9" cy="369.9" r="2.1" fill="#1a3ee6" stroke="#0a1e9a" stroke-width="0.5"/><circle cx="208.9" cy="365.9" r="2.1" fill="#1a3ee6" stroke="#0a1e9a" stroke-width="0.5"/><circle cx="221.5" cy="364.2" r="2.1" fill="#1a3ee6" stroke="#0a1e9a" stroke-width="0.5"/><circle cx="222.0" cy="371.2" r="2.1" fill="#1a3ee6" stroke="#0a1e9a" stroke-width="0.5"/><circle cx="235.2" cy="368.4" r="2.1" fill="#1a3ee6" stroke="#0a1e9a" stroke-width="0.5"/><circle cx="232.4" cy="368.1" r="2.1" fill="#1a3ee6" stroke="#0a1e9a" stroke-width="0.5"/><circle cx="210.5" cy="369.6" r="2.1" fill="#1a3ee6" stroke="#0a1e9a" stroke-width="0.5"/><circle cx="222.2" cy="370.7" r="2.1" fill="#1a3ee6" stroke="#0a1e9a" stroke-width="0.5"/><circle cx="244.8" cy="367.7" r="2.1" fill="#1a3ee6" stroke="#0a1e9a" stroke-width="0.5"/><circle cx="229.8" cy="370.7" r="2.1" fill="#1a3ee6" stroke="#0a1e9a" stroke-width="0.5"/><circle cx="223.0" cy="366.0" r="2.1" fill="#1a3ee6" stroke="#0a1e9a" stroke-width="0.5"/><circle cx="236.5" cy="371.8" r="2.1" fill="#1a3ee6" stroke="#0a1e9a" stroke-width="0.5"/><circle cx="238.8" cy="370.2" r="2.1" fill="#1a3ee6" stroke="#0a1e9a" stroke-width="0.5"/><circle cx="242.3" cy="369.9" r="2.1" fill="#1a3ee6" stroke="#0a1e9a" stroke-width="0.5"/><circle cx="232.8" cy="368.0" r="2.1" fill="#1a3ee6" stroke="#0a1e9a" stroke-width="0.5"/><circle cx="218.1" cy="369.7" r="2.1" fill="#1a3ee6" stroke="#0a1e9a" stroke-width="0.5"/><circle cx="208.5" cy="367.9" r="2.1" fill="#1a3ee6" stroke="#0a1e9a" stroke-width="0.5"/><circle cx="239.2" cy="370.3" r="2.1" fill="#1a3ee6" stroke="#0a1e9a" stroke-width="0.5"/><circle cx="232.3" cy="366.1" r="2.1" fill="#1a3ee6" stroke="#0a1e9a" stroke-width="0.5"/><circle cx="223.1" cy="368.1" r="2.1" fill="#1a3ee6" stroke="#0a1e9a" stroke-width="0.5"/><circle cx="231.9" cy="367.6" r="2.1" fill="#1a3ee6" stroke="#0a1e9a" stroke-width="0.5"/><circle cx="234.4" cy="372.3" r="2.1" fill="#1a3ee6" stroke="#0a1e9a" stroke-width="0.5"/><circle cx="212.3" cy="370.1" r="2.1" fill="#1a3ee6" stroke="#0a1e9a" stroke-width="0.5"/><circle cx="239.0" cy="367.3" r="2.1" fill="#1a3ee6" stroke="#0a1e9a" stroke-width="0.5"/><circle cx="226.0" cy="372.8" r="2.1" fill="#1a3ee6" stroke="#0a1e9a" stroke-width="0.5"/><circle cx="205.8" cy="369.1" r="2.1" fill="#1a3ee6" stroke="#0a1e9a" stroke-width="0.5"/><circle cx="211.3" cy="371.3" r="2.1" fill="#1a3ee6" stroke="#0a1e9a" stroke-width="0.5"/><circle cx="246.2" cy="368.4" r="2.1" fill="#1a3ee6" stroke="#0a1e9a" stroke-width="0.5"/><circle cx="208.6" cy="369.4" r="2.1" fill="#1a3ee6" stroke="#0a1e9a" stroke-width="0.5"/><circle cx="228.3" cy="370.4" r="2.1" fill="#1a3ee6" stroke="#0a1e9a" stroke-width="0.5"/><circle cx="227.0" cy="369.7" r="2.1" fill="#1a3ee6" stroke="#0a1e9a" stroke-width="0.5"/><circle cx="241.2" cy="368.5" r="2.1" fill="#1a3ee6" stroke="#0a1e9a" stroke-width="0.5"/><circle cx="222.5" cy="372.6" r="2.1" fill="#1a3ee6" stroke="#0a1e9a" stroke-width="0.5"/><circle cx="213.5" cy="370.3" r="2.1" fill="#1a3ee6" stroke="#0a1e9a" stroke-width="0.5"/><circle cx="221.7" cy="370.9" r="2.1" fill="#1a3ee6" stroke="#0a1e9a" stroke-width="0.5"/><circle cx="209.6" cy="373.2" r="2.1" fill="#1a3ee6" stroke="#0a1e9a" stroke-width="0.5"/><circle cx="220.0" cy="364.4" r="2.1" fill="#1a3ee6" stroke="#0a1e9a" stroke-width="0.5"/><circle cx="216.4" cy="367.6" r="2.1" fill="#1a3ee6" stroke="#0a1e9a" stroke-width="0.5"/><circle cx="204.7" cy="367.9" r="2.1" fill="#1a3ee6" stroke="#0a1e9a" stroke-width="0.5"/><circle cx="222.9" cy="370.3" r="2.1" fill="#1a3ee6" stroke="#0a1e9a" stroke-width="0.5"/><circle cx="219.9" cy="366.4" r="2.1" fill="#1a3ee6" stroke="#0a1e9a" stroke-width="0.5"/><circle cx="214.2" cy="370.8" r="2.1" fill="#1a3ee6" stroke="#0a1e9a" stroke-width="0.5"/><circle cx="246.2" cy="368.5" r="2.1" fill="#1a3ee6" stroke="#0a1e9a" stroke-width="0.5"/><circle cx="213.9" cy="371.4" r="2.1" fill="#1a3ee6" stroke="#0a1e9a" stroke-width="0.5"/><circle cx="221.7" cy="365.9" r="2.1" fill="#1a3ee6" stroke="#0a1e9a" stroke-width="0.5"/><circle cx="209.9" cy="371.2" r="2.1" fill="#1a3ee6" stroke="#0a1e9a" stroke-width="0.5"/><circle cx="240.4" cy="369.5" r="2.1" fill="#1a3ee6" stroke="#0a1e9a" stroke-width="0.5"/><circle cx="225.1" cy="369.1" r="2.1" fill="#1a3ee6" stroke="#0a1e9a" stroke-width="0.5"/><circle cx="214.2" cy="372.9" r="2.1" fill="#1a3ee6" stroke="#0a1e9a" stroke-width="0.5"/><circle cx="219.9" cy="369.8" r="2.1" fill="#1a3ee6" stroke="#0a1e9a" stroke-width="0.5"/><circle cx="240.8" cy="371.2" r="2.1" fill="#1a3ee6" stroke="#0a1e9a" stroke-width="0.5"/><circle cx="225.1" cy="366.6" r="2.1" fill="#1a3ee6" stroke="#0a1e9a" stroke-width="0.5"/><circle cx="228.7" cy="365.0" r="2.1" fill="#1a3ee6" stroke="#0a1e9a" stroke-width="0.5"/><circle cx="241.5" cy="367.0" r="2.1" fill="#1a3ee6" stroke="#0a1e9a" stroke-width="0.5"/><circle cx="242.2" cy="366.2" r="2.1" fill="#1a3ee6" stroke="#0a1e9a" stroke-width="0.5"/><circle cx="221.0" cy="366.3" r="2.1" fill="#1a3ee6" stroke="#0a1e9a" stroke-width="0.5"/><circle cx="223.2" cy="365.6" r="2.1" fill="#1a3ee6" stroke="#0a1e9a" stroke-width="0.5"/><circle cx="204.2" cy="370.8" r="2.1" fill="#1a3ee6" stroke="#0a1e9a" stroke-width="0.5"/><circle cx="216.7" cy="366.2" r="2.1" fill="#1a3ee6" stroke="#0a1e9a" stroke-width="0.5"/><circle cx="217.6" cy="368.4" r="2.1" fill="#1a3ee6" stroke="#0a1e9a" stroke-width="0.5"/><circle cx="223.3" cy="369.8" r="2.1" fill="#1a3ee6" stroke="#0a1e9a" stroke-width="0.5"/><circle cx="233.6" cy="367.2" r="2.1" fill="#1a3ee6" stroke="#0a1e9a" stroke-width="0.5"/><circle cx="245.7" cy="371.5" r="2.1" fill="#1a3ee6" stroke="#0a1e9a" stroke-width="0.5"/><circle cx="206.7" cy="371.8" r="2.1" fill="#1a3ee6" stroke="#0a1e9a" stroke-width="0.5"/><circle cx="244.7" cy="370.8" r="2.1" fill="#1a3ee6" stroke="#0a1e9a" stroke-width="0.5"/><circle cx="210.4" cy="371.7" r="2.1" fill="#1a3ee6" stroke="#0a1e9a" stroke-width="0.5"/><circle cx="232.5" cy="364.0" r="2.1" fill="#1a3ee6" stroke="#0a1e9a" stroke-width="0.5"/><circle cx="204.6" cy="373.0" r="2.1" fill="#1a3ee6" stroke="#0a1e9a" stroke-width="0.5"/><circle cx="233.5" cy="366.1" r="2.1" fill="#1a3ee6" stroke="#0a1e9a" stroke-width="0.5"/><circle cx="208.6" cy="365.3" r="2.1" fill="#1a3ee6" stroke="#0a1e9a" stroke-width="0.5"/><circle cx="214.6" cy="371.2" r="2.1" fill="#1a3ee6" stroke="#0a1e9a" stroke-width="0.5"/><circle cx="219.6" cy="365.3" r="2.1" fill="#1a3ee6" stroke="#0a1e9a" stroke-width="0.5"/><circle cx="244.6" cy="370.9" r="2.1" fill="#1a3ee6" stroke="#0a1e9a" stroke-width="0.5"/><circle cx="211.6" cy="372.3" r="2.1" fill="#1a3ee6" stroke="#0a1e9a" stroke-width="0.5"/><circle cx="231.4" cy="371.0" r="2.1" fill="#1a3ee6" stroke="#0a1e9a" stroke-width="0.5"/><circle cx="234.0" cy="372.0" r="2.1" fill="#1a3ee6" stroke="#0a1e9a" stroke-width="0.5"/><circle cx="239.4" cy="371.4" r="2.1" fill="#1a3ee6" stroke="#0a1e9a" stroke-width="0.5"/><circle cx="212.9" cy="370.4" r="2.1" fill="#1a3ee6" stroke="#0a1e9a" stroke-width="0.5"/><circle cx="227.9" cy="370.7" r="2.1" fill="#1a3ee6" stroke="#0a1e9a" stroke-width="0.5"/><circle cx="223.7" cy="372.0" r="2.1" fill="#1a3ee6" stroke="#0a1e9a" stroke-width="0.5"/><circle cx="229.0" cy="366.3" r="2.1" fill="#1a3ee6" stroke="#0a1e9a" stroke-width="0.5"/><circle cx="214.6" cy="365.2" r="2.1" fill="#1a3ee6" stroke="#0a1e9a" stroke-width="0.5"/><circle cx="226.2" cy="364.4" r="2.1" fill="#1a3ee6" stroke="#0a1e9a" stroke-width="0.5"/><circle cx="225.0" cy="365.2" r="2.1" fill="#1a3ee6" stroke="#0a1e9a" stroke-width="0.5"/><circle cx="226.1" cy="368.5" r="2.1" fill="#1a3ee6" stroke="#0a1e9a" stroke-width="0.5"/><circle cx="228.3" cy="371.8" r="2.1" fill="#1a3ee6" stroke="#0a1e9a" stroke-width="0.5"/><circle cx="204.4" cy="371.9" r="2.1" fill="#1a3ee6" stroke="#0a1e9a" stroke-width="0.5"/><circle cx="225.1" cy="369.1" r="2.1" fill="#1a3ee6" stroke="#0a1e9a" stroke-width="0.5"/><circle cx="233.9" cy="371.5" r="2.1" fill="#1a3ee6" stroke="#0a1e9a" stroke-width="0.5"/><circle cx="220.9" cy="367.8" r="2.1" fill="#1a3ee6" stroke="#0a1e9a" stroke-width="0.5"/><circle cx="247.1" cy="364.5" r="2.1" fill="#1a3ee6" stroke="#0a1e9a" stroke-width="0.5"/><circle cx="232.6" cy="369.7" r="2.1" fill="#1a3ee6" stroke="#0a1e9a" stroke-width="0.5"/><circle cx="205.4" cy="369.7" r="2.1" fill="#1a3ee6" stroke="#0a1e9a" stroke-width="0.5"/><circle cx="234.7" cy="372.3" r="2.1" fill="#1a3ee6" stroke="#0a1e9a" stroke-width="0.5"/><circle cx="218.9" cy="373.0" r="2.1" fill="#1a3ee6" stroke="#0a1e9a" stroke-width="0.5"/><circle cx="227.0" cy="368.3" r="2.1" fill="#1a3ee6" stroke="#0a1e9a" stroke-width="0.5"/><circle cx="244.3" cy="364.1" r="2.1" fill="#1a3ee6" stroke="#0a1e9a" stroke-width="0.5"/><circle cx="236.3" cy="369.5" r="2.1" fill="#1a3ee6" stroke="#0a1e9a" stroke-width="0.5"/><circle cx="219.3" cy="371.9" r="2.1" fill="#1a3ee6" stroke="#0a1e9a" stroke-width="0.5"/><circle cx="220.5" cy="368.3" r="2.1" fill="#1a3ee6" stroke="#0a1e9a" stroke-width="0.5"/><circle cx="227.6" cy="370.9" r="2.1" fill="#1a3ee6" stroke="#0a1e9a" stroke-width="0.5"/><circle cx="213.5" cy="368.0" r="2.1" fill="#1a3ee6" stroke="#0a1e9a" stroke-width="0.5"/><circle cx="223.0" cy="369.0" r="2.1" fill="#1a3ee6" stroke="#0a1e9a" stroke-width="0.5"/><circle cx="241.1" cy="366.5" r="2.1" fill="#1a3ee6" stroke="#0a1e9a" stroke-width="0.5"/><circle cx="241.2" cy="367.5" r="2.1" fill="#1a3ee6" stroke="#0a1e9a" stroke-width="0.5"/><circle cx="226.7" cy="366.4" r="2.1" fill="#1a3ee6" stroke="#0a1e9a" stroke-width="0.5"/><circle cx="226.8" cy="372.8" r="2.1" fill="#1a3ee6" stroke="#0a1e9a" stroke-width="0.5"/><circle cx="233.4" cy="371.1" r="2.1" fill="#1a3ee6" stroke="#0a1e9a" stroke-width="0.5"/><circle cx="218.9" cy="366.9" r="2.1" fill="#1a3ee6" stroke="#0a1e9a" stroke-width="0.5"/><circle cx="217.5" cy="369.4" r="2.1" fill="#1a3ee6" stroke="#0a1e9a" stroke-width="0.5"/><circle cx="232.5" cy="371.0" r="2.1" fill="#1a3ee6" stroke="#0a1e9a" stroke-width="0.5"/><circle cx="205.9" cy="370.8" r="2.1" fill="#1a3ee6" stroke="#0a1e9a" stroke-width="0.5"/><circle cx="243.8" cy="368.7" r="2.1" fill="#1a3ee6" stroke="#0a1e9a" stroke-width="0.5"/><circle cx="206.3" cy="366.8" r="2.1" fill="#1a3ee6" stroke="#0a1e9a" stroke-width="0.5"/><circle cx="204.4" cy="365.8" r="2.1" fill="#1a3ee6" stroke="#0a1e9a" stroke-width="0.5"/><circle cx="245.4" cy="369.3" r="2.1" fill="#1a3ee6" stroke="#0a1e9a" stroke-width="0.5"/><circle cx="233.6" cy="371.0" r="2.1" fill="#1a3ee6" stroke="#0a1e9a" stroke-width="0.5"/><circle cx="244.9" cy="369.3" r="2.1" fill="#1a3ee6" stroke="#0a1e9a" stroke-width="0.5"/><circle cx="231.7" cy="369.6" r="2.1" fill="#1a3ee6" stroke="#0a1e9a" stroke-width="0.5"/><circle cx="235.3" cy="369.3" r="2.1" fill="#1a3ee6" stroke="#0a1e9a" stroke-width="0.5"/><circle cx="234.6" cy="365.8" r="2.1" fill="#1a3ee6" stroke="#0a1e9a" stroke-width="0.5"/><circle cx="234.0" cy="368.0" r="2.1" fill="#1a3ee6" stroke="#0a1e9a" stroke-width="0.5"/><circle cx="238.3" cy="364.7" r="2.1" fill="#1a3ee6" stroke="#0a1e9a" stroke-width="0.5"/><circle cx="212.2" cy="364.3" r="2.1" fill="#1a3ee6" stroke="#0a1e9a" stroke-width="0.5"/><circle cx="238.8" cy="372.1" r="2.1" fill="#1a3ee6" stroke="#0a1e9a" stroke-width="0.5"/><circle cx="233.5" cy="367.2" r="2.1" fill="#1a3ee6" stroke="#0a1e9a" stroke-width="0.5"/><circle cx="241.0" cy="370.9" r="2.1" fill="#1a3ee6" stroke="#0a1e9a" stroke-width="0.5"/><circle cx="229.3" cy="366.2" r="2.1" fill="#1a3ee6" stroke="#0a1e9a" stroke-width="0.5"/><circle cx="217.6" cy="367.8" r="2.1" fill="#1a3ee6" stroke="#0a1e9a" stroke-width="0.5"/><circle cx="218.4" cy="367.9" r="2.1" fill="#1a3ee6" stroke="#0a1e9a" stroke-width="0.5"/><circle cx="232.9" cy="372.4" r="2.1" fill="#1a3ee6" stroke="#0a1e9a" stroke-width="0.5"/><circle cx="206.5" cy="369.3" r="2.1" fill="#1a3ee6" stroke="#0a1e9a" stroke-width="0.5"/><circle cx="205.9" cy="365.1" r="2.1" fill="#1a3ee6" stroke="#0a1e9a" stroke-width="0.5"/><circle cx="240.4" cy="369.0" r="2.1" fill="#1a3ee6" stroke="#0a1e9a" stroke-width="0.5"/><circle cx="245.3" cy="367.8" r="2.1" fill="#1a3ee6" stroke="#0a1e9a" stroke-width="0.5"/><circle cx="204.7" cy="367.6" r="2.1" fill="#1a3ee6" stroke="#0a1e9a" stroke-width="0.5"/><circle cx="230.6" cy="372.4" r="2.1" fill="#1a3ee6" stroke="#0a1e9a" stroke-width="0.5"/><circle cx="248.0" cy="368.0" r="2.1" fill="#1a3ee6" stroke="#0a1e9a" stroke-width="0.5"/><circle cx="222.6" cy="364.8" r="2.1" fill="#1a3ee6" stroke="#0a1e9a" stroke-width="0.5"/><circle cx="233.0" cy="365.8" r="2.1" fill="#1a3ee6" stroke="#0a1e9a" stroke-width="0.5"/><circle cx="210.9" cy="364.1" r="2.1" fill="#1a3ee6" stroke="#0a1e9a" stroke-width="0.5"/><circle cx="204.3" cy="370.4" r="2.1" fill="#1a3ee6" stroke="#0a1e9a" stroke-width="0.5"/><circle cx="209.6" cy="373.0" r="2.1" fill="#1a3ee6" stroke="#0a1e9a" stroke-width="0.5"/><circle cx="208.0" cy="372.1" r="2.1" fill="#1a3ee6" stroke="#0a1e9a" stroke-width="0.5"/><circle cx="209.9" cy="364.1" r="2.1" fill="#1a3ee6" stroke="#0a1e9a" stroke-width="0.5"/><circle cx="236.3" cy="366.0" r="2.1" fill="#1a3ee6" stroke="#0a1e9a" stroke-width="0.5"/><circle cx="237.0" cy="365.5" r="2.1" fill="#1a3ee6" stroke="#0a1e9a" stroke-width="0.5"/><circle cx="206.3" cy="371.3" r="2.1" fill="#1a3ee6" stroke="#0a1e9a" stroke-width="0.5"/><circle cx="236.1" cy="371.6" r="2.1" fill="#1a3ee6" stroke="#0a1e9a" stroke-width="0.5"/><circle cx="236.8" cy="364.6" r="2.1" fill="#1a3ee6" stroke="#0a1e9a" stroke-width="0.5"/><circle cx="232.3" cy="370.3" r="2.1" fill="#1a3ee6" stroke="#0a1e9a" stroke-width="0.5"/><circle cx="224.7" cy="372.5" r="2.1" fill="#1a3ee6" stroke="#0a1e9a" stroke-width="0.5"/><circle cx="215.5" cy="372.9" r="2.1" fill="#1a3ee6" stroke="#0a1e9a" stroke-width="0.5"/><circle cx="236.2" cy="363.9" r="2.1" fill="#1a3ee6" stroke="#0a1e9a" stroke-width="0.5"/><circle cx="204.8" cy="370.1" r="2.1" fill="#1a3ee6" stroke="#0a1e9a" stroke-width="0.5"/><circle cx="240.7" cy="364.5" r="2.1" fill="#1a3ee6" stroke="#0a1e9a" stroke-width="0.5"/><circle cx="218.0" cy="370.7" r="2.1" fill="#1a3ee6" stroke="#0a1e9a" stroke-width="0.5"/><circle cx="211.5" cy="372.0" r="2.1" fill="#1a3ee6" stroke="#0a1e9a" stroke-width="0.5"/><circle cx="225.9" cy="364.4" r="2.1" fill="#1a3ee6" stroke="#0a1e9a" stroke-width="0.5"/><circle cx="220.6" cy="369.2" r="2.1" fill="#1a3ee6" stroke="#0a1e9a" stroke-width="0.5"/><circle cx="223.8" cy="370.1" r="2.1" fill="#1a3ee6" stroke="#0a1e9a" stroke-width="0.5"/><circle cx="210.6" cy="371.4" r="2.1" fill="#1a3ee6" stroke="#0a1e9a" stroke-width="0.5"/><circle cx="220.4" cy="369.9" r="2.1" fill="#1a3ee6" stroke="#0a1e9a" stroke-width="0.5"/><circle cx="232.3" cy="367.7" r="2.1" fill="#1a3ee6" stroke="#0a1e9a" stroke-width="0.5"/><circle cx="221.4" cy="371.2" r="2.1" fill="#1a3ee6" stroke="#0a1e9a" stroke-width="0.5"/><circle cx="246.4" cy="370.8" r="2.1" fill="#1a3ee6" stroke="#0a1e9a" stroke-width="0.5"/><circle cx="229.5" cy="366.5" r="2.1" fill="#1a3ee6" stroke="#0a1e9a" stroke-width="0.5"/><circle cx="206.8" cy="373.1" r="2.1" fill="#1a3ee6" stroke="#0a1e9a" stroke-width="0.5"/><circle cx="235.6" cy="371.4" r="2.1" fill="#1a3ee6" stroke="#0a1e9a" stroke-width="0.5"/><circle cx="219.0" cy="369.5" r="2.1" fill="#1a3ee6" stroke="#0a1e9a" stroke-width="0.5"/>
</g>
<path d="M350.8,384.3H394.9" stroke="#111" stroke-width="1.2"/>
<path d="M350.8,365.2H394.9" stroke="#6a6a6a" stroke-width="1.6"/>
<path d="M350.8,365.2H394.9" stroke="#f04848" stroke-width="1.6" stroke-dasharray="9 9"/>
<rect x="203.1" y="279.1" width="191.79999999999998" height="191.09999999999997" fill="none" stroke="#333" stroke-width="1.2"/>
<path d="M249.9,279.1V470.2M350.8,279.1V470.2" stroke="#222" stroke-width="1.2"/>
<path d="M254.9,297.4H345.8" stroke="#000" stroke-width="1"/><path d="M250.70000000000002,297.4L257.5,293.9L257.5,300.9Z" fill="#000"/><path d="M350.5,297.4L343.7,293.9L343.7,300.9Z" fill="#000"/>
<text x="302.1" y="292.5" font-size="11.4" text-anchor="middle" font-family="Liberation Sans, sans-serif" fill="#111">4.5 nm</text>
<path d="M203.1,292.8h3" stroke="#222" stroke-width="1"/>
<text x="199" y="296.9" font-size="12" text-anchor="end" font-family="Liberation Sans, sans-serif" fill="#222">6</text>
<path d="M203.1,320.2h3" stroke="#222" stroke-width="1"/>
<text x="199" y="324.3" font-size="12" text-anchor="end" font-family="Liberation Sans, sans-serif" fill="#222">4</text>
<path d="M203.1,347.6h3" stroke="#222" stroke-width="1"/>
<text x="199" y="351.7" font-size="12" text-anchor="end" font-family="Liberation Sans, sans-serif" fill="#222">2</text>
<path d="M203.1,375.0h3" stroke="#222" stroke-width="1"/>
<text x="199" y="379.1" font-size="12" text-anchor="end" font-family="Liberation Sans, sans-serif" fill="#222">0</text>
<path d="M203.1,402.4h3" stroke="#222" stroke-width="1"/>
<text x="199" y="406.5" font-size="12" text-anchor="end" font-family="Liberation Sans, sans-serif" fill="#222">-2</text>
<path d="M203.1,429.8h3" stroke="#222" stroke-width="1"/>
<text x="199" y="433.9" font-size="12" text-anchor="end" font-family="Liberation Sans, sans-serif" fill="#222">-4</text>
<path d="M203.1,457.2h3" stroke="#222" stroke-width="1"/>
<text x="199" y="461.3" font-size="12" text-anchor="end" font-family="Liberation Sans, sans-serif" fill="#222">-6</text>
<path d="M217.0,470.2v-3" stroke="#222" stroke-width="1"/>
<text x="217.0" y="484" font-size="12" text-anchor="middle" font-family="Liberation Sans, sans-serif" fill="#222">-6</text>
<path d="M261.6,470.2v-3" stroke="#222" stroke-width="1"/>
<text x="261.6" y="484" font-size="12" text-anchor="middle" font-family="Liberation Sans, sans-serif" fill="#222">-4</text>
<path d="M306.2,470.2v-3" stroke="#222" stroke-width="1"/>
<text x="306.2" y="484" font-size="12" text-anchor="middle" font-family="Liberation Sans, sans-serif" fill="#222">-2</text>
<path d="M350.8,470.2v-3" stroke="#222" stroke-width="1"/>
<text x="350.8" y="484" font-size="12" text-anchor="middle" font-family="Liberation Sans, sans-serif" fill="#222">0</text>
<text x="395.4" y="484" font-size="12" text-anchor="middle" font-family="Liberation Sans, sans-serif" fill="#222">2</text>
<text x="298.4" y="502" font-size="11.5" text-anchor="middle" font-family="Liberation Sans, sans-serif" fill="#222">Distance (nm)</text>
<text transform="translate(178.2,374.2) rotate(-90)" font-size="11.5" text-anchor="middle" font-family="Liberation Sans, sans-serif" fill="#222">Electronic Energy (eV)</text>
<text x="208.8" y="463.6" font-size="9.5" font-family="Liberation Sans, sans-serif" fill="#111"><tspan font-style="italic">V</tspan><tspan font-size="7" dy="2">G</tspan><tspan dy="-2">= 10V</tspan></text>
</g>
<g id="pd">
<rect x="488.3" y="279.1" width="192.49999999999994" height="191.09999999999997" fill="none" stroke="#333" stroke-width="1.2"/>
<circle cx="583.6" cy="320.4" r="2.7" fill="none" stroke="#3a3ad6" stroke-width="0.85"/>
<circle cx="556.4" cy="328.6" r="2.7" fill="none" stroke="#3a3ad6" stroke-width="0.85"/>
<circle cx="566.9" cy="327.9" r="2.7" fill="none" stroke="#3a3ad6" stroke-width="0.85"/>
<circle cx="571.8" cy="331.2" r="2.7" fill="none" stroke="#3a3ad6" stroke-width="0.85"/>
<circle cx="575.7" cy="334.2" r="2.7" fill="none" stroke="#3a3ad6" stroke-width="0.85"/>
<circle cx="583.6" cy="333.2" r="2.7" fill="none" stroke="#3a3ad6" stroke-width="0.85"/>
<circle cx="566.9" cy="339.1" r="2.7" fill="none" stroke="#3a3ad6" stroke-width="0.85"/>
<circle cx="567.8" cy="343" r="2.7" fill="none" stroke="#3a3ad6" stroke-width="0.85"/>
<circle cx="578.7" cy="339.1" r="2.7" fill="none" stroke="#3a3ad6" stroke-width="0.85"/>
<circle cx="579.7" cy="342.1" r="2.7" fill="none" stroke="#3a3ad6" stroke-width="0.85"/>
<circle cx="576.7" cy="343.6" r="2.7" fill="none" stroke="#3a3ad6" stroke-width="0.85"/>
<circle cx="542.2" cy="341.1" r="2.7" fill="none" stroke="#3a3ad6" stroke-width="0.85"/>
<circle cx="546.1" cy="341.1" r="2.7" fill="none" stroke="#3a3ad6" stroke-width="0.85"/>
<circle cx="551.1" cy="342.1" r="2.7" fill="none" stroke="#3a3ad6" stroke-width="0.85"/>
<circle cx="543.2" cy="345" r="2.7" fill="none" stroke="#3a3ad6" stroke-width="0.85"/>
<circle cx="534.7" cy="351.9" r="2.7" fill="none" stroke="#3a3ad6" stroke-width="0.85"/>
<circle cx="548.1" cy="355.5" r="2.7" fill="none" stroke="#3a3ad6" stroke-width="0.85"/>
<circle cx="543.2" cy="360.2" r="2.7" fill="none" stroke="#3a3ad6" stroke-width="0.85"/>
<circle cx="565.9" cy="353.3" r="2.7" fill="none" stroke="#3a3ad6" stroke-width="0.85"/>
<circle cx="572.8" cy="352.9" r="2.7" fill="none" stroke="#3a3ad6" stroke-width="0.85"/>
<circle cx="571.8" cy="354.9" r="2.7" fill="none" stroke="#3a3ad6" stroke-width="0.85"/>
<circle cx="571.8" cy="359.8" r="2.7" fill="none" stroke="#3a3ad6" stroke-width="0.85"/>
<circle cx="577.7" cy="360.8" r="2.7" fill="none" stroke="#3a3ad6" stroke-width="0.85"/>
<circle cx="581.6" cy="359.8" r="2.7" fill="none" stroke="#3a3ad6" stroke-width="0.85"/>
<circle cx="584.6" cy="360.2" r="2.7" fill="none" stroke="#3a3ad6" stroke-width="0.85"/>
<circle cx="539.2" cy="367.7" r="2.7" fill="none" stroke="#3a3ad6" stroke-width="0.85"/>
<circle cx="542.2" cy="369.3" r="2.7" fill="none" stroke="#3a3ad6" stroke-width="0.85"/>
<circle cx="543.2" cy="370.7" r="2.7" fill="none" stroke="#3a3ad6" stroke-width="0.85"/>
<circle cx="558" cy="368.7" r="2.7" fill="none" stroke="#3a3ad6" stroke-width="0.85"/>
<circle cx="568.8" cy="365.7" r="2.7" fill="none" stroke="#3a3ad6" stroke-width="0.85"/>
<circle cx="574.7" cy="365.7" r="2.7" fill="none" stroke="#3a3ad6" stroke-width="0.85"/>
<circle cx="574.7" cy="368.7" r="2.7" fill="none" stroke="#3a3ad6" stroke-width="0.85"/>
<circle cx="564.9" cy="370.7" r="2.7" fill="none" stroke="#3a3ad6" stroke-width="0.85"/>
<circle cx="567.8" cy="371.6" r="2.7" fill="none" stroke="#3a3ad6" stroke-width="0.85"/>
<circle cx="530.4" cy="372.6" r="2.7" fill="none" stroke="#3a3ad6" stroke-width="0.85"/>
<circle cx="526.4" cy="374.6" r="2.7" fill="none" stroke="#3a3ad6" stroke-width="0.85"/>
<circle cx="533" cy="382.6" r="2.7" fill="none" stroke="#3a3ad6" stroke-width="0.85"/>
<circle cx="539.9" cy="381.6" r="2.7" fill="none" stroke="#3a3ad6" stroke-width="0.85"/>
<circle cx="545.5" cy="383.2" r="2.7" fill="none" stroke="#3a3ad6" stroke-width="0.85"/>
<circle cx="522.7" cy="389.4" r="2.7" fill="none" stroke="#3a3ad6" stroke-width="0.85"/>
<circle cx="520.2" cy="393" r="2.7" fill="none" stroke="#3a3ad6" stroke-width="0.85"/>
<circle cx="528.9" cy="390.9" r="2.7" fill="none" stroke="#3a3ad6" stroke-width="0.85"/>
<circle cx="541.9" cy="389.8" r="2.7" fill="none" stroke="#3a3ad6" stroke-width="0.85"/>
<circle cx="549.2" cy="390.9" r="2.7" fill="none" stroke="#3a3ad6" stroke-width="0.85"/>
<circle cx="554.4" cy="387.8" r="2.7" fill="none" stroke="#3a3ad6" stroke-width="0.85"/>
<circle cx="552.9" cy="395.6" r="2.7" fill="none" stroke="#3a3ad6" stroke-width="0.85"/>
<circle cx="511.5" cy="407" r="2.7" fill="none" stroke="#3a3ad6" stroke-width="0.85"/>
<circle cx="520.6" cy="401.9" r="2.7" fill="none" stroke="#3a3ad6" stroke-width="0.85"/>
<circle cx="521.2" cy="403.3" r="2.7" fill="none" stroke="#3a3ad6" stroke-width="0.85"/>
<circle cx="526.4" cy="401.2" r="2.7" fill="none" stroke="#3a3ad6" stroke-width="0.85"/>
<circle cx="524.3" cy="404.8" r="2.7" fill="none" stroke="#3a3ad6" stroke-width="0.85"/>
<circle cx="535.7" cy="410.5" r="2.7" fill="none" stroke="#3a3ad6" stroke-width="0.85"/>
<circle cx="555.4" cy="406" r="2.7" fill="none" stroke="#3a3ad6" stroke-width="0.85"/>
<circle cx="519.8" cy="413.7" r="2.7" fill="none" stroke="#3a3ad6" stroke-width="0.85"/>
<circle cx="524.3" cy="412.2" r="2.7" fill="none" stroke="#3a3ad6" stroke-width="0.85"/>
<circle cx="520.6" cy="417.8" r="2.7" fill="none" stroke="#3a3ad6" stroke-width="0.85"/>
<circle cx="521.9" cy="420.9" r="2.7" fill="none" stroke="#3a3ad6" stroke-width="0.85"/>
<circle cx="548.1" cy="414.7" r="2.7" fill="none" stroke="#3a3ad6" stroke-width="0.85"/>
<circle cx="552.3" cy="415.7" r="2.7" fill="none" stroke="#3a3ad6" stroke-width="0.85"/>
<circle cx="554.4" cy="411.6" r="2.7" fill="none" stroke="#3a3ad6" stroke-width="0.85"/>
<circle cx="511.9" cy="419.9" r="2.7" fill="none" stroke="#3a3ad6" stroke-width="0.85"/>
<circle cx="511.9" cy="426.1" r="2.7" fill="none" stroke="#3a3ad6" stroke-width="0.85"/>
<circle cx="517.7" cy="426.7" r="2.7" fill="none" stroke="#3a3ad6" stroke-width="0.85"/>
<circle cx="539.9" cy="420.5" r="2.7" fill="none" stroke="#3a3ad6" stroke-width="0.85"/>
<circle cx="544.4" cy="425" r="2.7" fill="none" stroke="#3a3ad6" stroke-width="0.85"/>
<circle cx="526.4" cy="431.7" r="2.7" fill="none" stroke="#3a3ad6" stroke-width="0.85"/>
<circle cx="531.6" cy="432.9" r="2.7" fill="none" stroke="#3a3ad6" stroke-width="0.85"/>
<circle cx="527.4" cy="435.4" r="2.7" fill="none" stroke="#3a3ad6" stroke-width="0.85"/>
<circle cx="522.3" cy="436.4" r="2.7" fill="none" stroke="#3a3ad6" stroke-width="0.85"/>
<circle cx="533" cy="438.5" r="2.7" fill="none" stroke="#3a3ad6" stroke-width="0.85"/>
<circle cx="533.7" cy="441.6" r="2.7" fill="none" stroke="#3a3ad6" stroke-width="0.85"/>
<circle cx="540.5" cy="437.5" r="2.7" fill="none" stroke="#3a3ad6" stroke-width="0.85"/>
<circle cx="518.1" cy="438.5" r="2.7" fill="none" stroke="#3a3ad6" stroke-width="0.85"/>
<circle cx="519.2" cy="442" r="2.7" fill="none" stroke="#3a3ad6" stroke-width="0.85"/>
<circle cx="515" cy="443.7" r="2.7" fill="none" stroke="#3a3ad6" stroke-width="0.85"/>
<circle cx="511.9" cy="444.7" r="2.7" fill="none" stroke="#3a3ad6" stroke-width="0.85"/>
<circle cx="518.1" cy="445.7" r="2.7" fill="none" stroke="#3a3ad6" stroke-width="0.85"/>
<circle cx="524.3" cy="444.7" r="2.7" fill="none" stroke="#3a3ad6" stroke-width="0.85"/>
<circle cx="523.3" cy="446.4" r="2.7" fill="none" stroke="#3a3ad6" stroke-width="0.85"/>
<circle cx="509.8" cy="447.8" r="2.7" fill="none" stroke="#3a3ad6" stroke-width="0.85"/>
<circle cx="511.5" cy="448.8" r="2.7" fill="none" stroke="#3a3ad6" stroke-width="0.85"/>
<circle cx="514" cy="448.8" r="2.7" fill="none" stroke="#3a3ad6" stroke-width="0.85"/>
<circle cx="508.8" cy="449.9" r="2.7" fill="none" stroke="#3a3ad6" stroke-width="0.85"/>
<circle cx="515" cy="450.9" r="2.7" fill="none" stroke="#3a3ad6" stroke-width="0.85"/>
<circle cx="510.9" cy="456.1" r="2.7" fill="none" stroke="#3a3ad6" stroke-width="0.85"/>
<circle cx="514" cy="457.1" r="2.7" fill="none" stroke="#3a3ad6" stroke-width="0.85"/>
<circle cx="517.1" cy="456.1" r="2.7" fill="none" stroke="#3a3ad6" stroke-width="0.85"/>
<circle cx="629.3" cy="305.6" r="2.7" fill="none" stroke="#3a3ad6" stroke-width="0.85"/>
<circle cx="588.9" cy="321.9" r="2.7" fill="none" stroke="#3a3ad6" stroke-width="0.85"/>
<circle cx="593.4" cy="321.9" r="2.7" fill="none" stroke="#3a3ad6" stroke-width="0.85"/>
<circle cx="603.7" cy="322.3" r="2.7" fill="none" stroke="#3a3ad6" stroke-width="0.85"/>
<circle cx="599.3" cy="326.7" r="2.7" fill="none" stroke="#3a3ad6" stroke-width="0.85"/>
<circle cx="610.6" cy="320.8" r="2.7" fill="none" stroke="#3a3ad6" stroke-width="0.85"/>
<circle cx="615.5" cy="316" r="2.7" fill="none" stroke="#3a3ad6" stroke-width="0.85"/>
<circle cx="616.5" cy="321.4" r="2.7" fill="none" stroke="#3a3ad6" stroke-width="0.85"/>
<circle cx="617.5" cy="324.3" r="2.7" fill="none" stroke="#3a3ad6" stroke-width="0.85"/>
<circle cx="622.4" cy="318.4" r="2.7" fill="none" stroke="#3a3ad6" stroke-width="0.85"/>
<circle cx="627.3" cy="316.4" r="2.7" fill="none" stroke="#3a3ad6" stroke-width="0.85"/>
<circle cx="631.3" cy="314.4" r="2.7" fill="none" stroke="#3a3ad6" stroke-width="0.85"/>
<circle cx="633.3" cy="319.4" r="2.7" fill="none" stroke="#3a3ad6" stroke-width="0.85"/>
<circle cx="636.2" cy="312.5" r="2.7" fill="none" stroke="#3a3ad6" stroke-width="0.85"/>
<circle cx="639.2" cy="314.4" r="2.7" fill="none" stroke="#3a3ad6" stroke-width="0.85"/>
<circle cx="641.1" cy="308.5" r="2.7" fill="none" stroke="#3a3ad6" stroke-width="0.85"/>
<circle cx="644.1" cy="311.5" r="2.7" fill="none" stroke="#3a3ad6" stroke-width="0.85"/>
<circle cx="648" cy="304.6" r="2.7" fill="none" stroke="#3a3ad6" stroke-width="0.85"/>
<circle cx="651" cy="306.6" r="2.7" fill="none" stroke="#3a3ad6" stroke-width="0.85"/>
<circle cx="653" cy="309.5" r="2.7" fill="none" stroke="#3a3ad6" stroke-width="0.85"/>
<circle cx="657.9" cy="304.2" r="2.7" fill="none" stroke="#3a3ad6" stroke-width="0.85"/>
<circle cx="656.9" cy="312.5" r="2.7" fill="none" stroke="#3a3ad6" stroke-width="0.85"/>
<circle cx="660.9" cy="312.5" r="2.7" fill="none" stroke="#3a3ad6" stroke-width="0.85"/>
<circle cx="649" cy="316.4" r="2.7" fill="none" stroke="#3a3ad6" stroke-width="0.85"/>
<circle cx="650" cy="322.3" r="2.7" fill="none" stroke="#3a3ad6" stroke-width="0.85"/>
<circle cx="645.1" cy="317.4" r="2.7" fill="none" stroke="#3a3ad6" stroke-width="0.85"/>
<circle cx="639.2" cy="320.4" r="2.7" fill="none" stroke="#3a3ad6" stroke-width="0.85"/>
<circle cx="635.2" cy="323.3" r="2.7" fill="none" stroke="#3a3ad6" stroke-width="0.85"/>
<circle cx="629.3" cy="322.3" r="2.7" fill="none" stroke="#3a3ad6" stroke-width="0.85"/>
<circle cx="625.4" cy="326.3" r="2.7" fill="none" stroke="#3a3ad6" stroke-width="0.85"/>
<circle cx="621.4" cy="328.3" r="2.7" fill="none" stroke="#3a3ad6" stroke-width="0.85"/>
<circle cx="629.3" cy="327.3" r="2.7" fill="none" stroke="#3a3ad6" stroke-width="0.85"/>
<circle cx="630.3" cy="335.2" r="2.7" fill="none" stroke="#3a3ad6" stroke-width="0.85"/>
<circle cx="619.4" cy="330.2" r="2.7" fill="none" stroke="#3a3ad6" stroke-width="0.85"/>
<circle cx="614.5" cy="328.3" r="2.7" fill="none" stroke="#3a3ad6" stroke-width="0.85"/>
<circle cx="609.6" cy="330.2" r="2.7" fill="none" stroke="#3a3ad6" stroke-width="0.85"/>
<circle cx="609.6" cy="333.2" r="2.7" fill="none" stroke="#3a3ad6" stroke-width="0.85"/>
<circle cx="612.5" cy="340.1" r="2.7" fill="none" stroke="#3a3ad6" stroke-width="0.85"/>
<circle cx="605.6" cy="336.1" r="2.7" fill="none" stroke="#3a3ad6" stroke-width="0.85"/>
<circle cx="599.7" cy="333.2" r="2.7" fill="none" stroke="#3a3ad6" stroke-width="0.85"/>
<circle cx="601.7" cy="340.1" r="2.7" fill="none" stroke="#3a3ad6" stroke-width="0.85"/>
<circle cx="596.8" cy="338.1" r="2.7" fill="none" stroke="#3a3ad6" stroke-width="0.85"/>
<circle cx="586.9" cy="334.2" r="2.7" fill="none" stroke="#3a3ad6" stroke-width="0.85"/>
<circle cx="585.9" cy="342.1" r="2.7" fill="none" stroke="#3a3ad6" stroke-width="0.85"/>
<circle cx="588.9" cy="344" r="2.7" fill="none" stroke="#3a3ad6" stroke-width="0.85"/>
<circle cx="591.8" cy="344" r="2.7" fill="none" stroke="#3a3ad6" stroke-width="0.85"/>
<circle cx="594.8" cy="343" r="2.7" fill="none" stroke="#3a3ad6" stroke-width="0.85"/>
<circle cx="599.7" cy="346" r="2.7" fill="none" stroke="#3a3ad6" stroke-width="0.85"/>
<circle cx="590.8" cy="348" r="2.7" fill="none" stroke="#3a3ad6" stroke-width="0.85"/>
<circle cx="586.9" cy="359.8" r="2.7" fill="none" stroke="#3a3ad6" stroke-width="0.85"/>
<circle cx="543.5" cy="358.4" r="2.7" fill="none" stroke="#3a3ad6" stroke-width="0.85"/>
<circle cx="587.7" cy="345.2" r="2.7" fill="none" stroke="#3a3ad6" stroke-width="0.85"/>
<circle cx="613.2" cy="334.2" r="2.7" fill="none" stroke="#3a3ad6" stroke-width="0.85"/>
<circle cx="615.3" cy="323.1" r="2.7" fill="none" stroke="#3a3ad6" stroke-width="0.85"/>
<circle cx="618" cy="325.9" r="2.7" fill="none" stroke="#3a3ad6" stroke-width="0.85"/>
<circle cx="577.3" cy="339.7" r="2.7" fill="none" stroke="#3a3ad6" stroke-width="0.85"/>
<circle cx="652.8" cy="304.8" r="2.7" fill="none" stroke="#3a3ad6" stroke-width="0.85"/>
<circle cx="648.7" cy="306.9" r="2.7" fill="none" stroke="#3a3ad6" stroke-width="0.85"/>
<circle cx="657.9" cy="309.9" r="2.7" fill="none" stroke="#3a3ad6" stroke-width="0.85"/>
<circle cx="655.9" cy="315" r="2.7" fill="none" stroke="#3a3ad6" stroke-width="0.85"/>
<circle cx="650.8" cy="312.5" r="2.7" fill="none" stroke="#3a3ad6" stroke-width="0.85"/>
<circle cx="646.7" cy="312.5" r="2.7" fill="none" stroke="#3a3ad6" stroke-width="0.85"/>
<circle cx="643.6" cy="313.5" r="2.7" fill="none" stroke="#3a3ad6" stroke-width="0.85"/>
<circle cx="639.5" cy="312" r="2.7" fill="none" stroke="#3a3ad6" stroke-width="0.85"/>
<circle cx="636.5" cy="314" r="2.7" fill="none" stroke="#3a3ad6" stroke-width="0.85"/>
<circle cx="633.4" cy="314.5" r="2.7" fill="none" stroke="#3a3ad6" stroke-width="0.85"/>
<circle cx="624.2" cy="317.6" r="2.7" fill="none" stroke="#3a3ad6" stroke-width="0.85"/>
<circle cx="640.5" cy="319.6" r="2.7" fill="none" stroke="#3a3ad6" stroke-width="0.85"/>
<circle cx="637.5" cy="320.6" r="2.7" fill="none" stroke="#3a3ad6" stroke-width="0.85"/>
<circle cx="631.3" cy="320.6" r="2.7" fill="none" stroke="#3a3ad6" stroke-width="0.85"/>
<circle cx="628.3" cy="319.6" r="2.7" fill="none" stroke="#3a3ad6" stroke-width="0.85"/>
<circle cx="625.2" cy="320.6" r="2.7" fill="none" stroke="#3a3ad6" stroke-width="0.85"/>
<circle cx="618.1" cy="320.6" r="2.7" fill="none" stroke="#3a3ad6" stroke-width="0.85"/>
<circle cx="621.1" cy="323.7" r="2.7" fill="none" stroke="#3a3ad6" stroke-width="0.85"/>
<circle cx="629.3" cy="324.7" r="2.7" fill="none" stroke="#3a3ad6" stroke-width="0.85"/>
<circle cx="632.9" cy="323.7" r="2.7" fill="none" stroke="#3a3ad6" stroke-width="0.85"/>
<circle cx="636.5" cy="325.2" r="2.7" fill="none" stroke="#3a3ad6" stroke-width="0.85"/>
<circle cx="638.5" cy="324.7" r="2.7" fill="none" stroke="#3a3ad6" stroke-width="0.85"/>
<circle cx="635.4" cy="329.8" r="2.7" fill="none" stroke="#3a3ad6" stroke-width="0.85"/>
<circle cx="630.3" cy="328.8" r="2.7" fill="none" stroke="#3a3ad6" stroke-width="0.85"/>
<circle cx="626.2" cy="330.9" r="2.7" fill="none" stroke="#3a3ad6" stroke-width="0.85"/>
<circle cx="622.2" cy="330.9" r="2.7" fill="none" stroke="#3a3ad6" stroke-width="0.85"/>
<circle cx="618.1" cy="329.3" r="2.7" fill="none" stroke="#3a3ad6" stroke-width="0.85"/>
<circle cx="615" cy="333.9" r="2.7" fill="none" stroke="#3a3ad6" stroke-width="0.85"/>
<polyline points="509.8,439.1 520.5,429.6 531.1,420.5 541.9,411.6 552.5,402.9 563.2,395.0 574.0,386.7 584.6,379.5 595.4,372.0 606.0,366.1 616.8,359.8 627.5,354.3 638.1,348.8 648.9,343.6 659.5,338.5" fill="none" stroke="#0a10f0" stroke-width="2"/>
<circle cx="509.8" cy="439.1" r="2.85" fill="#0a10f0"/>
<circle cx="520.5" cy="429.6" r="2.85" fill="#0a10f0"/>
<circle cx="531.1" cy="420.5" r="2.85" fill="#0a10f0"/>
<circle cx="541.9" cy="411.6" r="2.85" fill="#0a10f0"/>
<circle cx="552.5" cy="402.9" r="2.85" fill="#0a10f0"/>
<circle cx="563.2" cy="395.0" r="2.85" fill="#0a10f0"/>
<circle cx="574.0" cy="386.7" r="2.85" fill="#0a10f0"/>
<circle cx="584.6" cy="379.5" r="2.85" fill="#0a10f0"/>
<circle cx="595.4" cy="372.0" r="2.85" fill="#0a10f0"/>
<circle cx="606.0" cy="366.1" r="2.85" fill="#0a10f0"/>
<circle cx="616.8" cy="359.8" r="2.85" fill="#0a10f0"/>
<circle cx="627.5" cy="354.3" r="2.85" fill="#0a10f0"/>
<circle cx="638.1" cy="348.8" r="2.85" fill="#0a10f0"/>
<circle cx="648.9" cy="343.6" r="2.85" fill="#0a10f0"/>
<circle cx="659.5" cy="338.5" r="2.85" fill="#0a10f0"/>
<path d="M488.3,445.1h3.2" stroke="#222" stroke-width="1"/>
<path d="M488.3,419.5h3.2" stroke="#222" stroke-width="1"/>
<path d="M488.3,394.0h3.2" stroke="#222" stroke-width="1"/>
<path d="M488.3,368.4h3.2" stroke="#222" stroke-width="1"/>
<path d="M488.3,342.8h3.2" stroke="#222" stroke-width="1"/>
<path d="M488.3,317.2h3.2" stroke="#222" stroke-width="1"/>
<path d="M488.3,291.6h3.2" stroke="#222" stroke-width="1"/>
<text x="486.4" y="474.9" font-size="12" text-anchor="end" font-family="Liberation Sans, sans-serif" fill="#222">2</text>
<text x="486.4" y="449.3" font-size="12" text-anchor="end" font-family="Liberation Sans, sans-serif" fill="#222">4</text>
<text x="486.4" y="423.7" font-size="12" text-anchor="end" font-family="Liberation Sans, sans-serif" fill="#222">6</text>
<text x="486.4" y="398.2" font-size="12" text-anchor="end" font-family="Liberation Sans, sans-serif" fill="#222">8</text>
<text x="486.4" y="372.6" font-size="12" text-anchor="end" font-family="Liberation Sans, sans-serif" fill="#222">10</text>
<text x="486.4" y="347.0" font-size="12" text-anchor="end" font-family="Liberation Sans, sans-serif" fill="#222">12</text>
<text x="486.4" y="321.4" font-size="12" text-anchor="end" font-family="Liberation Sans, sans-serif" fill="#222">14</text>
<text x="486.4" y="295.8" font-size="12" text-anchor="end" font-family="Liberation Sans, sans-serif" fill="#222">16</text>
<text x="488.3" y="484" font-size="12" text-anchor="middle" font-family="Liberation Sans, sans-serif" fill="#222">0</text>
<path d="M531.1,470.2v-3.2" stroke="#222" stroke-width="1"/>
<text x="531.1" y="484" font-size="12" text-anchor="middle" font-family="Liberation Sans, sans-serif" fill="#222">2</text>
<path d="M573.9,470.2v-3.2" stroke="#222" stroke-width="1"/>
<text x="573.9" y="484" font-size="12" text-anchor="middle" font-family="Liberation Sans, sans-serif" fill="#222">4</text>
<path d="M616.7,470.2v-3.2" stroke="#222" stroke-width="1"/>
<text x="616.7" y="484" font-size="12" text-anchor="middle" font-family="Liberation Sans, sans-serif" fill="#222">6</text>
<path d="M659.5,470.2v-3.2" stroke="#222" stroke-width="1"/>
<text x="659.5" y="484" font-size="12" text-anchor="middle" font-family="Liberation Sans, sans-serif" fill="#222">8</text>
<text x="584.6" y="502.3" font-size="11.5" text-anchor="middle" font-family="Liberation Sans, sans-serif" fill="#222">Height (nm)</text>
<text transform="translate(460.6,374.6) rotate(-90)" font-size="11.5" text-anchor="middle" font-family="Liberation Sans, sans-serif" fill="#222">&#916;<tspan font-style="italic">V</tspan> (V)</text>
<path d="M580.4,442.6H599.7" stroke="#0a10f0" stroke-width="2"/><circle cx="589.5" cy="442.6" r="3" fill="#0a10f0"/>
<circle cx="589.5" cy="455.2" r="2.7" fill="none" stroke="#3a3ad6" stroke-width="0.85"/>
<text x="605.6" y="446.4" font-size="11.5" font-family="Liberation Sans, sans-serif" fill="#111">Calculation</text>
<text x="605.6" y="459.4" font-size="11.5" font-family="Liberation Sans, sans-serif" fill="#111">Measurement</text>
<text x="441.6" y="292.1" font-size="22" font-weight="bold" font-family="Liberation Sans, sans-serif" fill="#000">d</text>
</g>
</svg></body></html>
